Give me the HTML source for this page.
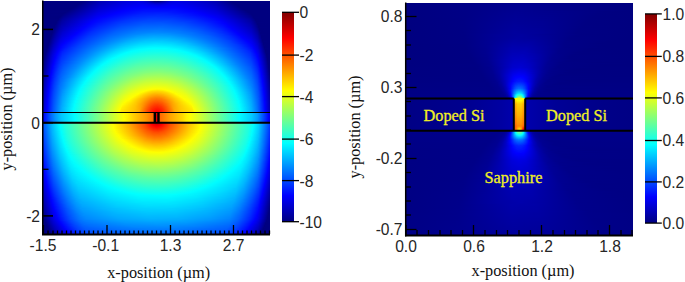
<!DOCTYPE html>
<html><head><meta charset="utf-8"><style>
*{margin:0;padding:0}
html,body{width:685px;height:282px;background:#fff;overflow:hidden}
body{position:relative;font-family:"Liberation Sans",sans-serif}
.a{position:absolute}
.hm i{display:block;height:1px}
.n{position:absolute;font:15.6px/16px "Liberation Sans",sans-serif;color:#262626;white-space:nowrap}
.s{position:absolute;font:16.3px/16px "Liberation Serif",serif;color:#111;white-space:nowrap}
.y{position:absolute;font:16.3px/16px "Liberation Serif",serif;color:#f2f024;-webkit-text-stroke:0.3px #f2f024;white-space:nowrap}
</style></head><body>
<div class="a hm" style="left:43px;top:1px;width:227px;height:233px">
<i style="background:linear-gradient(90deg,#000080 0.5px,#000082 40.5px,#0000b4 56.5px,#0000d8 79.5px,#0000e4 95.5px,#0000da 100.5px,#0000c3 104.5px,#000089 111.5px,#000080 114.5px,#000089 117.5px,#0000ca 125.5px,#0000dd 129.5px,#0000e3 135.5px,#0000cf 155.5px,#0000b2 172.5px,#000081 187.5px,#000080 226.5px)"></i>
<i style="background:linear-gradient(90deg,#000080 0.5px,#000081 38.5px,#0000b9 56.5px,#0000de 81.5px,#0000e8 95.5px,#0000e3 100.5px,#0000cf 105.5px,#0000ae 111.5px,#0000a9 115.5px,#0000b7 119.5px,#0000dd 126.5px,#0000e7 131.5px,#0000e2 142.5px,#0000c5 164.5px,#0000b3 173.5px,#000080 189.5px,#000080 226.5px)"></i>
<i style="background:linear-gradient(90deg,#000080 0.5px,#000080 36.5px,#0000bf 57.5px,#0000e3 82.5px,#0000ed 97.5px,#0000e4 103.5px,#0000c6 112.5px,#0000c6 116.5px,#0000e8 127.5px,#0000ec 135.5px,#0000d4 157.5px,#0000ba 172.5px,#000081 190.5px,#000080 226.5px)"></i>
<i style="background:linear-gradient(90deg,#000080 0.5px,#000082 35.5px,#0000a9 48.5px,#0000c1 56.5px,#0000e3 79.5px,#0000f2 96.5px,#0000ed 103.5px,#0000d9 113.5px,#0000db 117.5px,#0000ef 127.5px,#0000ef 137.5px,#0000cf 163.5px,#0000bc 173.5px,#000080 192.5px,#000080 226.5px)"></i>
<i style="background:linear-gradient(90deg,#000080 0.5px,#000081 33.5px,#0000b4 50.5px,#0000c7 57.5px,#0000ec 83.5px,#0000f7 99.5px,#0000e7 115.5px,#0000f6 129.5px,#0000ed 143.5px,#0000c9 169.5px,#0000ad 179.5px,#000080 194.5px,#000080 226.5px)"></i>
<i style="background:linear-gradient(90deg,#000080 0.5px,#000082 32.5px,#0000ca 56.5px,#0000f0 83.5px,#0000fc 99.5px,#0000f2 115.5px,#0000fb 129.5px,#0000ef 145.5px,#0000c8 172.5px,#000081 195.5px,#000080 226.5px)"></i>
<i style="background:linear-gradient(90deg,#000080 0.5px,#000081 30.5px,#0000ce 56.5px,#0000f6 84.5px,#0001ff 98.5px,#0000fc 118.5px,#0000fe 133.5px,#0000ea 153.5px,#0000c9 173.5px,#000080 197.5px,#000080 226.5px)"></i>
<i style="background:linear-gradient(90deg,#000080 0.5px,#000080 28.5px,#0000d0 55.5px,#0000f8 82.5px,#0002ff 92.5px,#0006ff 106.5px,#0003ff 134.5px,#0000f9 144.5px,#0000d2 171.5px,#000080 199.5px,#000080 226.5px)"></i>
<i style="background:linear-gradient(90deg,#000080 0.5px,#000082 27.5px,#0000d5 55.5px,#0000fc 82.5px,#000aff 100.5px,#0009ff 131.5px,#0000fc 145.5px,#0000d8 170.5px,#0000c2 178.5px,#000080 200.5px,#000080 226.5px)"></i>
<i style="background:linear-gradient(90deg,#000080 0.5px,#000080 25.5px,#0000d9 55.5px,#0000fe 80.5px,#0010ff 103.5px,#000dff 131.5px,#0000fc 149.5px,#0000d9 172.5px,#000080 202.5px,#000080 226.5px)"></i>
<i style="background:linear-gradient(90deg,#000080 0.5px,#000082 24.5px,#0000dd 55.5px,#0000ff 77.5px,#0013ff 99.5px,#0013ff 128.5px,#0000fe 151.5px,#0000db 173.5px,#000080 204.5px,#000080 226.5px)"></i>
<i style="background:linear-gradient(90deg,#000080 0.5px,#000081 22.5px,#0000e2 55.5px,#0001ff 74.5px,#0019ff 100.5px,#001bff 122.5px,#0006ff 149.5px,#0000fa 157.5px,#0000dd 174.5px,#000080 205.5px,#000080 226.5px)"></i>
<i style="background:linear-gradient(90deg,#000080 0.5px,#000080 20.5px,#0000e5 54.5px,#0001ff 71.5px,#001eff 100.5px,#0021ff 121.5px,#0010ff 143.5px,#0000fd 158.5px,#0000e1 174.5px,#000080 207.5px,#000080 226.5px)"></i>
<i style="background:linear-gradient(90deg,#000080 0.5px,#000082 19.5px,#0000e9 54.5px,#0001ff 68.5px,#0021ff 96.5px,#0027ff 117.5px,#001aff 139.5px,#0000fd 161.5px,#0000e6 174.5px,#000080 208.5px,#000080 226.5px)"></i>
<i style="background:linear-gradient(90deg,#000080 0.5px,#000081 18.5px,#000096 24.5px,#0000ee 54.5px,#0001ff 65.5px,#0025ff 94.5px,#002cff 114.5px,#0025ff 133.5px,#0000fd 164.5px,#0000e9 175.5px,#000089 207.5px,#000080 209.5px,#000080 226.5px)"></i>
<i style="background:linear-gradient(90deg,#000080 0.5px,#000080 17.5px,#00008f 20.5px,#0000f3 54.5px,#0001ff 62.5px,#0025ff 89.5px,#0031ff 108.5px,#002eff 127.5px,#0017ff 150.5px,#0000fd 167.5px,#0000eb 176.5px,#000089 208.5px,#000080 210.5px,#000080 226.5px)"></i>
<i style="background:linear-gradient(90deg,#000080 0.5px,#000080 16.5px,#000094 20.5px,#0000f8 54.5px,#0003ff 60.5px,#002cff 90.5px,#0037ff 112.5px,#0030ff 132.5px,#0018ff 153.5px,#0000fd 170.5px,#0000ea 178.5px,#00008e 208.5px,#000081 210.5px,#000080 226.5px)"></i>
<i style="background:linear-gradient(90deg,#000080 0.5px,#000080 15.5px,#00009a 20.5px,#0000fd 54.5px,#002fff 88.5px,#003cff 108.5px,#0038ff 129.5px,#001fff 152.5px,#0000fd 173.5px,#000098 207.5px,#000080 211.5px,#000080 226.5px)"></i>
<i style="background:linear-gradient(90deg,#000080 0.5px,#000082 15.5px,#00009b 19.5px,#0000fe 52.5px,#0034ff 87.5px,#0041ff 107.5px,#003eff 128.5px,#0029ff 149.5px,#0000fd 175.5px,#00009d 207.5px,#000080 212.5px,#000080 226.5px)"></i>
<i style="background:linear-gradient(90deg,#000080 0.5px,#000080 14.5px,#0000a1 19.5px,#0002ff 51.5px,#0036ff 84.5px,#0046ff 105.5px,#0044ff 127.5px,#002dff 150.5px,#0000fd 177.5px,#0000a3 207.5px,#000081 212.5px,#000080 226.5px)"></i>
<i style="background:linear-gradient(90deg,#000080 0.5px,#000080 13.5px,#0000a5 19.5px,#0001ff 49.5px,#0035ff 79.5px,#0049ff 100.5px,#004bff 123.5px,#0038ff 146.5px,#0006ff 176.5px,#0000fc 179.5px,#0000a2 208.5px,#000080 213.5px,#000080 226.5px)"></i>
<i style="background:linear-gradient(90deg,#000080 0.5px,#000080 13.5px,#0000a4 18.5px,#0002ff 48.5px,#0033ff 74.5px,#004cff 96.5px,#0052ff 117.5px,#0045ff 139.5px,#0027ff 160.5px,#0004ff 178.5px,#0000f4 183.5px,#0000a6 208.5px,#000082 213.5px,#000080 226.5px)"></i>
<i style="background:linear-gradient(90deg,#000080 0.5px,#000080 12.5px,#000083 13.5px,#0000a7 18.5px,#0000c5 27.5px,#0000ff 46.5px,#0013ff 54.5px,#003eff 78.5px,#0053ff 99.5px,#0057ff 119.5px,#0048ff 141.5px,#0025ff 164.5px,#0000fe 181.5px,#0000ae 207.5px,#00008e 212.5px,#000080 214.5px,#000080 226.5px)"></i>
<i style="background:linear-gradient(90deg,#000080 0.5px,#000080 12.5px,#0000ab 18.5px,#0000c5 26.5px,#0001ff 45.5px,#0019ff 55.5px,#0042ff 77.5px,#0059ff 100.5px,#005cff 120.5px,#004dff 141.5px,#002fff 161.5px,#0009ff 179.5px,#0000fc 183.5px,#0000b2 207.5px,#000092 212.5px,#000081 214.5px,#000080 226.5px)"></i>
<i style="background:linear-gradient(90deg,#000080 0.5px,#000080 11.5px,#00008b 13.5px,#0000af 18.5px,#0002ff 44.5px,#0020ff 56.5px,#0048ff 78.5px,#005fff 101.5px,#0061ff 121.5px,#0052ff 141.5px,#0034ff 161.5px,#000dff 179.5px,#0000fd 184.5px,#0000b1 208.5px,#000080 215.5px,#000080 226.5px)"></i>
<i style="background:linear-gradient(90deg,#000080 0.5px,#000080 11.5px,#0000b3 18.5px,#0000ff 42.5px,#0025ff 56.5px,#004fff 79.5px,#0063ff 99.5px,#0067ff 119.5px,#0059ff 140.5px,#0039ff 161.5px,#0011ff 179.5px,#0000fe 185.5px,#0000b5 208.5px,#000089 214.5px,#000080 215.5px,#000080 226.5px)"></i>
<i style="background:linear-gradient(90deg,#000080 0.5px,#000081 11.5px,#0000aa 16.5px,#0000bf 20.5px,#0001ff 41.5px,#0023ff 53.5px,#0051ff 77.5px,#0067ff 97.5px,#006cff 117.5px,#0061ff 137.5px,#0042ff 159.5px,#0016ff 179.5px,#0000ff 186.5px,#0000bd 207.5px,#00009d 212.5px,#000082 215.5px,#000080 226.5px)"></i>
<i style="background:linear-gradient(90deg,#000080 0.5px,#000080 10.5px,#00008e 12.5px,#0000b4 17.5px,#0000c5 21.5px,#0002ff 40.5px,#0023ff 51.5px,#0053ff 75.5px,#006bff 95.5px,#0072ff 117.5px,#0066ff 137.5px,#004cff 156.5px,#001eff 178.5px,#0000fd 188.5px,#0000bc 208.5px,#000099 213.5px,#000080 216.5px,#000080 226.5px)"></i>
<i style="background:linear-gradient(90deg,#000080 0.5px,#000080 10.5px,#0000b1 16.5px,#0000c6 20.5px,#0000ff 38.5px,#002aff 52.5px,#0058ff 75.5px,#0071ff 96.5px,#0077ff 116.5px,#006dff 135.5px,#0053ff 155.5px,#0025ff 177.5px,#0000fe 189.5px,#0000c0 208.5px,#00009d 213.5px,#000080 216.5px,#000080 226.5px)"></i>
<i style="background:linear-gradient(90deg,#000080 0.5px,#000080 9.5px,#00008d 11.5px,#0000bc 17.5px,#0000d3 23.5px,#0001ff 37.5px,#002cff 51.5px,#005aff 73.5px,#0073ff 93.5px,#007dff 113.5px,#0074ff 133.5px,#005dff 152.5px,#0031ff 174.5px,#0017ff 183.5px,#0000ff 190.5px,#0000c4 208.5px,#000098 214.5px,#000081 216.5px,#000080 226.5px)"></i>
<i style="background:linear-gradient(90deg,#000080 0.5px,#000080 9.5px,#0000b9 16.5px,#0000ce 20.5px,#0002ff 36.5px,#002cff 49.5px,#005fff 73.5px,#007aff 94.5px,#0082ff 115.5px,#0077ff 136.5px,#005bff 156.5px,#002cff 178.5px,#0001ff 191.5px,#0000c7 208.5px,#00009c 214.5px,#000085 216.5px,#000080 218.5px,#000080 226.5px)"></i>
<i style="background:linear-gradient(90deg,#000080 0.5px,#000081 9.5px,#0000b6 15.5px,#0000ce 19.5px,#0000fe 34.5px,#002eff 48.5px,#0062ff 72.5px,#007eff 93.5px,#0088ff 113.5px,#0081ff 130.5px,#006cff 149.5px,#0046ff 169.5px,#0021ff 183.5px,#0000fd 193.5px,#0000cb 208.5px,#0000a0 214.5px,#000088 216.5px,#000080 217.5px,#000080 226.5px)"></i>
<i style="background:linear-gradient(90deg,#000080 0.5px,#000080 8.5px,#000085 9.5px,#0000b2 14.5px,#0000d2 19.5px,#0000ff 33.5px,#0030ff 47.5px,#0065ff 71.5px,#0080ff 90.5px,#008fff 108.5px,#008dff 124.5px,#0071ff 149.5px,#0046ff 171.5px,#0023ff 184.5px,#0000fe 194.5px,#0000cf 208.5px,#0000a4 214.5px,#000080 217.5px,#000080 226.5px)"></i>
<i style="background:linear-gradient(90deg,#000080 0.5px,#000080 8.5px,#0000b6 14.5px,#0000d5 19.5px,#0001ff 32.5px,#0031ff 46.5px,#0060ff 66.5px,#0081ff 86.5px,#0095ff 104.5px,#0097ff 119.5px,#0089ff 135.5px,#0066ff 158.5px,#0037ff 179.5px,#0019ff 188.5px,#0000ff 195.5px,#0000d3 208.5px,#0000a8 214.5px,#000083 217.5px,#000080 223.5px,#000080 226.5px)"></i>
<i style="background:linear-gradient(90deg,#000080 0.5px,#000082 8.5px,#0000a9 12.5px,#0000d4 18.5px,#0000f4 27.5px,#0002ff 31.5px,#0033ff 45.5px,#0065ff 66.5px,#0092ff 93.5px,#009fff 110.5px,#009aff 126.5px,#0084ff 143.5px,#005dff 165.5px,#002aff 185.5px,#0001ff 196.5px,#0000d7 208.5px,#0000ac 214.5px,#000087 217.5px,#000080 218.5px,#000080 226.5px)"></i>
<i style="background:linear-gradient(90deg,#000080 0.5px,#000080 7.5px,#000085 8.5px,#0000ad 12.5px,#0000d8 18.5px,#0000ff 29.5px,#0038ff 45.5px,#006eff 68.5px,#009dff 96.5px,#00a7ff 112.5px,#00a0ff 128.5px,#0088ff 144.5px,#0062ff 165.5px,#002fff 185.5px,#0000fe 198.5px,#0000db 208.5px,#0000af 214.5px,#000080 218.5px,#000080 226.5px)"></i>
<i style="background:linear-gradient(90deg,#000080 0.5px,#000080 7.5px,#0000b9 13.5px,#0000e2 19.5px,#0001ff 28.5px,#0039ff 44.5px,#006dff 65.5px,#00a2ff 94.5px,#00aeff 110.5px,#00aaff 125.5px,#0097ff 140.5px,#0059ff 171.5px,#002cff 187.5px,#0000ff 199.5px,#0000df 208.5px,#0000b3 214.5px,#000081 218.5px,#000080 226.5px)"></i>
<i style="background:linear-gradient(90deg,#000080 0.5px,#000081 7.5px,#0000ac 11.5px,#0000e1 18.5px,#0001ff 27.5px,#003bff 43.5px,#0074ff 66.5px,#00a7ff 92.5px,#00b6ff 109.5px,#00b2ff 125.5px,#009dff 141.5px,#0056ff 174.5px,#002aff 189.5px,#0001ff 200.5px,#0000e3 208.5px,#0000b7 214.5px,#000085 218.5px,#000080 220.5px,#000080 226.5px)"></i>
<i style="background:linear-gradient(90deg,#000080 0.5px,#000080 6.5px,#000085 7.5px,#0000b0 11.5px,#0000df 17.5px,#0000f1 21.5px,#0002ff 26.5px,#0039ff 41.5px,#0072ff 63.5px,#00adff 91.5px,#00bdff 107.5px,#00bbff 123.5px,#00a8ff 139.5px,#0058ff 175.5px,#002bff 190.5px,#0002ff 201.5px,#0000ed 207.5px,#0000cc 212.5px,#0000b0 215.5px,#000089 218.5px,#000080 219.5px,#000080 226.5px)"></i>
<i style="background:linear-gradient(90deg,#000080 0.5px,#000080 6.5px,#0000b4 11.5px,#0000e3 17.5px,#0000f5 21.5px,#0003ff 25.5px,#003eff 41.5px,#0079ff 64.5px,#00acff 86.5px,#00c1ff 102.5px,#00c5ff 118.5px,#00b6ff 135.5px,#0096ff 151.5px,#0041ff 185.5px,#0000fe 203.5px,#0000ec 208.5px,#0000bf 214.5px,#000080 219.5px,#000080 226.5px)"></i>
<i style="background:linear-gradient(90deg,#000080 0.5px,#000081 6.5px,#0000af 10.5px,#0000e7 17.5px,#0000f9 21.5px,#0004ff 24.5px,#003fff 40.5px,#007eff 64.5px,#00b3ff 86.5px,#00c9ff 102.5px,#00cdff 118.5px,#00bfff 134.5px,#009dff 151.5px,#0042ff 186.5px,#0000ff 204.5px,#0000f0 208.5px,#0000c3 214.5px,#000083 219.5px,#000080 225.5px,#000080 226.5px)"></i>
<i style="background:linear-gradient(90deg,#000080 0.5px,#000080 5.5px,#000085 6.5px,#0000bc 11.5px,#0000eb 17.5px,#0000fd 21.5px,#001bff 29.5px,#0040ff 39.5px,#007cff 61.5px,#00b4ff 83.5px,#00cbff 97.5px,#00d5ff 112.5px,#00ceff 128.5px,#00b6ff 143.5px,#008eff 159.5px,#0046ff 186.5px,#001fff 197.5px,#0001ff 205.5px,#0000ee 209.5px,#0000c7 214.5px,#000087 219.5px,#000080 220.5px,#000080 226.5px)"></i>
<i style="background:linear-gradient(90deg,#000080 0.5px,#000080 5.5px,#0000c9 12.5px,#0000f5 18.5px,#0002ff 21.5px,#0041ff 38.5px,#007eff 60.5px,#00baff 82.5px,#00d4ff 98.5px,#00ddff 114.5px,#00d3ff 130.5px,#00baff 145.5px,#008cff 162.5px,#0041ff 189.5px,#0013ff 201.5px,#0000fd 207.5px,#0000dc 212.5px,#0000c1 215.5px,#000080 220.5px,#000080 226.5px)"></i>
<i style="background:linear-gradient(90deg,#000080 0.5px,#000080 5.5px,#0000bb 10.5px,#0000f3 17.5px,#0000fe 19.5px,#0042ff 37.5px,#0083ff 60.5px,#00baff 79.5px,#00d8ff 95.5px,#00e4ff 111.5px,#00deff 127.5px,#00c5ff 143.5px,#0096ff 161.5px,#0073ff 173.5px,#0039ff 193.5px,#0002ff 207.5px,#0000ef 210.5px,#0000c5 215.5px,#000081 220.5px,#000080 226.5px)"></i>
<i style="background:linear-gradient(90deg,#000080 0.5px,#000080 4.5px,#000084 5.5px,#0000bf 10.5px,#0000f7 17.5px,#0003ff 19.5px,#0043ff 36.5px,#009cff 66.5px,#00c8ff 82.5px,#00e2ff 97.5px,#00ecff 112.5px,#00e4ff 128.5px,#00cdff 143.5px,#009cff 161.5px,#0075ff 174.5px,#0036ff 195.5px,#0001ff 208.5px,#0000d4 214.5px,#000085 220.5px,#000080 222.5px,#000080 226.5px)"></i>
<i style="background:linear-gradient(90deg,#000080 0.5px,#000080 4.5px,#000094 6.5px,#0000cc 11.5px,#0000fb 17.5px,#0007ff 19.5px,#0044ff 35.5px,#0092ff 61.5px,#00c3ff 77.5px,#00e3ff 92.5px,#00f2ff 107.5px,#00f1ff 122.5px,#00e1ff 136.5px,#00c1ff 151.5px,#0088ff 169.5px,#0037ff 196.5px,#0000fe 209.5px,#0000d8 214.5px,#000089 220.5px,#000080 221.5px,#000080 226.5px)"></i>
<i style="background:linear-gradient(90deg,#000080 0.5px,#000080 4.5px,#0000c7 10.5px,#0000ff 17.5px,#0034ff 29.5px,#0099ff 61.5px,#00d2ff 80.5px,#00f0ff 96.5px,#00fbff 111.5px,#00f6ff 125.5px,#00e3ff 139.5px,#00c2ff 153.5px,#006aff 181.5px,#0034ff 198.5px,#0009ff 208.5px,#0000fb 210.5px,#0000dc 214.5px,#000080 221.5px,#000080 226.5px)"></i>
<i style="background:linear-gradient(90deg,#000080 0.5px,#000083 4.5px,#0000cb 10.5px,#0000fc 16.5px,#001cff 22.5px,#0042ff 32.5px,#0098ff 59.5px,#00d2ff 77.5px,#00f2ff 92.5px,#01fffe 105.5px,#01fffe 122.5px,#00f2ff 135.5px,#00cfff 151.5px,#0095ff 169.5px,#005cff 187.5px,#0024ff 203.5px,#0007ff 209.5px,#0000ff 210.5px,#0000e0 214.5px,#000091 220.5px,#000083 221.5px,#000080 226.5px)"></i>
<i style="background:linear-gradient(90deg,#000080 0.5px,#000080 3.5px,#000087 4.5px,#0000cf 10.5px,#0001ff 16.5px,#001dff 21.5px,#0050ff 35.5px,#0090ff 55.5px,#00ceff 73.5px,#00f4ff 89.5px,#01fffe 97.5px,#08fff7 115.5px,#00feff 132.5px,#00deff 148.5px,#00aaff 165.5px,#007eff 177.5px,#0035ff 200.5px,#0012ff 208.5px,#0000fc 211.5px,#0000d9 215.5px,#000087 221.5px,#000080 222.5px,#000080 226.5px)"></i>
<i style="background:linear-gradient(90deg,#000080 0.5px,#000080 3.5px,#0000d3 10.5px,#0000fd 15.5px,#0022ff 21.5px,#006eff 43.5px,#0092ff 54.5px,#00d8ff 74.5px,#00fdff 90.5px,#0efff1 110.5px,#08fff7 128.5px,#00fdff 137.5px,#00ddff 151.5px,#00a2ff 169.5px,#007dff 179.5px,#002eff 203.5px,#0017ff 208.5px,#0001ff 211.5px,#0000dd 215.5px,#000080 222.5px,#000080 226.5px)"></i>
<i style="background:linear-gradient(90deg,#000080 0.5px,#000082 3.5px,#0000cd 9.5px,#0000f9 14.5px,#0002ff 15.5px,#001eff 19.5px,#0072ff 43.5px,#0094ff 53.5px,#00d9ff 72.5px,#00ffff 87.5px,#11ffee 104.5px,#11ffee 123.5px,#00fdff 141.5px,#00d5ff 156.5px,#0094ff 174.5px,#0072ff 184.5px,#0026ff 206.5px,#0000fc 212.5px,#0000e1 215.5px,#000081 222.5px,#000080 226.5px)"></i>
<i style="background:linear-gradient(90deg,#000080 0.5px,#000080 2.5px,#000086 3.5px,#0000d1 9.5px,#0000fd 14.5px,#0022ff 19.5px,#0076ff 43.5px,#009aff 53.5px,#00d9ff 70.5px,#00feff 83.5px,#16ffe9 103.5px,#18ffe7 120.5px,#07fff8 139.5px,#00feff 144.5px,#00cfff 160.5px,#0079ff 183.5px,#0026ff 207.5px,#0001ff 212.5px,#0000e5 215.5px,#000085 222.5px,#000080 224.5px,#000080 226.5px)"></i>
<i style="background:linear-gradient(90deg,#000080 0.5px,#000080 2.5px,#0000df 10.5px,#0002ff 14.5px,#0026ff 19.5px,#007dff 44.5px,#00ddff 69.5px,#01fffe 81.5px,#18ffe7 98.5px,#1effe1 115.5px,#15ffea 132.5px,#00fdff 147.5px,#00d6ff 160.5px,#0090ff 178.5px,#006dff 188.5px,#002aff 207.5px,#0000fc 213.5px,#0000e9 215.5px,#000089 222.5px,#000080 223.5px,#000080 226.5px)"></i>
<i style="background:linear-gradient(90deg,#000080 0.5px,#000081 2.5px,#0000d8 9.5px,#0000fd 13.5px,#0029ff 19.5px,#0091ff 48.5px,#00ddff 67.5px,#00ffff 78.5px,#1bffe4 96.5px,#24ffdb 114.5px,#1bffe4 131.5px,#02fffd 148.5px,#00f1ff 154.5px,#00abff 173.5px,#007eff 184.5px,#002dff 207.5px,#000aff 212.5px,#0001ff 213.5px,#0000ed 215.5px,#000080 223.5px,#000080 226.5px)"></i>
<i style="background:linear-gradient(90deg,#000080 0.5px,#000085 2.5px,#0000dc 9.5px,#0001ff 13.5px,#002dff 19.5px,#008eff 46.5px,#00e4ff 67.5px,#01fffe 76.5px,#1cffe3 92.5px,#29ffd6 109.5px,#25ffda 126.5px,#12ffed 142.5px,#00feff 152.5px,#00c5ff 168.5px,#007bff 186.5px,#0030ff 207.5px,#0005ff 213.5px,#0000fb 214.5px,#0000a0 221.5px,#000082 223.5px,#000080 226.5px)"></i>
<i style="background:linear-gradient(90deg,#000080 0.5px,#000080 1.5px,#000096 3.5px,#0000e9 10.5px,#0000fa 12.5px,#000dff 14.5px,#0030ff 19.5px,#008bff 44.5px,#00e3ff 65.5px,#02fffd 74.5px,#22ffdd 92.5px,#2fffd0 110.5px,#2affd5 127.5px,#14ffeb 144.5px,#00feff 154.5px,#00cbff 168.5px,#007cff 187.5px,#0034ff 207.5px,#0011ff 212.5px,#0000fe 214.5px,#0000a3 221.5px,#000086 223.5px,#000080 224.5px,#000080 226.5px)"></i>
<i style="background:linear-gradient(90deg,#000080 0.5px,#000080 1.5px,#0000e1 9.5px,#0000fd 12.5px,#002eff 18.5px,#0068ff 33.5px,#008cff 43.5px,#00e6ff 64.5px,#00ffff 71.5px,#20ffdf 87.5px,#32ffcd 104.5px,#33ffcc 120.5px,#26ffd9 136.5px,#05fffa 154.5px,#00fcff 157.5px,#00acff 177.5px,#007cff 188.5px,#0037ff 207.5px,#0014ff 212.5px,#0002ff 214.5px,#0000e9 216.5px,#000088 223.5px,#000080 224.5px,#000080 226.5px)"></i>
<i style="background:linear-gradient(90deg,#000080 0.5px,#000081 1.5px,#0000e4 9.5px,#0002ff 12.5px,#0031ff 18.5px,#0068ff 32.5px,#008dff 42.5px,#00e9ff 63.5px,#00ffff 69.5px,#24ffdb 86.5px,#37ffc8 103.5px,#39ffc6 120.5px,#2affd5 137.5px,#0afff5 154.5px,#00ffff 158.5px,#00b2ff 177.5px,#007dff 189.5px,#003bff 207.5px,#000fff 213.5px,#0006ff 214.5px,#0000f9 215.5px,#000080 224.5px,#000080 226.5px)"></i>
<i style="background:linear-gradient(90deg,#000080 0.5px,#000084 1.5px,#0000e6 9.5px,#0000fb 11.5px,#000eff 13.5px,#0034ff 18.5px,#006fff 33.5px,#0092ff 42.5px,#00ebff 62.5px,#00feff 67.5px,#29ffd6 86.5px,#3effc1 105.5px,#3effc1 122.5px,#29ffd6 141.5px,#00feff 160.5px,#00b3ff 178.5px,#007dff 190.5px,#003eff 207.5px,#001bff 212.5px,#0000fd 215.5px,#000080 224.5px,#000080 226.5px)"></i>
<i style="background:linear-gradient(90deg,#000080 0.5px,#000086 1.5px,#0000e9 9.5px,#0000fe 11.5px,#0038ff 18.5px,#0081ff 37.5px,#00faff 64.5px,#07fff8 68.5px,#2bffd4 84.5px,#40ffbf 100.5px,#45ffba 118.5px,#36ffc9 136.5px,#14ffeb 154.5px,#00fdff 162.5px,#00a6ff 182.5px,#007dff 191.5px,#0041ff 207.5px,#001eff 212.5px,#0001ff 215.5px,#000081 224.5px,#000080 226.5px)"></i>
<i style="background:linear-gradient(90deg,#000080 0.5px,#000095 2.5px,#0000f7 10.5px,#0002ff 11.5px,#0034ff 17.5px,#0049ff 21.5px,#008eff 39.5px,#00f4ff 61.5px,#01fffe 64.5px,#2cffd3 82.5px,#43ffbc 98.5px,#4bffb4 114.5px,#42ffbd 130.5px,#2affd5 146.5px,#01fffe 163.5px,#00b5ff 180.5px,#007dff 192.5px,#003fff 208.5px,#000fff 214.5px,#0004ff 215.5px,#0000e8 217.5px,#000084 224.5px,#000080 226.5px)"></i>
<i style="background:linear-gradient(90deg,#000080 0.5px,#0000fa 10.5px,#000eff 12.5px,#003eff 18.5px,#0081ff 35.5px,#00faff 61.5px,#05fffa 64.5px,#2fffd0 81.5px,#4affb5 99.5px,#50ffaf 115.5px,#47ffb8 131.5px,#2bffd4 148.5px,#00feff 165.5px,#008fff 189.5px,#007dff 193.5px,#0042ff 208.5px,#0012ff 214.5px,#0007ff 215.5px,#0000f9 216.5px,#000086 224.5px,#000080 225.5px,#000080 226.5px)"></i>
<i style="background:linear-gradient(90deg,#000080 0.5px,#0000fd 10.5px,#0041ff 18.5px,#0089ff 36.5px,#00efff 57.5px,#01fffe 61.5px,#30ffcf 79.5px,#4bffb4 95.5px,#56ffa9 111.5px,#50ffaf 127.5px,#3affc5 143.5px,#13ffec 160.5px,#01fffe 166.5px,#00a8ff 185.5px,#0081ff 193.5px,#0045ff 208.5px,#0015ff 214.5px,#0000fb 216.5px,#000088 224.5px,#000080 225.5px,#000080 226.5px)"></i>
<i style="background:linear-gradient(90deg,#000081 0.5px,#0000f5 9.5px,#0001ff 10.5px,#0036ff 16.5px,#004eff 20.5px,#008eff 36.5px,#00feff 59.5px,#33ffcc 78.5px,#4fffb0 94.5px,#5bffa4 110.5px,#56ffa9 126.5px,#41ffbe 142.5px,#1affe5 159.5px,#00feff 168.5px,#0089ff 192.5px,#0048ff 208.5px,#0018ff 214.5px,#0000fe 216.5px,#00008a 224.5px,#000080 225.5px,#000080 226.5px)"></i>
<i style="background:linear-gradient(90deg,#000083 0.5px,#0000f8 9.5px,#0004ff 10.5px,#0039ff 16.5px,#0051ff 20.5px,#008eff 35.5px,#01fffe 58.5px,#36ffc9 77.5px,#53ffac 93.5px,#60ff9f 108.5px,#5effa1 123.5px,#4cffb3 139.5px,#27ffd8 156.5px,#01fffe 169.5px,#007cff 196.5px,#004bff 208.5px,#001bff 214.5px,#0002ff 216.5px,#0000aa 222.5px,#000080 225.5px,#000080 226.5px)"></i>
<i style="background:linear-gradient(90deg,#000085 0.5px,#0000fb 9.5px,#0011ff 11.5px,#0043ff 17.5px,#0059ff 21.5px,#0088ff 33.5px,#00fdff 56.5px,#3bffc4 77.5px,#5affa5 94.5px,#66ff99 110.5px,#62ff9d 125.5px,#4cffb3 142.5px,#1effe1 161.5px,#00fdff 171.5px,#0080ff 196.5px,#0054ff 207.5px,#0030ff 212.5px,#0013ff 215.5px,#0005ff 216.5px,#0000e8 218.5px,#000080 225.5px,#000080 226.5px)"></i>
<i style="background:linear-gradient(90deg,#000087 0.5px,#0000fd 9.5px,#003fff 16.5px,#0058ff 20.5px,#008dff 33.5px,#00feff 55.5px,#3bffc4 75.5px,#5bffa4 91.5px,#6bff94 107.5px,#69ff96 123.5px,#56ffa9 139.5px,#31ffce 156.5px,#00feff 172.5px,#007bff 198.5px,#0057ff 207.5px,#002aff 213.5px,#0016ff 215.5px,#0008ff 216.5px,#0000f9 217.5px,#000081 225.5px,#000080 226.5px)"></i>
<i style="background:linear-gradient(90deg,#000089 0.5px,#0001ff 9.5px,#003aff 15.5px,#005bff 20.5px,#008cff 32.5px,#00ffff 54.5px,#3bffc4 73.5px,#5fffa0 90.5px,#71ff8e 108.5px,#6eff91 124.5px,#58ffa7 141.5px,#2dffd2 159.5px,#00ffff 173.5px,#007aff 199.5px,#005aff 207.5px,#002dff 213.5px,#0019ff 215.5px,#0000fc 217.5px,#000083 225.5px,#000080 226.5px)"></i>
<i style="background:linear-gradient(90deg,#00008b 0.5px,#0000f6 8.5px,#0004ff 9.5px,#003dff 15.5px,#0059ff 19.5px,#0091ff 32.5px,#00ffff 53.5px,#3affc5 71.5px,#5fffa0 87.5px,#73ff8c 103.5px,#77ff88 117.5px,#6aff95 133.5px,#4cffb3 149.5px,#19ffe6 167.5px,#00ffff 174.5px,#007eff 199.5px,#0057ff 208.5px,#0027ff 214.5px,#0000ff 217.5px,#000085 225.5px,#000080 226.5px)"></i>
<i style="background:linear-gradient(90deg,#00008d 0.5px,#0000f9 8.5px,#0007ff 9.5px,#0048ff 16.5px,#0060ff 20.5px,#0090ff 31.5px,#01fffe 52.5px,#3fffc0 71.5px,#66ff99 88.5px,#79ff86 104.5px,#7cff83 118.5px,#6eff91 134.5px,#4cffb3 151.5px,#13ffec 170.5px,#01fffe 175.5px,#0081ff 199.5px,#005aff 208.5px,#0029ff 214.5px,#0002ff 217.5px,#0000b7 222.5px,#000087 225.5px,#000080 226.5px)"></i>
<i style="background:linear-gradient(90deg,#00008f 0.5px,#0000fc 8.5px,#003aff 14.5px,#005fff 19.5px,#008fff 30.5px,#01fffe 51.5px,#3effc1 69.5px,#69ff96 87.5px,#7eff81 103.5px,#83ff7c 116.5px,#76ff89 132.5px,#56ffa9 149.5px,#21ffde 167.5px,#01fffe 176.5px,#0080ff 200.5px,#005dff 208.5px,#002cff 214.5px,#0005ff 217.5px,#0000f6 218.5px,#000089 225.5px,#000080 226.5px)"></i>
<i style="background:linear-gradient(90deg,#000091 0.5px,#0000fe 8.5px,#0034ff 13.5px,#005bff 18.5px,#0093ff 30.5px,#01fffe 50.5px,#3cffc3 67.5px,#66ff99 83.5px,#7fff80 98.5px,#8aff75 112.5px,#83ff7c 126.5px,#68ff97 143.5px,#3fffc0 159.5px,#05fffa 176.5px,#00fbff 178.5px,#007fff 201.5px,#0060ff 208.5px,#002fff 214.5px,#0008ff 217.5px,#0000f8 218.5px,#00008c 225.5px,#000080 226.5px)"></i>
<i style="background:linear-gradient(90deg,#000093 0.5px,#0000f4 7.5px,#0002ff 8.5px,#002dff 12.5px,#005eff 18.5px,#008cff 28.5px,#01fffe 49.5px,#44ffbb 68.5px,#71ff8e 86.5px,#8dff72 104.5px,#91ff6e 117.5px,#84ff7b 130.5px,#62ff9d 148.5px,#34ffcb 164.5px,#01fffe 178.5px,#0082ff 201.5px,#0062ff 208.5px,#003bff 213.5px,#0018ff 216.5px,#0000fb 218.5px,#000080 226.5px)"></i>
<i style="background:linear-gradient(90deg,#000094 0.5px,#0000f6 7.5px,#0004ff 8.5px,#0030ff 12.5px,#0061ff 18.5px,#008aff 27.5px,#01fffe 48.5px,#45ffba 67.5px,#70ff8f 83.5px,#91ff6e 101.5px,#98ff67 115.5px,#8fff70 127.5px,#69ff96 147.5px,#35ffca 165.5px,#01fffe 179.5px,#0080ff 202.5px,#0065ff 208.5px,#0034ff 214.5px,#0000fd 218.5px,#000080 226.5px)"></i>
<i style="background:linear-gradient(90deg,#000097 0.5px,#0000f9 7.5px,#0007ff 8.5px,#0032ff 12.5px,#005dff 17.5px,#0072ff 21.5px,#0094ff 28.5px,#01fffe 47.5px,#46ffb9 66.5px,#75ff8a 83.5px,#99ff66 102.5px,#9fff60 115.5px,#96ff69 127.5px,#6eff91 147.5px,#40ffbf 163.5px,#01fffe 180.5px,#007fff 203.5px,#0068ff 208.5px,#0037ff 214.5px,#0001ff 218.5px,#000083 226.5px)"></i>
<i style="background:linear-gradient(90deg,#000099 0.5px,#0000fb 7.5px,#0016ff 9.5px,#0050ff 15.5px,#0071ff 20.5px,#008cff 26.5px,#00ffff 46.5px,#44ffbb 64.5px,#78ff87 82.5px,#9cff63 99.5px,#a6ff59 111.5px,#a1ff5e 124.5px,#8bff74 137.5px,#54ffab 158.5px,#18ffe7 175.5px,#00ffff 181.5px,#0082ff 203.5px,#006aff 208.5px,#0039ff 214.5px,#0003ff 218.5px,#0000c6 222.5px,#000085 226.5px)"></i>
<i style="background:linear-gradient(90deg,#00009b 0.5px,#0000fd 7.5px,#0041ff 13.5px,#006fff 19.5px,#008aff 25.5px,#00ffff 45.5px,#48ffb7 64.5px,#78ff87 80.5px,#9eff61 96.5px,#acff53 108.5px,#abff54 121.5px,#96ff69 135.5px,#58ffa7 158.5px,#1cffe3 175.5px,#00ffff 182.5px,#0080ff 204.5px,#006dff 208.5px,#003cff 214.5px,#0005ff 218.5px,#0000f6 219.5px,#000087 226.5px)"></i>
<i style="background:linear-gradient(90deg,#00009d 0.5px,#0001ff 7.5px,#0030ff 11.5px,#0064ff 17.5px,#007fff 22.5px,#00f2ff 42.5px,#00feff 44.5px,#53ffac 66.5px,#98ff67 90.5px,#b0ff4f 104.5px,#b4ff4b 116.5px,#abff54 127.5px,#93ff6c 139.5px,#4cffb3 163.5px,#07fff8 181.5px,#00feff 183.5px,#0083ff 204.5px,#006fff 208.5px,#003eff 214.5px,#0008ff 218.5px,#0000f8 219.5px,#000089 226.5px)"></i>
<i style="background:linear-gradient(90deg,#0000a0 0.5px,#0000f5 6.5px,#0003ff 7.5px,#0032ff 11.5px,#0067ff 17.5px,#007dff 21.5px,#00d9ff 37.5px,#02fffd 44.5px,#4dffb2 63.5px,#a1ff5e 91.5px,#b8ff47 105.5px,#bbff44 118.5px,#adff52 130.5px,#8eff71 143.5px,#46ffb9 166.5px,#02fffd 183.5px,#00d3ff 191.5px,#007dff 206.5px,#0063ff 210.5px,#0040ff 214.5px,#000aff 218.5px,#0000fa 219.5px,#00008b 226.5px)"></i>
<i style="background:linear-gradient(90deg,#0000a2 0.5px,#0000f7 6.5px,#0005ff 7.5px,#0034ff 11.5px,#0069ff 17.5px,#00aeff 29.5px,#01fffe 43.5px,#51ffae 63.5px,#a5ff5a 90.5px,#bdff42 103.5px,#c3ff3c 115.5px,#b9ff46 127.5px,#9dff62 140.5px,#4affb5 166.5px,#01fffe 184.5px,#007fff 206.5px,#0066ff 210.5px,#0043ff 214.5px,#0000fd 219.5px,#00008e 226.5px)"></i>
<i style="background:linear-gradient(90deg,#0000a4 0.5px,#0000f9 6.5px,#0007ff 7.5px,#0037ff 11.5px,#006bff 17.5px,#0082ff 21.5px,#00ffff 42.5px,#4effb1 61.5px,#a9ff56 89.5px,#c1ff3e 101.5px,#caff35 113.5px,#c2ff3d 125.5px,#aeff51 136.5px,#63ff9c 160.5px,#16ffe9 180.5px,#00ffff 185.5px,#0070ff 209.5px,#0045ff 214.5px,#0000ff 219.5px,#000090 226.5px)"></i>
<i style="background:linear-gradient(90deg,#0000a6 0.5px,#0000fb 6.5px,#0017ff 8.5px,#0043ff 12.5px,#0075ff 18.5px,#00bbff 30.5px,#00fdff 41.5px,#60ff9f 65.5px,#afff50 89.5px,#cbff34 103.5px,#d1ff2e 116.5px,#c5ff3a 128.5px,#a4ff5b 142.5px,#3effc1 171.5px,#00fdff 186.5px,#0072ff 209.5px,#0047ff 214.5px,#0002ff 219.5px,#0000a2 225.5px,#000092 226.5px)"></i>
<i style="background:linear-gradient(90deg,#0000a8 0.5px,#0000fd 6.5px,#003bff 11.5px,#0070ff 17.5px,#02fffd 41.5px,#55ffaa 61.5px,#b3ff4c 88.5px,#cfff30 101.5px,#d8ff27 113.5px,#d1ff2e 124.5px,#bbff44 136.5px,#8bff74 151.5px,#2effd1 176.5px,#02fffd 186.5px,#007bff 208.5px,#0053ff 213.5px,#0030ff 216.5px,#0004ff 219.5px,#0000e4 221.5px,#000094 226.5px)"></i>
<i style="background:linear-gradient(90deg,#0000aa 0.5px,#0000ff 6.5px,#0033ff 10.5px,#0072ff 17.5px,#00ffff 40.5px,#55ffaa 60.5px,#b3ff4c 86.5px,#d1ff2e 98.5px,#deff21 110.5px,#dbff24 122.5px,#c4ff3b 135.5px,#98ff67 149.5px,#2dffd2 177.5px,#00ffff 187.5px,#0077ff 209.5px,#004bff 214.5px,#0015ff 218.5px,#0006ff 219.5px,#0000f6 220.5px,#000096 226.5px)"></i>
<i style="background:linear-gradient(90deg,#0000ab 0.5px,#0002ff 6.5px,#0035ff 10.5px,#006dff 16.5px,#00fdff 39.5px,#5dffa2 61.5px,#b9ff46 86.5px,#d7ff28 98.5px,#e6ff19 111.5px,#e0ff1f 123.5px,#caff35 135.5px,#a1ff5e 148.5px,#2cffd3 178.5px,#00fdff 188.5px,#0079ff 209.5px,#004dff 214.5px,#0017ff 218.5px,#0008ff 219.5px,#0000f8 220.5px,#000097 226.5px)"></i>
<i style="background:linear-gradient(90deg,#0000ad 0.5px,#0000f5 5.5px,#0004ff 6.5px,#0037ff 10.5px,#006fff 16.5px,#00fbff 38.5px,#06fff9 40.5px,#5cffa3 60.5px,#bcff43 85.5px,#deff21 98.5px,#edff12 111.5px,#e8ff17 122.5px,#d3ff2c 134.5px,#a7ff58 148.5px,#22ffdd 181.5px,#02fffd 188.5px,#008aff 207.5px,#0050ff 214.5px,#000aff 219.5px,#0000fa 220.5px,#000099 226.5px)"></i>
<i style="background:linear-gradient(90deg,#0000af 0.5px,#0000f7 5.5px,#0006ff 6.5px,#0043ff 11.5px,#0078ff 17.5px,#00dfff 33.5px,#00ffff 38.5px,#64ff9b 61.5px,#c2ff3d 85.5px,#e2ff1d 97.5px,#f3ff0c 109.5px,#f1ff0e 120.5px,#dcff23 133.5px,#b0ff4f 147.5px,#25ffda 181.5px,#00ffff 189.5px,#0085ff 208.5px,#0051ff 214.5px,#001bff 218.5px,#0000fc 220.5px,#00009b 226.5px)"></i>
<i style="background:linear-gradient(90deg,#0000b1 0.5px,#0000f9 5.5px,#0008ff 6.5px,#0045ff 11.5px,#007aff 17.5px,#00c3ff 28.5px,#00fcff 37.5px,#1affe5 43.5px,#77ff88 65.5px,#c8ff37 85.5px,#e6ff19 96.5px,#faff05 109.5px,#f8ff07 120.5px,#ddff22 135.5px,#aeff51 149.5px,#53ffac 171.5px,#02fffd 189.5px,#00efff 192.5px,#0088ff 208.5px,#0053ff 214.5px,#001dff 218.5px,#0000fd 220.5px,#00009d 226.5px)"></i>
<i style="background:linear-gradient(90deg,#0000b2 0.5px,#0000fb 5.5px,#0017ff 7.5px,#0047ff 11.5px,#008cff 19.5px,#00ffff 37.5px,#67ff98 60.5px,#9eff61 73.5px,#d8ff27 88.5px,#f0ff0f 98.5px,#fffe00 108.5px,#fff600 114.5px,#fcff03 122.5px,#deff21 137.5px,#abff54 151.5px,#67ff98 167.5px,#00ffff 190.5px,#0093ff 207.5px,#0055ff 214.5px,#0000ff 220.5px,#00009e 226.5px)"></i>
<i style="background:linear-gradient(90deg,#0000b4 0.5px,#0000fc 5.5px,#0049ff 11.5px,#008fff 19.5px,#00fcff 36.5px,#1bffe4 42.5px,#7eff81 65.5px,#c5ff3a 81.5px,#e9ff16 92.5px,#ffff00 103.5px,#ffea00 109.5px,#ffe400 114.5px,#ffef00 120.5px,#ffff00 124.5px,#deff21 139.5px,#a8ff57 153.5px,#6eff91 166.5px,#11ffee 187.5px,#00fcff 191.5px,#008dff 208.5px,#0057ff 214.5px,#0002ff 220.5px,#0000b1 225.5px,#0000a0 226.5px)"></i>
<i style="background:linear-gradient(90deg,#0000b6 0.5px,#0000fe 5.5px,#0040ff 10.5px,#0078ff 16.5px,#0099ff 20.5px,#00ffff 36.5px,#65ff9a 58.5px,#9aff65 70.5px,#d5ff2a 84.5px,#eeff11 92.5px,#ffff00 100.5px,#ffdb00 108.5px,#ffd500 114.5px,#ffdb00 119.5px,#ffff00 127.5px,#e3ff1c 139.5px,#adff52 153.5px,#6dff92 167.5px,#0afff5 189.5px,#00ffff 191.5px,#0090ff 208.5px,#004dff 215.5px,#0004ff 220.5px,#0000e3 222.5px,#0000a2 226.5px)"></i>
<i style="background:linear-gradient(90deg,#0000b7 0.5px,#0001ff 5.5px,#0042ff 10.5px,#008cff 18.5px,#00fcff 35.5px,#1bffe4 41.5px,#9aff65 69.5px,#dfff20 85.5px,#f7ff08 94.5px,#fffd00 98.5px,#ffd800 105.5px,#ffc800 112.5px,#ffcd00 118.5px,#ffdb00 123.5px,#fffd00 129.5px,#e6ff19 140.5px,#a8ff57 155.5px,#68ff97 169.5px,#03fffc 191.5px,#00efff 194.5px,#009bff 207.5px,#004fff 215.5px,#0005ff 220.5px,#0000f5 221.5px,#0000a3 226.5px)"></i>
<i style="background:linear-gradient(90deg,#0000b9 0.5px,#0002ff 5.5px,#0043ff 10.5px,#0097ff 19.5px,#00ffff 35.5px,#6bff94 58.5px,#a8ff57 71.5px,#ecff13 87.5px,#feff01 95.5px,#ffcc00 105.5px,#ffbc00 111.5px,#ffbe00 117.5px,#ffd400 124.5px,#feff01 132.5px,#e8ff17 141.5px,#a8ff57 156.5px,#6bff94 169.5px,#00ffff 192.5px,#0095ff 208.5px,#0050ff 215.5px,#0007ff 220.5px,#0000f6 221.5px,#0000a5 226.5px)"></i>
<i style="background:linear-gradient(90deg,#0000ba 0.5px,#0000f5 4.5px,#0004ff 5.5px,#0045ff 10.5px,#0099ff 19.5px,#02fffd 35.5px,#6eff91 58.5px,#deff21 82.5px,#f3ff0c 88.5px,#fffd00 94.5px,#ffd300 101.5px,#ffb300 109.5px,#ffad00 114.5px,#ffb900 120.5px,#ffe300 129.5px,#fffd00 133.5px,#eaff15 142.5px,#99ff66 160.5px,#65ff9a 171.5px,#02fffd 192.5px,#00a0ff 207.5px,#0052ff 215.5px,#0008ff 220.5px,#0000f8 221.5px,#0000a6 226.5px)"></i>
<i style="background:linear-gradient(90deg,#0000bb 0.5px,#0000f6 4.5px,#0005ff 5.5px,#0046ff 10.5px,#009bff 19.5px,#00feff 34.5px,#75ff8a 59.5px,#dbff24 80.5px,#f3ff0c 86.5px,#fffe00 92.5px,#ffce00 100.5px,#ffaa00 108.5px,#ffa000 113.5px,#ffa700 118.5px,#ffc900 126.5px,#fff800 134.5px,#fdff02 136.5px,#efff10 142.5px,#a7ff58 158.5px,#75ff8a 168.5px,#09fff6 191.5px,#00feff 193.5px,#009aff 208.5px,#0053ff 215.5px,#000aff 220.5px,#0000f9 221.5px,#0000a7 226.5px)"></i>
<i style="background:linear-gradient(90deg,#0000bd 0.5px,#0000f7 4.5px,#0006ff 5.5px,#0048ff 10.5px,#009eff 19.5px,#01fffe 34.5px,#6fff90 57.5px,#e4ff1b 81.5px,#f6ff09 86.5px,#feff01 90.5px,#ffab00 105.5px,#ff9600 111.5px,#ff9400 115.5px,#ffa600 121.5px,#ffe800 133.5px,#feff01 137.5px,#f0ff0f 143.5px,#abff54 158.5px,#6fff90 170.5px,#01fffe 193.5px,#00a4ff 207.5px,#0061ff 214.5px,#001aff 219.5px,#0000fa 221.5px,#0000a9 226.5px)"></i>
<i style="background:linear-gradient(90deg,#0000be 0.5px,#0000f9 4.5px,#0008ff 5.5px,#0049ff 10.5px,#00a0ff 19.5px,#00fcff 33.5px,#1cffe3 39.5px,#8fff70 63.5px,#e9ff16 81.5px,#f9ff06 86.5px,#fffd00 89.5px,#ff9600 107.5px,#ff8700 112.5px,#ff8900 116.5px,#ff9b00 121.5px,#fffd00 138.5px,#f1ff0e 144.5px,#a5ff5a 160.5px,#6dff92 171.5px,#03fffc 193.5px,#00e9ff 197.5px,#009eff 208.5px,#0056ff 215.5px,#0000fc 221.5px,#0000aa 226.5px)"></i>
<i style="background:linear-gradient(90deg,#0000bf 0.5px,#0000fa 4.5px,#0017ff 6.5px,#004aff 10.5px,#00a2ff 19.5px,#00ffff 33.5px,#79ff86 58.5px,#e9ff16 80.5px,#fbff04 85.5px,#ffff00 87.5px,#ff8600 108.5px,#ff7a00 113.5px,#ff8200 118.5px,#ffaf00 126.5px,#ffff00 140.5px,#f2ff0d 145.5px,#93ff6c 164.5px,#5dffa2 175.5px,#00ffff 194.5px,#00a0ff 208.5px,#0058ff 215.5px,#0000fd 221.5px,#0000ab 226.5px)"></i>
<i style="background:linear-gradient(90deg,#0000c0 0.5px,#0000fb 4.5px,#0018ff 6.5px,#004cff 10.5px,#00a4ff 19.5px,#02fffd 33.5px,#96ff69 63.5px,#f7ff08 82.5px,#fffe00 86.5px,#ffa700 101.5px,#ff7c00 108.5px,#ff7000 113.5px,#ff7800 118.5px,#ff8c00 122.5px,#ffcc00 132.5px,#fffe00 141.5px,#f7ff08 145.5px,#91ff6e 165.5px,#51ffae 178.5px,#02fffd 194.5px,#00abff 207.5px,#0065ff 214.5px,#001eff 219.5px,#0000fe 221.5px,#0000ac 226.5px)"></i>
<i style="background:linear-gradient(90deg,#0000c1 0.5px,#0000fc 4.5px,#004dff 10.5px,#00a6ff 19.5px,#00fdff 32.5px,#8eff71 61.5px,#edff12 79.5px,#fdff02 83.5px,#fffc00 85.5px,#ffae00 99.5px,#ff7800 107.5px,#ff6700 112.5px,#ff6900 116.5px,#ff7d00 121.5px,#ffc100 131.5px,#fffc00 142.5px,#fbff04 145.5px,#9fff60 163.5px,#74ff8b 171.5px,#00fdff 195.5px,#00a4ff 208.5px,#005aff 215.5px,#0000ff 221.5px,#0000ae 226.5px)"></i>
<i style="background:linear-gradient(90deg,#0000c2 0.5px,#0000fd 4.5px,#004eff 10.5px,#00a8ff 19.5px,#00ffff 32.5px,#91ff6e 61.5px,#f1ff0e 79.5px,#feff01 82.5px,#fff100 86.5px,#ffaf00 98.5px,#ff7600 106.5px,#ff6200 110.5px,#ff5c00 114.5px,#ff6600 118.5px,#ff8a00 124.5px,#ffc200 132.5px,#fffe00 144.5px,#f6ff09 147.5px,#97ff68 165.5px,#68ff97 174.5px,#00ffff 195.5px,#00a6ff 208.5px,#005bff 215.5px,#0002ff 221.5px,#0000af 226.5px)"></i>
<i style="background:linear-gradient(90deg,#0000c3 0.5px,#0000fe 4.5px,#004fff 10.5px,#00a9ff 19.5px,#01fffe 32.5px,#79ff86 56.5px,#f5ff0a 79.5px,#ffff00 81.5px,#ffe100 88.5px,#ffb100 97.5px,#ff6700 107.5px,#ff5500 111.5px,#ff5300 115.5px,#ff6100 119.5px,#ff9300 126.5px,#ffbd00 132.5px,#fff800 144.5px,#ffff00 146.5px,#a0ff5f 164.5px,#6fff90 173.5px,#01fffe 195.5px,#00b0ff 207.5px,#007fff 212.5px,#004eff 216.5px,#0003ff 221.5px,#0000c1 225.5px,#0000b0 226.5px)"></i>
<i style="background:linear-gradient(90deg,#0000c4 0.5px,#0000ff 4.5px,#0050ff 10.5px,#00abff 19.5px,#00fcff 31.5px,#1dffe2 37.5px,#8bff74 59.5px,#f9ff06 79.5px,#fffa00 81.5px,#ffca00 92.5px,#ff9e00 99.5px,#ff5e00 107.5px,#ff4b00 111.5px,#ff4900 115.5px,#ff5800 119.5px,#ff7c00 124.5px,#ffad00 130.5px,#ffd800 138.5px,#feff01 147.5px,#97ff68 166.5px,#6cff93 174.5px,#03fffc 195.5px,#00f5ff 197.5px,#00a9ff 208.5px,#0069ff 214.5px,#0023ff 219.5px,#0004ff 221.5px,#0000e3 223.5px,#0000b1 226.5px)"></i>
<i style="background:linear-gradient(90deg,#0000c5 0.5px,#0001ff 4.5px,#0051ff 10.5px,#00acff 19.5px,#00feff 31.5px,#8eff71 59.5px,#fdff02 79.5px,#ffc200 93.5px,#ff9300 100.5px,#ff5d00 106.5px,#ff4100 111.5px,#ff3d00 114.5px,#ff4a00 118.5px,#ff6d00 123.5px,#ff9b00 128.5px,#ffc700 135.5px,#fdff02 148.5px,#69ff96 175.5px,#00feff 196.5px,#00abff 208.5px,#006aff 214.5px,#0024ff 219.5px,#0005ff 221.5px,#0000f4 222.5px,#0000b2 226.5px)"></i>
<i style="background:linear-gradient(90deg,#0000c6 0.5px,#0002ff 4.5px,#0052ff 10.5px,#00a5ff 18.5px,#00ffff 31.5px,#7aff85 55.5px,#fbff04 78.5px,#fff400 80.5px,#ffc400 92.5px,#ffa000 98.5px,#ff5600 106.5px,#ff3c00 110.5px,#ff3400 113.5px,#ff3800 116.5px,#ff4e00 120.5px,#ff8300 126.5px,#ffa000 129.5px,#ffc400 135.5px,#fff400 147.5px,#fbff04 149.5px,#84ff7b 170.5px,#00ffff 196.5px,#00acff 208.5px,#006cff 214.5px,#0015ff 220.5px,#0005ff 221.5px,#0000f5 222.5px,#0000b2 226.5px)"></i>
<i style="background:linear-gradient(90deg,#0000c7 0.5px,#0000f4 3.5px,#0003ff 4.5px,#0053ff 10.5px,#00a7ff 18.5px,#01fffe 31.5px,#92ff6d 59.5px,#feff01 78.5px,#fff300 79.5px,#ffc700 91.5px,#ffa500 97.5px,#ff9500 99.5px,#ff6a00 103.5px,#ff3f00 108.5px,#ff2f00 111.5px,#ff2b00 114.5px,#ff3800 118.5px,#ff6000 123.5px,#ff8800 127.5px,#ff9e00 129.5px,#ffc200 135.5px,#fff000 147.5px,#fff300 148.5px,#feff01 149.5px,#92ff6d 168.5px,#54ffab 180.5px,#01fffe 196.5px,#00b6ff 207.5px,#0079ff 213.5px,#0035ff 218.5px,#0006ff 221.5px,#0000f5 222.5px,#0000b3 226.5px)"></i>
<i style="background:linear-gradient(90deg,#0000c8 0.5px,#0000f4 3.5px,#0004ff 4.5px,#0054ff 10.5px,#00b1ff 19.5px,#00fbff 30.5px,#08fff7 32.5px,#94ff6b 59.5px,#fcff03 77.5px,#ffef00 79.5px,#ffc100 92.5px,#ffa400 97.5px,#ff8f00 99.5px,#ff4700 106.5px,#ff2b00 110.5px,#ff2200 114.5px,#ff3100 118.5px,#ff5100 122.5px,#ff8f00 128.5px,#ffa400 130.5px,#ffc500 136.5px,#ffef00 148.5px,#fcff03 150.5px,#73ff8c 174.5px,#03fffc 196.5px,#00daff 202.5px,#00afff 208.5px,#006eff 214.5px,#0007ff 221.5px,#0000f6 222.5px,#0000b4 226.5px)"></i>
<i style="background:linear-gradient(90deg,#0000c8 0.5px,#0000f5 3.5px,#0004ff 4.5px,#0055ff 10.5px,#00b2ff 19.5px,#00fdff 30.5px,#8aff75 57.5px,#ffff00 77.5px,#fff100 78.5px,#ffdc00 84.5px,#ffc000 92.5px,#ffa300 97.5px,#ff6900 102.5px,#ff3000 108.5px,#ff1b00 112.5px,#ff1b00 115.5px,#ff3000 119.5px,#ff7e00 127.5px,#ffa300 130.5px,#ffc400 136.5px,#ffeb00 148.5px,#fff100 149.5px,#ffff00 150.5px,#74ff8b 174.5px,#00fdff 197.5px,#00b0ff 208.5px,#006fff 214.5px,#0008ff 221.5px,#0000f7 222.5px,#0000b5 226.5px)"></i>
<i style="background:linear-gradient(90deg,#0000c9 0.5px,#0000f6 3.5px,#0005ff 4.5px,#0055ff 10.5px,#00aaff 18.5px,#00feff 30.5px,#86ff79 56.5px,#fcff03 76.5px,#fff900 77.5px,#ffeb00 78.5px,#ffc700 90.5px,#ffaa00 96.5px,#ff4f00 104.5px,#ff2200 109.5px,#ff1100 113.5px,#ff1700 116.5px,#ff3200 120.5px,#ff8600 128.5px,#ffaa00 131.5px,#ffcb00 138.5px,#ffeb00 149.5px,#fff900 150.5px,#fcff03 151.5px,#7bff84 173.5px,#00feff 197.5px,#00b1ff 208.5px,#0070ff 214.5px,#0018ff 220.5px,#0008ff 221.5px,#0000f7 222.5px,#0000b5 226.5px)"></i>
<i style="background:linear-gradient(90deg,#0000ca 0.5px,#0000f6 3.5px,#0006ff 4.5px,#0056ff 10.5px,#00abff 18.5px,#00ffff 30.5px,#8eff71 57.5px,#feff01 76.5px,#ffe800 78.5px,#ffbf00 92.5px,#ffaa00 96.5px,#ff7700 100.5px,#ff2c00 107.5px,#ff0f00 111.5px,#ff0800 113.5px,#ff0a00 115.5px,#ff2300 119.5px,#ff5600 124.5px,#ff8f00 129.5px,#ffaa00 131.5px,#ffc700 137.5px,#ffe800 149.5px,#feff01 151.5px,#72ff8d 175.5px,#00ffff 197.5px,#00b2ff 208.5px,#0071ff 214.5px,#0009ff 221.5px,#0000f8 222.5px,#0000b6 226.5px)"></i>
<i style="background:linear-gradient(90deg,#0000ca 0.5px,#0000f7 3.5px,#0006ff 4.5px,#0056ff 10.5px,#00acff 18.5px,#01fffe 30.5px,#8fff70 57.5px,#fbff04 75.5px,#fffb00 76.5px,#ffed00 77.5px,#ffe500 78.5px,#ffc300 91.5px,#ffb100 95.5px,#ff4600 104.5px,#ff0d00 110.5px,#ff0000 113.5px,#ff0200 115.5px,#ff1500 118.5px,#ff4600 123.5px,#ff8c00 129.5px,#ffb100 132.5px,#ffcd00 139.5px,#ffe500 149.5px,#ffed00 150.5px,#fffb00 151.5px,#f5ff0a 153.5px,#78ff87 174.5px,#01fffe 197.5px,#00b3ff 208.5px,#0072ff 214.5px,#000aff 221.5px,#0000f9 222.5px,#0000b6 226.5px)"></i>
<i style="background:linear-gradient(90deg,#0000ca 0.5px,#0000f7 3.5px,#0007ff 4.5px,#0057ff 10.5px,#00adff 18.5px,#01fffe 30.5px,#90ff6f 57.5px,#fdff02 75.5px,#fff700 76.5px,#ffe800 77.5px,#ffbf00 92.5px,#ffb100 95.5px,#ff7100 100.5px,#ff1800 108.5px,#fe0000 111.5px,#f30000 113.5px,#f80000 115.5px,#fe0000 116.5px,#ff2200 120.5px,#ff8900 129.5px,#ffb100 132.5px,#ffcc00 139.5px,#ffe800 150.5px,#fff700 151.5px,#fdff02 152.5px,#74ff8b 175.5px,#01fffe 197.5px,#00b4ff 208.5px,#0073ff 214.5px,#000aff 221.5px,#0000f9 222.5px,#0000b7 226.5px)"></i>
<i style="background:linear-gradient(90deg,#0002ff 0.5px,#006dff 8.5px,#0098ff 12.5px,#00c7ff 18.5px,#00fdff 31.5px,#66ff99 51.5px,#d2ff2d 71.5px,#fcff03 80.5px,#fff200 84.5px,#ffd000 90.5px,#ff9500 103.5px,#ff6300 111.5px,#e50000 112.5px,#e50000 114.5px,#ff5e00 115.5px,#ffa500 127.5px,#ffd900 139.5px,#fff200 143.5px,#fcff03 147.5px,#d2ff2d 156.5px,#5cffa3 178.5px,#00fdff 196.5px,#00cbff 208.5px,#009cff 214.5px,#004aff 220.5px,#0000fc 225.5px,#0000ec 226.5px)"></i>
<i style="background:linear-gradient(90deg,#0002ff 0.5px,#006dff 8.5px,#0098ff 12.5px,#00c7ff 18.5px,#00fdff 31.5px,#66ff99 51.5px,#d2ff2d 71.5px,#fcff03 80.5px,#fff200 84.5px,#ffd000 90.5px,#ff9500 103.5px,#ff6300 111.5px,#e50000 112.5px,#e50000 114.5px,#ff5e00 115.5px,#ffa500 127.5px,#ffd900 139.5px,#fff200 143.5px,#fcff03 147.5px,#d2ff2d 156.5px,#5cffa3 178.5px,#00fdff 196.5px,#00cbff 208.5px,#009cff 214.5px,#004aff 220.5px,#0000fc 225.5px,#0000ec 226.5px)"></i>
<i style="background:linear-gradient(90deg,#0002ff 0.5px,#006dff 8.5px,#0098ff 12.5px,#00c7ff 18.5px,#00fdff 31.5px,#66ff99 51.5px,#d2ff2d 71.5px,#fcff03 80.5px,#fff200 84.5px,#ffd000 90.5px,#ff9500 103.5px,#ff6300 111.5px,#e50000 112.5px,#e50000 114.5px,#ff5e00 115.5px,#ffa500 127.5px,#ffd900 139.5px,#fff200 143.5px,#fcff03 147.5px,#d2ff2d 156.5px,#5cffa3 178.5px,#00fdff 196.5px,#00cbff 208.5px,#009cff 214.5px,#004aff 220.5px,#0000fc 225.5px,#0000ec 226.5px)"></i>
<i style="background:linear-gradient(90deg,#0002ff 0.5px,#006dff 8.5px,#0098ff 12.5px,#00c7ff 18.5px,#00fdff 31.5px,#66ff99 51.5px,#d2ff2d 71.5px,#fcff03 80.5px,#fff200 84.5px,#ffd000 90.5px,#ff9500 103.5px,#ff6300 111.5px,#e50000 112.5px,#e50000 114.5px,#ff5e00 115.5px,#ffa500 127.5px,#ffd900 139.5px,#fff200 143.5px,#fcff03 147.5px,#d2ff2d 156.5px,#5cffa3 178.5px,#00fdff 196.5px,#00cbff 208.5px,#009cff 214.5px,#004aff 220.5px,#0000fc 225.5px,#0000ec 226.5px)"></i>
<i style="background:linear-gradient(90deg,#0002ff 0.5px,#006dff 8.5px,#0097ff 12.5px,#00c7ff 18.5px,#00fdff 31.5px,#66ff99 51.5px,#d2ff2d 71.5px,#fcff03 80.5px,#fff200 84.5px,#ffd000 90.5px,#ff9500 103.5px,#ff6300 111.5px,#e50000 112.5px,#e50000 114.5px,#ff5e00 115.5px,#ffa500 127.5px,#ffd900 139.5px,#fff200 143.5px,#fcff03 147.5px,#d2ff2d 156.5px,#5cffa3 178.5px,#00fdff 196.5px,#00cbff 208.5px,#009bff 214.5px,#004aff 220.5px,#0000fc 225.5px,#0000ec 226.5px)"></i>
<i style="background:linear-gradient(90deg,#0001ff 0.5px,#006cff 8.5px,#0096ff 12.5px,#00c6ff 18.5px,#00f9ff 30.5px,#03fffc 32.5px,#ccff33 70.5px,#efff10 77.5px,#fffe00 81.5px,#ffe600 86.5px,#ffcb00 91.5px,#ff9500 103.5px,#ff6300 111.5px,#e50000 112.5px,#e50000 114.5px,#ff5e00 115.5px,#ffa500 127.5px,#ffd900 139.5px,#fff200 143.5px,#fcff03 147.5px,#d2ff2d 156.5px,#5cffa3 178.5px,#00fdff 196.5px,#00caff 208.5px,#009aff 214.5px,#0049ff 220.5px,#000cff 224.5px,#0000fb 225.5px,#0000eb 226.5px)"></i>
<i style="background:linear-gradient(90deg,#0000ff 0.5px,#006bff 8.5px,#0095ff 12.5px,#00c6ff 18.5px,#00f9ff 30.5px,#03fffc 32.5px,#ccff33 70.5px,#efff10 77.5px,#fffe00 81.5px,#ffe600 86.5px,#ffcb00 91.5px,#ff9500 103.5px,#ff6300 111.5px,#e50000 112.5px,#e50000 114.5px,#ff5e00 115.5px,#ffa500 127.5px,#ffd900 139.5px,#fff200 143.5px,#fcff03 147.5px,#d2ff2d 156.5px,#5cffa3 178.5px,#00fdff 196.5px,#00caff 208.5px,#0099ff 214.5px,#0065ff 218.5px,#000bff 224.5px,#0000fa 225.5px,#0000ea 226.5px)"></i>
<i style="background:linear-gradient(90deg,#0000fe 0.5px,#0076ff 9.5px,#00b7ff 16.5px,#00d5ff 21.5px,#00fdff 31.5px,#66ff99 51.5px,#d2ff2d 71.5px,#fcff03 80.5px,#fff200 84.5px,#ffd000 90.5px,#ff9500 103.5px,#ff6300 111.5px,#e50000 112.5px,#e50000 114.5px,#ff5e00 115.5px,#ffa500 127.5px,#ffd900 139.5px,#fff200 143.5px,#fcff03 147.5px,#d2ff2d 156.5px,#5cffa3 178.5px,#00fdff 196.5px,#00cfff 207.5px,#00aaff 212.5px,#008dff 215.5px,#001aff 223.5px,#000aff 224.5px,#0000f9 225.5px,#0000e9 226.5px)"></i>
<i style="background:linear-gradient(90deg,#0000fd 0.5px,#0075ff 9.5px,#00aeff 15.5px,#00d1ff 20.5px,#00fdff 31.5px,#66ff99 51.5px,#d2ff2d 71.5px,#fcff03 80.5px,#fff200 84.5px,#ffd000 90.5px,#ff9500 103.5px,#ff6300 111.5px,#e50000 112.5px,#e50000 114.5px,#ff5e00 115.5px,#ffa500 127.5px,#ffd900 139.5px,#fff200 143.5px,#fcff03 147.5px,#d2ff2d 156.5px,#5cffa3 178.5px,#00fdff 196.5px,#00cfff 207.5px,#00a1ff 213.5px,#007fff 216.5px,#0009ff 224.5px,#0000f8 225.5px,#0000e8 226.5px)"></i>
<i style="background:linear-gradient(90deg,#0054ff 0.5px,#00c0ff 9.5px,#00fcff 16.5px,#1fffe0 21.5px,#7dff82 42.5px,#feff01 69.5px,#ffac00 85.5px,#ff4c00 100.5px,#ff0300 107.5px,#f70000 108.5px,#c70000 111.5px,#b30000 113.5px,#b30000 114.5px,#c70000 116.5px,#f70000 119.5px,#ff0300 120.5px,#ff4c00 127.5px,#ffb800 144.5px,#feff01 158.5px,#46ffb9 197.5px,#18ffe7 207.5px,#01fffe 210.5px,#00d3ff 215.5px,#006aff 223.5px,#003eff 226.5px)"></i>
<i style="background:linear-gradient(90deg,#0053ff 0.5px,#00bfff 9.5px,#00fbff 16.5px,#0bfff4 18.5px,#23ffdc 22.5px,#7dff82 42.5px,#feff01 69.5px,#ffb300 84.5px,#ff4e00 100.5px,#fe0000 108.5px,#d60000 111.5px,#c80000 113.5px,#cd0000 115.5px,#e30000 117.5px,#fe0000 119.5px,#ff5500 128.5px,#ffbf00 145.5px,#feff01 158.5px,#4affb5 196.5px,#1effe1 206.5px,#00ffff 210.5px,#00d2ff 215.5px,#0068ff 223.5px,#003dff 226.5px)"></i>
<i style="background:linear-gradient(90deg,#0052ff 0.5px,#00beff 9.5px,#00faff 16.5px,#0bfff4 18.5px,#27ffd8 23.5px,#81ff7e 43.5px,#fdff02 69.5px,#ffaf00 85.5px,#ff4800 101.5px,#ff0600 108.5px,#fd0000 109.5px,#e00000 112.5px,#dc0000 114.5px,#e80000 116.5px,#fd0000 118.5px,#ff2100 122.5px,#ff5000 127.5px,#ffba00 144.5px,#fdff02 158.5px,#4effb1 195.5px,#1dffe2 206.5px,#00feff 210.5px,#00d1ff 215.5px,#0067ff 223.5px,#003cff 226.5px)"></i>
<i style="background:linear-gradient(90deg,#0051ff 0.5px,#00bdff 9.5px,#02fffd 17.5px,#1effe1 21.5px,#77ff88 41.5px,#fffd00 70.5px,#ffab00 86.5px,#ff4d00 101.5px,#ff0700 109.5px,#ff0000 110.5px,#f00000 113.5px,#f40000 115.5px,#ff0000 117.5px,#ff3100 123.5px,#ff5300 127.5px,#ffbc00 144.5px,#fffd00 157.5px,#72ff8d 187.5px,#1cffe3 206.5px,#00fdff 210.5px,#00d0ff 215.5px,#0066ff 223.5px,#003bff 226.5px)"></i>
<i style="background:linear-gradient(90deg,#0050ff 0.5px,#00bcff 9.5px,#01fffe 17.5px,#22ffdd 22.5px,#7bff84 42.5px,#fffe00 70.5px,#ffad00 86.5px,#ff4900 102.5px,#ff1700 108.5px,#ff0300 112.5px,#ff0300 115.5px,#ff1700 119.5px,#ff5700 127.5px,#ffc300 145.5px,#fffe00 157.5px,#44ffbb 197.5px,#1bffe4 206.5px,#00fcff 210.5px,#00cfff 215.5px,#0057ff 224.5px,#003aff 226.5px)"></i>
<i style="background:linear-gradient(90deg,#004eff 0.5px,#00afff 8.5px,#00d5ff 12.5px,#00feff 17.5px,#21ffde 22.5px,#7aff85 42.5px,#feff01 70.5px,#ffaf00 86.5px,#ff4700 103.5px,#ff1b00 109.5px,#ff0d00 113.5px,#ff1600 117.5px,#ff3700 122.5px,#ff5b00 127.5px,#ffc500 145.5px,#feff01 157.5px,#48ffb7 196.5px,#20ffdf 205.5px,#04fffb 209.5px,#00f2ff 211.5px,#00ceff 215.5px,#0056ff 224.5px,#0039ff 226.5px)"></i>
<i style="background:linear-gradient(90deg,#004dff 0.5px,#00b9ff 9.5px,#00fdff 17.5px,#25ffda 23.5px,#7eff81 43.5px,#fdff02 70.5px,#ffb800 85.5px,#ff4600 104.5px,#ff2100 110.5px,#ff1a00 114.5px,#ff2500 118.5px,#ff5f00 127.5px,#ffcd00 146.5px,#fdff02 157.5px,#47ffb8 196.5px,#1fffe0 205.5px,#02fffd 209.5px,#00ccff 215.5px,#0063ff 223.5px,#0037ff 226.5px)"></i>
<i style="background:linear-gradient(90deg,#004cff 0.5px,#00b8ff 9.5px,#00fcff 17.5px,#24ffdb 23.5px,#7dff82 43.5px,#ffff00 71.5px,#ffaa00 88.5px,#ff2c00 110.5px,#ff2600 114.5px,#ff3000 118.5px,#ffca00 145.5px,#ffff00 156.5px,#4bffb4 195.5px,#1effe1 205.5px,#01fffe 209.5px,#00cbff 215.5px,#0061ff 223.5px,#0036ff 226.5px)"></i>
<i style="background:linear-gradient(90deg,#004bff 0.5px,#00abff 8.5px,#00d1ff 12.5px,#00faff 17.5px,#0bfff4 19.5px,#23ffdc 23.5px,#7cff83 43.5px,#fdff02 71.5px,#ffbe00 85.5px,#ff5400 104.5px,#ff3800 110.5px,#ff3200 114.5px,#ff3b00 118.5px,#ff9000 134.5px,#ffd700 147.5px,#fdff02 156.5px,#41ffbe 197.5px,#1dffe2 205.5px,#00feff 209.5px,#00caff 215.5px,#0052ff 224.5px,#0035ff 226.5px)"></i>
<i style="background:linear-gradient(90deg,#0049ff 0.5px,#00b5ff 9.5px,#02fffd 18.5px,#22ffdd 23.5px,#7fff80 44.5px,#fffe00 72.5px,#ffb100 88.5px,#ff6400 102.5px,#ff4100 111.5px,#ff3f00 115.5px,#ff4f00 120.5px,#ff7e00 130.5px,#ffd000 145.5px,#fffe00 155.5px,#71ff8e 186.5px,#1cffe3 205.5px,#00fdff 209.5px,#00c8ff 215.5px,#005fff 223.5px,#0034ff 226.5px)"></i>
<i style="background:linear-gradient(90deg,#0048ff 0.5px,#00b4ff 9.5px,#00ffff 18.5px,#21ffde 23.5px,#7eff81 44.5px,#fdff02 72.5px,#ffc000 86.5px,#ff6600 103.5px,#ff4e00 110.5px,#ff4b00 115.5px,#ff5a00 121.5px,#ff8900 131.5px,#ffd300 145.5px,#fdff02 155.5px,#66ff99 188.5px,#21ffde 204.5px,#04fffb 208.5px,#00f3ff 210.5px,#00c7ff 215.5px,#004fff 224.5px,#0032ff 226.5px)"></i>
<i style="background:linear-gradient(90deg,#0047ff 0.5px,#00b2ff 9.5px,#00fdff 18.5px,#25ffda 24.5px,#81ff7e 45.5px,#ffff00 73.5px,#ffb400 89.5px,#ff6d00 103.5px,#ff5900 109.5px,#ff5300 114.5px,#ff6100 121.5px,#ff8a00 130.5px,#ffe500 148.5px,#ffff00 154.5px,#6eff91 186.5px,#1fffe0 204.5px,#03fffc 208.5px,#00d0ff 214.5px,#006aff 222.5px,#0031ff 226.5px)"></i>
<i style="background:linear-gradient(90deg,#0045ff 0.5px,#00b1ff 9.5px,#00fcff 18.5px,#24ffdb 24.5px,#76ff89 43.5px,#f8ff07 72.5px,#fffa00 75.5px,#ffaa00 92.5px,#ff7000 104.5px,#ff5f00 110.5px,#ff5e00 116.5px,#ff6c00 122.5px,#ff9a00 132.5px,#ffed00 149.5px,#fffe00 153.5px,#97ff68 177.5px,#41ffbe 196.5px,#1effe1 204.5px,#01fffe 208.5px,#00c4ff 215.5px,#004cff 224.5px,#002fff 226.5px)"></i>
<i style="background:linear-gradient(90deg,#0044ff 0.5px,#00afff 9.5px,#00faff 18.5px,#0afff5 20.5px,#22ffdd 24.5px,#82ff7d 46.5px,#faff05 73.5px,#fffe00 75.5px,#ffa000 95.5px,#ff7700 104.5px,#ff6600 111.5px,#ff6800 117.5px,#ff7b00 124.5px,#fffe00 152.5px,#e5ff1a 159.5px,#44ffbb 195.5px,#1cffe3 204.5px,#00feff 208.5px,#00c2ff 215.5px,#004bff 224.5px,#002eff 226.5px)"></i>
<i style="background:linear-gradient(90deg,#0042ff 0.5px,#00a2ff 8.5px,#00c8ff 12.5px,#01fffe 19.5px,#21ffde 24.5px,#80ff7f 46.5px,#f7ff08 73.5px,#fffd00 76.5px,#ff7f00 104.5px,#ff6f00 111.5px,#ff7000 117.5px,#ff8300 124.5px,#fffd00 151.5px,#eaff15 157.5px,#69ff96 186.5px,#20ffdf 203.5px,#00fcff 208.5px,#00c1ff 215.5px,#0049ff 224.5px,#002cff 226.5px)"></i>
<i style="background:linear-gradient(90deg,#0041ff 0.5px,#00acff 9.5px,#00e6ff 16.5px,#00feff 19.5px,#20ffdf 24.5px,#75ff8a 44.5px,#ebff14 71.5px,#fdff02 76.5px,#ffd600 86.5px,#ff8700 104.5px,#ff7700 111.5px,#ff7a00 118.5px,#ff9200 126.5px,#fffd00 150.5px,#efff10 155.5px,#7aff85 182.5px,#35ffca 198.5px,#19ffe6 204.5px,#03fffc 207.5px,#00e1ff 211.5px,#00bfff 215.5px,#0056ff 223.5px,#002bff 226.5px)"></i>
<i style="background:linear-gradient(90deg,#003fff 0.5px,#00aaff 9.5px,#00e4ff 16.5px,#00fcff 19.5px,#23ffdc 25.5px,#77ff88 45.5px,#e8ff17 71.5px,#fdff02 77.5px,#ffc100 92.5px,#ff9000 104.5px,#ff8000 111.5px,#ff8300 118.5px,#ff9e00 127.5px,#fffd00 149.5px,#ecff13 155.5px,#7cff83 181.5px,#1dffe2 203.5px,#01fffe 207.5px,#00c8ff 214.5px,#0062ff 222.5px,#0029ff 226.5px)"></i>
<i style="background:linear-gradient(90deg,#003dff 0.5px,#009dff 8.5px,#00c3ff 12.5px,#02fffd 20.5px,#1dffe2 24.5px,#87ff78 49.5px,#f1ff0e 74.5px,#fffe00 79.5px,#ff9b00 103.5px,#ff8a00 111.5px,#ff8c00 118.5px,#ffa200 126.5px,#fffe00 148.5px,#e5ff1a 156.5px,#68ff97 185.5px,#1bffe4 203.5px,#00feff 207.5px,#00c6ff 214.5px,#006eff 221.5px,#0028ff 226.5px)"></i>
<i style="background:linear-gradient(90deg,#003cff 0.5px,#00a6ff 9.5px,#00e1ff 16.5px,#00ffff 20.5px,#1bffe4 24.5px,#89ff76 50.5px,#f1ff0e 75.5px,#fffe00 80.5px,#ffa700 102.5px,#ff9400 110.5px,#ff9400 117.5px,#ffa700 125.5px,#fffe00 147.5px,#e5ff1a 155.5px,#7cff83 180.5px,#19ffe6 203.5px,#00fcff 207.5px,#00baff 215.5px,#0042ff 224.5px,#0026ff 226.5px)"></i>
<i style="background:linear-gradient(90deg,#003aff 0.5px,#00a5ff 9.5px,#00dfff 16.5px,#00fdff 20.5px,#22ffdd 26.5px,#82ff7d 49.5px,#e6ff19 73.5px,#ffff00 81.5px,#ffaf00 102.5px,#ff9e00 110.5px,#ff9e00 117.5px,#ffaf00 125.5px,#ffff00 146.5px,#deff21 156.5px,#75ff8a 181.5px,#17ffe8 203.5px,#02fffd 206.5px,#00b8ff 215.5px,#0033ff 225.5px,#0024ff 226.5px)"></i>
<i style="background:linear-gradient(90deg,#0038ff 0.5px,#00a3ff 9.5px,#00ddff 16.5px,#00fbff 20.5px,#0afff5 22.5px,#20ffdf 26.5px,#95ff6a 54.5px,#edff12 76.5px,#fffd00 83.5px,#ffbe00 100.5px,#ffa800 109.5px,#ffa600 116.5px,#ffb500 124.5px,#ffed00 140.5px,#feff01 145.5px,#deff21 155.5px,#77ff88 180.5px,#15ffea 203.5px,#00ffff 206.5px,#00b6ff 215.5px,#0031ff 225.5px,#0023ff 226.5px)"></i>
<i style="background:linear-gradient(90deg,#0037ff 0.5px,#00a1ff 9.5px,#00dbff 16.5px,#01fffe 21.5px,#1affe5 25.5px,#81ff7e 50.5px,#e2ff1d 74.5px,#fffe00 84.5px,#ffc300 101.5px,#ffb100 109.5px,#ffb100 118.5px,#ffc800 128.5px,#fffe00 143.5px,#deff21 154.5px,#79ff86 179.5px,#19ffe6 202.5px,#00fcff 206.5px,#00beff 214.5px,#0081ff 219.5px,#0021ff 226.5px)"></i>
<i style="background:linear-gradient(90deg,#0035ff 0.5px,#009fff 9.5px,#00d9ff 16.5px,#00fdff 21.5px,#1cffe3 26.5px,#d3ff2c 71.5px,#f9ff06 83.5px,#fffd00 86.5px,#ffca00 101.5px,#ffb900 111.5px,#ffbc00 119.5px,#ffd300 129.5px,#feff01 142.5px,#daff25 154.5px,#76ff89 179.5px,#17ffe8 202.5px,#02fffd 205.5px,#00bcff 214.5px,#007fff 219.5px,#001fff 226.5px)"></i>
<i style="background:linear-gradient(90deg,#0033ff 0.5px,#009dff 9.5px,#00d7ff 16.5px,#00fbff 21.5px,#0afff5 23.5px,#27ffd8 29.5px,#7bff84 50.5px,#cfff30 71.5px,#f4ff0b 83.5px,#fffc00 88.5px,#ffd000 102.5px,#ffc100 112.5px,#ffc900 122.5px,#fff100 136.5px,#ffff00 140.5px,#d6ff29 154.5px,#80ff7f 176.5px,#3effc1 192.5px,#14ffeb 202.5px,#00ffff 205.5px,#00baff 214.5px,#007dff 219.5px,#001dff 226.5px)"></i>
<i style="background:linear-gradient(90deg,#0031ff 0.5px,#009bff 9.5px,#00ddff 17.5px,#00ffff 22.5px,#18ffe7 26.5px,#cbff34 71.5px,#f3ff0c 84.5px,#ffff00 89.5px,#ffd800 102.5px,#ffcb00 111.5px,#ffcd00 119.5px,#ffe500 130.5px,#ffff00 138.5px,#d9ff26 152.5px,#7dff82 176.5px,#12ffed 202.5px,#00fcff 205.5px,#00b8ff 214.5px,#007bff 219.5px,#001bff 226.5px)"></i>
<i style="background:linear-gradient(90deg,#002fff 0.5px,#0099ff 9.5px,#00dbff 17.5px,#00fdff 22.5px,#1effe1 28.5px,#c7ff38 71.5px,#f1ff0e 85.5px,#ffff00 91.5px,#ffdc00 104.5px,#ffd300 113.5px,#ffda00 122.5px,#fff900 134.5px,#fdff02 137.5px,#d8ff27 151.5px,#82ff7d 174.5px,#15ffea 201.5px,#02fffd 204.5px,#00bfff 213.5px,#00a0ff 216.5px,#0019ff 226.5px)"></i>
<i style="background:linear-gradient(90deg,#002dff 0.5px,#0097ff 9.5px,#00d1ff 16.5px,#02fffd 23.5px,#18ffe7 27.5px,#bfff40 70.5px,#eaff15 84.5px,#fffd00 94.5px,#ffe100 106.5px,#ffdc00 116.5px,#ffeb00 126.5px,#fcff03 135.5px,#d9ff26 149.5px,#96ff69 168.5px,#13ffec 201.5px,#00feff 204.5px,#00b4ff 214.5px,#0077ff 219.5px,#0017ff 226.5px)"></i>
<i style="background:linear-gradient(90deg,#002bff 0.5px,#0095ff 9.5px,#00cfff 16.5px,#00feff 23.5px,#1affe5 28.5px,#bbff44 70.5px,#e8ff17 85.5px,#ffff00 96.5px,#ffe700 108.5px,#ffe700 119.5px,#fdff02 132.5px,#d8ff27 148.5px,#8bff74 170.5px,#10ffef 201.5px,#03fffc 203.5px,#00d9ff 209.5px,#00a8ff 215.5px,#0024ff 225.5px,#0015ff 226.5px)"></i>
<i style="background:linear-gradient(90deg,#0029ff 0.5px,#0093ff 9.5px,#00d4ff 17.5px,#00fcff 23.5px,#1bffe4 29.5px,#b3ff4c 69.5px,#e3ff1c 85.5px,#fffd00 100.5px,#ffee00 110.5px,#fff100 120.5px,#fdff02 129.5px,#d9ff26 146.5px,#9aff65 165.5px,#13ffec 200.5px,#01fffe 203.5px,#00c0ff 212.5px,#00a6ff 215.5px,#0021ff 225.5px,#0013ff 226.5px)"></i>
<i style="background:linear-gradient(90deg,#0027ff 0.5px,#0090ff 9.5px,#00d2ff 17.5px,#00ffff 24.5px,#1dffe2 30.5px,#b2ff4d 70.5px,#e0ff1f 86.5px,#ffff00 103.5px,#fff600 114.5px,#fcff03 126.5px,#dcff23 143.5px,#a1ff5e 162.5px,#10ffef 200.5px,#00fdff 203.5px,#00beff 212.5px,#00a3ff 215.5px,#003bff 223.5px,#0011ff 226.5px)"></i>
<i style="background:linear-gradient(90deg,#0025ff 0.5px,#008eff 9.5px,#00d0ff 17.5px,#00fdff 24.5px,#2affd5 34.5px,#b1ff4e 71.5px,#deff21 87.5px,#fbff04 105.5px,#feff01 117.5px,#f2ff0d 129.5px,#d2ff2d 145.5px,#99ff66 163.5px,#0efff1 200.5px,#01fffe 202.5px,#00cbff 210.5px,#00acff 214.5px,#0047ff 222.5px,#000fff 226.5px)"></i>
<i style="background:linear-gradient(90deg,#0023ff 0.5px,#008cff 9.5px,#00ceff 17.5px,#01fffe 25.5px,#23ffdc 33.5px,#a9ff56 70.5px,#d9ff26 87.5px,#f5ff0a 105.5px,#f8ff07 118.5px,#e6ff19 133.5px,#c7ff38 147.5px,#87ff78 167.5px,#0bfff4 200.5px,#00fdff 202.5px,#00c9ff 210.5px,#009fff 215.5px,#001bff 225.5px,#000dff 226.5px)"></i>
<i style="background:linear-gradient(90deg,#0021ff 0.5px,#008aff 9.5px,#00cbff 17.5px,#00fdff 25.5px,#50ffaf 46.5px,#aeff51 73.5px,#d7ff28 89.5px,#efff10 105.5px,#f2ff0d 118.5px,#e2ff1d 132.5px,#c2ff3d 147.5px,#86ff79 166.5px,#0dfff2 199.5px,#02fffd 201.5px,#00ceff 209.5px,#009dff 215.5px,#0019ff 225.5px,#000bff 226.5px)"></i>
<i style="background:linear-gradient(90deg,#001fff 0.5px,#0087ff 9.5px,#00c9ff 17.5px,#00f5ff 24.5px,#01fffe 26.5px,#3bffc4 41.5px,#a9ff56 73.5px,#d6ff29 91.5px,#eaff15 107.5px,#eaff15 121.5px,#d2ff2d 138.5px,#a3ff5c 156.5px,#0ffff0 198.5px,#00feff 201.5px,#00bdff 211.5px,#009aff 215.5px,#0017ff 225.5px,#0009ff 226.5px)"></i>
<i style="background:linear-gradient(90deg,#001dff 0.5px,#0085ff 9.5px,#00c7ff 17.5px,#00f8ff 25.5px,#03fffc 27.5px,#50ffaf 48.5px,#a7ff58 74.5px,#ccff33 89.5px,#e3ff1c 105.5px,#e5ff1a 119.5px,#d2ff2d 135.5px,#adff52 151.5px,#6cff93 171.5px,#07fff8 199.5px,#00fbff 201.5px,#00c9ff 209.5px,#0098ff 215.5px,#0007ff 226.5px)"></i>
<i style="background:linear-gradient(90deg,#001aff 0.5px,#0083ff 9.5px,#00c4ff 17.5px,#00f6ff 25.5px,#00ffff 27.5px,#4dffb2 48.5px,#a2ff5d 74.5px,#cbff34 91.5px,#deff21 107.5px,#deff21 120.5px,#ceff31 134.5px,#abff54 150.5px,#68ff97 171.5px,#09fff6 198.5px,#00fdff 200.5px,#00d5ff 207.5px,#0096ff 215.5px,#0012ff 225.5px,#0004ff 226.5px)"></i>
<i style="background:linear-gradient(90deg,#0018ff 0.5px,#0080ff 9.5px,#00c2ff 17.5px,#00f4ff 25.5px,#02fffd 28.5px,#53ffac 51.5px,#a3ff5c 76.5px,#c7ff38 92.5px,#d8ff27 107.5px,#d8ff27 120.5px,#c5ff3a 136.5px,#a0ff5f 152.5px,#43ffbc 181.5px,#01fffe 199.5px,#00d9ff 206.5px,#009dff 214.5px,#0054ff 220.5px,#0002ff 226.5px)"></i>
<i style="background:linear-gradient(90deg,#0016ff 0.5px,#007eff 9.5px,#00bfff 17.5px,#00ecff 24.5px,#00feff 28.5px,#5cffa3 55.5px,#9eff61 76.5px,#c3ff3c 93.5px,#d3ff2c 109.5px,#d0ff2f 123.5px,#baff45 139.5px,#8aff75 158.5px,#12ffed 194.5px,#00fdff 199.5px,#00d7ff 206.5px,#009bff 214.5px,#0037ff 222.5px,#0000ff 226.5px)"></i>
<i style="background:linear-gradient(90deg,#0014ff 0.5px,#0085ff 10.5px,#00cbff 19.5px,#00f4ff 26.5px,#00ffff 29.5px,#52ffad 53.5px,#99ff66 76.5px,#bdff42 93.5px,#cdff32 109.5px,#c9ff36 124.5px,#b4ff4b 139.5px,#8bff74 156.5px,#1affe5 191.5px,#00ffff 198.5px,#00dbff 205.5px,#0098ff 214.5px,#004fff 220.5px,#0000fc 226.5px)"></i>
<i style="background:linear-gradient(90deg,#0011ff 0.5px,#0079ff 9.5px,#00baff 17.5px,#00edff 25.5px,#01fffe 30.5px,#5bffa4 57.5px,#9bff64 79.5px,#bdff42 97.5px,#c7ff38 112.5px,#c1ff3e 126.5px,#aaff55 141.5px,#7dff82 159.5px,#1affe5 190.5px,#01fffe 197.5px,#00e4ff 203.5px,#00aeff 211.5px,#008cff 215.5px,#0009ff 225.5px,#0000fa 226.5px)"></i>
<i style="background:linear-gradient(90deg,#000fff 0.5px,#0080ff 10.5px,#00cdff 20.5px,#00f8ff 28.5px,#05fffa 32.5px,#5affa5 58.5px,#98ff67 80.5px,#b7ff48 97.5px,#c1ff3e 112.5px,#b9ff46 128.5px,#9fff60 144.5px,#6cff93 163.5px,#10ffef 192.5px,#00feff 197.5px,#00e2ff 203.5px,#00a3ff 212.5px,#0089ff 215.5px,#0007ff 225.5px,#0000f8 226.5px)"></i>
<i style="background:linear-gradient(90deg,#000dff 0.5px,#0074ff 9.5px,#00bcff 18.5px,#00e8ff 25.5px,#00fcff 30.5px,#09fff6 34.5px,#5cffa3 60.5px,#97ff68 82.5px,#b2ff4d 98.5px,#bbff44 114.5px,#b1ff4e 130.5px,#95ff6a 146.5px,#53ffac 170.5px,#09fff6 193.5px,#00fcff 197.5px,#00d9ff 204.5px,#00a1ff 212.5px,#0086ff 215.5px,#0004ff 225.5px,#0000f6 226.5px)"></i>
<i style="background:linear-gradient(90deg,#000aff 0.5px,#007bff 10.5px,#00c8ff 20.5px,#00efff 27.5px,#00feff 32.5px,#57ffa8 60.5px,#8dff72 80.5px,#abff54 97.5px,#b5ff4a 113.5px,#acff53 129.5px,#91ff6e 145.5px,#68ff97 161.5px,#17ffe8 188.5px,#00feff 195.5px,#00edff 200.5px,#00bcff 208.5px,#0084ff 215.5px,#0002ff 225.5px,#0000f3 226.5px)"></i>
<i style="background:linear-gradient(90deg,#0008ff 0.5px,#006fff 9.5px,#00b7ff 18.5px,#00e8ff 26.5px,#00faff 31.5px,#02fffd 34.5px,#51ffae 59.5px,#8eff71 83.5px,#a9ff56 101.5px,#aeff51 117.5px,#a1ff5e 133.5px,#81ff7e 150.5px,#2dffd2 180.5px,#00feff 194.5px,#00efff 199.5px,#00c7ff 206.5px,#008bff 214.5px,#0042ff 220.5px,#0000ff 225.5px,#0000f1 226.5px)"></i>
<i style="background:linear-gradient(90deg,#0006ff 0.5px,#0076ff 10.5px,#00bbff 19.5px,#00e6ff 26.5px,#00f8ff 31.5px,#02fffd 35.5px,#4affb5 58.5px,#88ff77 83.5px,#a1ff5e 99.5px,#a8ff57 115.5px,#9fff60 130.5px,#80ff7f 148.5px,#30ffcf 178.5px,#00feff 193.5px,#00edff 199.5px,#00b7ff 208.5px,#007fff 215.5px,#000bff 224.5px,#0000fc 225.5px,#0000ee 226.5px)"></i>
<i style="background:linear-gradient(90deg,#0003ff 0.5px,#0073ff 10.5px,#00c0ff 20.5px,#00ecff 28.5px,#00faff 33.5px,#02fffd 36.5px,#46ffb9 58.5px,#85ff7a 84.5px,#9dff62 101.5px,#a2ff5d 117.5px,#94ff6b 134.5px,#71ff8e 152.5px,#29ffd6 179.5px,#00feff 192.5px,#00efff 198.5px,#00c2ff 206.5px,#0086ff 214.5px,#003dff 220.5px,#0008ff 224.5px,#0000fa 225.5px,#0000ec 226.5px)"></i>
<i style="background:linear-gradient(90deg,#0001ff 0.5px,#0070ff 10.5px,#00bdff 20.5px,#00eaff 28.5px,#00feff 36.5px,#4fffb0 63.5px,#83ff7c 86.5px,#98ff67 103.5px,#9bff64 119.5px,#8cff73 135.5px,#6cff93 152.5px,#28ffd7 178.5px,#00feff 191.5px,#00f0ff 197.5px,#00ccff 204.5px,#008bff 213.5px,#006dff 216.5px,#0006ff 224.5px,#0000f7 225.5px,#0000ea 226.5px)"></i>
<i style="background:linear-gradient(90deg,#0000fd 0.5px,#006eff 10.5px,#00baff 20.5px,#00e3ff 27.5px,#00f4ff 32.5px,#02fffd 38.5px,#48ffb7 62.5px,#7fff80 87.5px,#93ff6c 104.5px,#94ff6b 120.5px,#85ff7a 136.5px,#59ffa6 158.5px,#18ffe7 182.5px,#00feff 190.5px,#00eeff 197.5px,#00c3ff 205.5px,#0081ff 214.5px,#001eff 222.5px,#0003ff 224.5px,#0000e7 226.5px)"></i>
<i style="background:linear-gradient(90deg,#0000fb 0.5px,#0013ff 2.5px,#006bff 10.5px,#00b1ff 19.5px,#00e5ff 28.5px,#00f6ff 34.5px,#01fffe 39.5px,#41ffbe 61.5px,#79ff86 87.5px,#8cff73 103.5px,#8eff71 121.5px,#7cff83 138.5px,#4bffb4 162.5px,#05fffa 187.5px,#00fcff 190.5px,#00ebff 197.5px,#00c0ff 205.5px,#007eff 214.5px,#000eff 223.5px,#0001ff 224.5px,#0000e5 226.5px)"></i>
<i style="background:linear-gradient(90deg,#0000f8 0.5px,#0005ff 1.5px,#0068ff 10.5px,#00b5ff 20.5px,#00e2ff 28.5px,#00f4ff 34.5px,#01fffe 40.5px,#3fffc0 62.5px,#75ff8a 88.5px,#88ff77 107.5px,#86ff79 124.5px,#70ff8f 142.5px,#3affc5 167.5px,#00feff 188.5px,#00e9ff 197.5px,#00bdff 205.5px,#007bff 214.5px,#0032ff 220.5px,#0000fd 224.5px,#0000e2 226.5px)"></i>
<i style="background:linear-gradient(90deg,#0000f6 0.5px,#0003ff 1.5px,#0065ff 10.5px,#00b2ff 20.5px,#00e0ff 28.5px,#00f1ff 34.5px,#00ffff 41.5px,#3dffc2 63.5px,#6fff90 88.5px,#82ff7d 107.5px,#80ff7f 123.5px,#6dff92 140.5px,#3bffc4 165.5px,#00ffff 186.5px,#00e6ff 197.5px,#00bbff 205.5px,#0078ff 214.5px,#0016ff 222.5px,#0000fa 224.5px,#0000df 226.5px)"></i>
<i style="background:linear-gradient(90deg,#0000f3 0.5px,#0000ff 1.5px,#0059ff 9.5px,#00a1ff 18.5px,#00d3ff 26.5px,#00ebff 32.5px,#02fffd 43.5px,#3bffc4 64.5px,#61ff9e 83.5px,#78ff87 101.5px,#7cff83 117.5px,#71ff8e 133.5px,#4bffb4 156.5px,#11ffee 179.5px,#00ffff 185.5px,#00e7ff 196.5px,#00c4ff 203.5px,#0085ff 212.5px,#006bff 215.5px,#0006ff 223.5px,#0000f8 224.5px,#0000dd 226.5px)"></i>
<i style="background:linear-gradient(90deg,#0000f1 0.5px,#0000fc 1.5px,#0041ff 7.5px,#0068ff 11.5px,#00b3ff 21.5px,#00dfff 29.5px,#00f3ff 37.5px,#01fffe 44.5px,#39ffc6 65.5px,#5fffa0 85.5px,#74ff8b 104.5px,#75ff8a 120.5px,#66ff99 137.5px,#42ffbd 158.5px,#07fff8 181.5px,#00fcff 185.5px,#00e5ff 196.5px,#00bbff 204.5px,#007aff 213.5px,#005cff 216.5px,#0003ff 223.5px,#0000da 226.5px)"></i>
<i style="background:linear-gradient(90deg,#0000ee 0.5px,#0000fa 1.5px,#0006ff 2.5px,#005dff 10.5px,#00a9ff 20.5px,#00d7ff 28.5px,#00e9ff 33.5px,#00ffff 45.5px,#34ffcb 65.5px,#58ffa7 84.5px,#6eff91 104.5px,#6eff91 123.5px,#58ffa7 143.5px,#30ffcf 164.5px,#00ffff 182.5px,#00e6ff 195.5px,#00caff 201.5px,#008fff 210.5px,#0070ff 214.5px,#0001ff 223.5px,#0000d8 226.5px)"></i>
<i style="background:linear-gradient(90deg,#0000eb 0.5px,#0004ff 2.5px,#005aff 10.5px,#00a6ff 20.5px,#00d5ff 28.5px,#00e8ff 34.5px,#02fffd 47.5px,#36ffc9 68.5px,#57ffa8 87.5px,#69ff96 107.5px,#67ff98 124.5px,#50ffaf 145.5px,#22ffdd 168.5px,#00feff 181.5px,#00e3ff 195.5px,#00c7ff 201.5px,#008cff 210.5px,#0063ff 215.5px,#0000fd 223.5px,#0000d5 226.5px)"></i>
<i style="background:linear-gradient(90deg,#0000e9 0.5px,#0001ff 2.5px,#0057ff 10.5px,#00a3ff 20.5px,#00d7ff 29.5px,#00e8ff 35.5px,#01fffe 48.5px,#3affc5 72.5px,#59ffa6 93.5px,#64ff9b 112.5px,#5cffa3 131.5px,#41ffbe 151.5px,#11ffee 173.5px,#00feff 180.5px,#00e1ff 195.5px,#00b9ff 203.5px,#006aff 214.5px,#0015ff 221.5px,#0000fa 223.5px,#0000d2 226.5px)"></i>
<i style="background:linear-gradient(90deg,#0000e6 0.5px,#0000fd 2.5px,#0055ff 10.5px,#00a7ff 21.5px,#00d4ff 29.5px,#00e4ff 34.5px,#02fffd 50.5px,#39ffc6 74.5px,#56ffa9 95.5px,#5effa1 114.5px,#54ffab 134.5px,#35ffca 155.5px,#00fdff 179.5px,#00deff 195.5px,#00b6ff 203.5px,#0067ff 214.5px,#0006ff 222.5px,#0000f8 223.5px,#0000d0 226.5px)"></i>
<i style="background:linear-gradient(90deg,#0000e3 0.5px,#0000fb 2.5px,#0012ff 4.5px,#0052ff 10.5px,#00a4ff 21.5px,#00d1ff 29.5px,#00e1ff 34.5px,#00ffff 51.5px,#30ffcf 72.5px,#4fffb0 93.5px,#59ffa6 113.5px,#51ffae 131.5px,#39ffc6 150.5px,#0dfff2 171.5px,#00feff 177.5px,#00dbff 195.5px,#00b3ff 203.5px,#0064ff 214.5px,#0003ff 222.5px,#0000cd 226.5px)"></i>
<i style="background:linear-gradient(90deg,#0000e1 0.5px,#0000f8 2.5px,#0004ff 3.5px,#004fff 10.5px,#00a1ff 21.5px,#00ceff 29.5px,#00e1ff 35.5px,#01fffe 53.5px,#31ffce 75.5px,#4bffb4 95.5px,#53ffac 112.5px,#4dffb2 130.5px,#34ffcb 150.5px,#04fffb 173.5px,#00f9ff 178.5px,#00dcff 194.5px,#00b6ff 202.5px,#0069ff 213.5px,#004bff 216.5px,#0000ff 222.5px,#0000ca 226.5px)"></i>
<i style="background:linear-gradient(90deg,#0000de 0.5px,#0001ff 3.5px,#004cff 10.5px,#009eff 21.5px,#00d0ff 30.5px,#00e4ff 38.5px,#02fffd 55.5px,#31ffce 78.5px,#48ffb7 98.5px,#4effb1 116.5px,#43ffbc 135.5px,#28ffd7 154.5px,#00fdff 174.5px,#00d9ff 194.5px,#00b3ff 202.5px,#0066ff 213.5px,#0048ff 216.5px,#0000fc 222.5px,#0000c8 226.5px)"></i>
<i style="background:linear-gradient(90deg,#0000db 0.5px,#0000fe 3.5px,#0049ff 10.5px,#0094ff 20.5px,#00c3ff 28.5px,#00d8ff 33.5px,#02fffd 57.5px,#2cffd3 78.5px,#43ffbc 98.5px,#49ffb6 116.5px,#3dffc2 136.5px,#1effe1 157.5px,#00fdff 172.5px,#00daff 193.5px,#00bbff 200.5px,#007aff 210.5px,#0051ff 215.5px,#0007ff 221.5px,#0000f9 222.5px,#0000c5 226.5px)"></i>
<i style="background:linear-gradient(90deg,#0000d8 0.5px,#0000fb 3.5px,#0012ff 5.5px,#0046ff 10.5px,#0091ff 20.5px,#00c0ff 28.5px,#00d5ff 33.5px,#00ffff 58.5px,#2affd5 80.5px,#3fffc0 100.5px,#43ffbc 119.5px,#34ffcb 139.5px,#15ffea 159.5px,#00fdff 170.5px,#00d7ff 193.5px,#00b8ff 200.5px,#0077ff 210.5px,#004eff 215.5px,#0004ff 221.5px,#0000ea 223.5px,#0000c2 226.5px)"></i>
<i style="background:linear-gradient(90deg,#0000d6 0.5px,#0000f8 3.5px,#0004ff 4.5px,#0043ff 10.5px,#008eff 20.5px,#00c2ff 29.5px,#00d7ff 35.5px,#02fffd 61.5px,#29ffd6 83.5px,#3cffc3 104.5px,#3cffc3 123.5px,#28ffd7 145.5px,#00fdff 168.5px,#00d4ff 193.5px,#00b5ff 200.5px,#0074ff 210.5px,#004bff 215.5px,#0001ff 221.5px,#0000bf 226.5px)"></i>
<i style="background:linear-gradient(90deg,#0000d3 0.5px,#0001ff 4.5px,#0040ff 10.5px,#008bff 20.5px,#00bfff 29.5px,#00d2ff 34.5px,#00ffff 62.5px,#25ffda 84.5px,#36ffc9 103.5px,#37ffc8 122.5px,#28ffd7 141.5px,#05fffa 162.5px,#00fbff 168.5px,#00d1ff 193.5px,#00b2ff 200.5px,#006aff 211.5px,#0049ff 215.5px,#0000fe 221.5px,#0000bc 226.5px)"></i>
<i style="background:linear-gradient(90deg,#0000d0 0.5px,#0000fd 4.5px,#003dff 10.5px,#0088ff 20.5px,#00bcff 29.5px,#00d2ff 35.5px,#01fffe 65.5px,#21ffde 85.5px,#31ffce 103.5px,#31ffce 124.5px,#1fffe0 144.5px,#00fdff 164.5px,#00d2ff 192.5px,#00afff 200.5px,#0067ff 211.5px,#0046ff 215.5px,#0008ff 220.5px,#0000fb 221.5px,#0000ba 226.5px)"></i>
<i style="background:linear-gradient(90deg,#0000cd 0.5px,#0000fa 4.5px,#0011ff 6.5px,#003aff 10.5px,#0085ff 20.5px,#00b9ff 29.5px,#00cfff 35.5px,#00fbff 64.5px,#05fffa 70.5px,#22ffdd 90.5px,#2effd1 111.5px,#27ffd8 131.5px,#11ffee 150.5px,#00feff 161.5px,#00cfff 192.5px,#00acff 200.5px,#0064ff 211.5px,#0043ff 215.5px,#0005ff 220.5px,#0000f8 221.5px,#0000b7 226.5px)"></i>
<i style="background:linear-gradient(90deg,#0000ca 0.5px,#0000f7 4.5px,#0003ff 5.5px,#0037ff 10.5px,#0082ff 20.5px,#00b6ff 29.5px,#00cdff 35.5px,#00fbff 66.5px,#02fffd 71.5px,#1cffe3 90.5px,#28ffd7 109.5px,#23ffdc 129.5px,#0cfff3 150.5px,#00feff 158.5px,#00d7ff 186.5px,#00c5ff 194.5px,#009dff 202.5px,#0059ff 212.5px,#0034ff 216.5px,#0002ff 220.5px,#0000b4 226.5px)"></i>
<i style="background:linear-gradient(90deg,#0000c7 0.5px,#0000ff 5.5px,#0034ff 10.5px,#007fff 20.5px,#00b3ff 29.5px,#00caff 35.5px,#00f8ff 66.5px,#02fffd 74.5px,#1bffe4 94.5px,#23ffdc 114.5px,#1affe5 134.5px,#00fdff 156.5px,#00d8ff 184.5px,#00c6ff 193.5px,#00a0ff 201.5px,#005dff 211.5px,#003cff 215.5px,#0000fe 220.5px,#0000b1 226.5px)"></i>
<i style="background:linear-gradient(90deg,#0000c5 0.5px,#0000fc 5.5px,#0039ff 11.5px,#0082ff 21.5px,#00b0ff 29.5px,#00c7ff 35.5px,#00f1ff 63.5px,#02fffd 77.5px,#19ffe6 98.5px,#1dffe2 120.5px,#0efff1 141.5px,#00fdff 153.5px,#00daff 181.5px,#00c3ff 193.5px,#009dff 201.5px,#005aff 211.5px,#0039ff 215.5px,#0009ff 219.5px,#0000fb 220.5px,#0000ae 226.5px)"></i>
<i style="background:linear-gradient(90deg,#0000c2 0.5px,#0000f9 5.5px,#0005ff 6.5px,#002eff 10.5px,#0079ff 20.5px,#00b2ff 30.5px,#00c7ff 36.5px,#00f3ff 67.5px,#02fffd 81.5px,#14ffeb 99.5px,#18ffe7 119.5px,#09fff6 141.5px,#00fdff 150.5px,#00ddff 177.5px,#00c4ff 192.5px,#009fff 200.5px,#0066ff 209.5px,#0036ff 215.5px,#0006ff 219.5px,#0000f8 220.5px,#0000ab 226.5px)"></i>
<i style="background:linear-gradient(90deg,#0000c0 0.5px,#0002ff 6.5px,#002bff 10.5px,#0076ff 20.5px,#00afff 30.5px,#00c4ff 36.5px,#00efff 66.5px,#02fffd 85.5px,#11ffee 104.5px,#11ffee 124.5px,#00fdff 147.5px,#00ddff 175.5px,#00c1ff 192.5px,#0097ff 201.5px,#004dff 212.5px,#0033ff 215.5px,#0003ff 219.5px,#0000c2 224.5px,#0000a8 226.5px)"></i>
<i style="background:linear-gradient(90deg,#0000bd 0.5px,#0000fe 6.5px,#0030ff 11.5px,#0079ff 21.5px,#00acff 30.5px,#00c1ff 36.5px,#00e8ff 63.5px,#00ffff 88.5px,#0dfff2 108.5px,#09fff6 129.5px,#00fdff 142.5px,#00e1ff 170.5px,#00beff 192.5px,#0099ff 200.5px,#0058ff 210.5px,#0030ff 215.5px,#0000ff 219.5px,#0000a6 226.5px)"></i>
<i style="background:linear-gradient(90deg,#0000bb 0.5px,#0000fb 6.5px,#0011ff 8.5px,#003dff 13.5px,#0083ff 23.5px,#00b2ff 32.5px,#00c2ff 38.5px,#00ebff 68.5px,#00ffff 94.5px,#08fff7 113.5px,#01fffe 132.5px,#00eeff 156.5px,#00caff 184.5px,#00bbff 192.5px,#0096ff 200.5px,#0055ff 210.5px,#002dff 215.5px,#0000fc 219.5px,#0000a4 226.5px)"></i>
<i style="background:linear-gradient(90deg,#0000b8 0.5px,#0000f8 6.5px,#0004ff 7.5px,#002aff 11.5px,#0079ff 22.5px,#00a6ff 30.5px,#00bcff 36.5px,#00e6ff 66.5px,#00fcff 94.5px,#01fffe 123.5px,#00f3ff 147.5px,#00d6ff 174.5px,#00bbff 191.5px,#0098ff 199.5px,#0060ff 208.5px,#002aff 215.5px,#0006ff 218.5px,#0000f9 219.5px,#0000a1 226.5px)"></i>
<i style="background:linear-gradient(90deg,#0000b6 0.5px,#0001ff 7.5px,#002fff 12.5px,#007cff 23.5px,#00acff 32.5px,#00bdff 38.5px,#00e7ff 70.5px,#00faff 97.5px,#00fcff 125.5px,#00ebff 153.5px,#00c9ff 181.5px,#00b8ff 191.5px,#0095ff 199.5px,#0056ff 209.5px,#0027ff 215.5px,#0003ff 218.5px,#0000b8 224.5px,#00009f 226.5px)"></i>
<i style="background:linear-gradient(90deg,#0000b3 0.5px,#0000fc 7.5px,#0033ff 13.5px,#0079ff 23.5px,#00a9ff 32.5px,#00b9ff 37.5px,#00e3ff 69.5px,#00f7ff 97.5px,#00f9ff 124.5px,#00e8ff 153.5px,#00c2ff 184.5px,#00b2ff 192.5px,#0087ff 201.5px,#0044ff 211.5px,#0024ff 215.5px,#0000ff 218.5px,#00009c 226.5px)"></i>
<i style="background:linear-gradient(90deg,#0000b1 0.5px,#0000fa 7.5px,#000fff 9.5px,#005cff 19.5px,#0098ff 29.5px,#00b4ff 36.5px,#00deff 67.5px,#00f3ff 95.5px,#00f6ff 123.5px,#00e7ff 150.5px,#00c8ff 178.5px,#00b2ff 191.5px,#008fff 199.5px,#0050ff 209.5px,#0020ff 215.5px,#0008ff 217.5px,#0000fb 218.5px,#00009a 226.5px)"></i>
<i style="background:linear-gradient(90deg,#0000ae 0.5px,#0002ff 8.5px,#003cff 15.5px,#007fff 25.5px,#00a7ff 33.5px,#00b6ff 39.5px,#00dfff 71.5px,#00f1ff 99.5px,#00f1ff 129.5px,#00dcff 159.5px,#00b5ff 189.5px,#009bff 196.5px,#0061ff 206.5px,#0027ff 214.5px,#0005ff 217.5px,#0000ed 219.5px,#000097 226.5px)"></i>
<i style="background:linear-gradient(90deg,#0000ac 0.5px,#0000ff 8.5px,#0040ff 16.5px,#0081ff 26.5px,#00a7ff 34.5px,#00b4ff 39.5px,#00dbff 70.5px,#00eeff 99.5px,#00eeff 128.5px,#00dcff 155.5px,#00bbff 183.5px,#00adff 191.5px,#0088ff 199.5px,#0049ff 209.5px,#001aff 215.5px,#0002ff 217.5px,#0000ba 223.5px,#000095 226.5px)"></i>
<i style="background:linear-gradient(90deg,#0000a9 0.5px,#0000fc 8.5px,#002eff 14.5px,#0072ff 24.5px,#00a1ff 33.5px,#00b1ff 39.5px,#00d6ff 69.5px,#00e9ff 95.5px,#00ecff 123.5px,#00dcff 152.5px,#00baff 182.5px,#00aaff 191.5px,#0080ff 200.5px,#003fff 210.5px,#0017ff 215.5px,#0000ff 217.5px,#000092 226.5px)"></i>
<i style="background:linear-gradient(90deg,#0000a7 0.5px,#0000f9 8.5px,#0004ff 9.5px,#0056ff 20.5px,#0090ff 30.5px,#00abff 37.5px,#00d1ff 67.5px,#00e5ff 93.5px,#00e9ff 122.5px,#00dbff 149.5px,#00baff 180.5px,#00aaff 190.5px,#0087ff 198.5px,#004aff 208.5px,#0014ff 215.5px,#0000fc 217.5px,#000090 226.5px)"></i>
<i style="background:linear-gradient(90deg,#0000a4 0.5px,#0002ff 9.5px,#0059ff 21.5px,#0092ff 31.5px,#00abff 38.5px,#00d5ff 74.5px,#00e5ff 103.5px,#00e3ff 131.5px,#00cfff 159.5px,#00aaff 189.5px,#008eff 196.5px,#0054ff 206.5px,#001bff 214.5px,#0006ff 216.5px,#0000f9 217.5px,#00008d 226.5px)"></i>
<i style="background:linear-gradient(90deg,#0000a2 0.5px,#0000fe 9.5px,#0069ff 24.5px,#0097ff 33.5px,#00a9ff 39.5px,#00d1ff 73.5px,#00e1ff 101.5px,#00e1ff 127.5px,#00d0ff 155.5px,#00a9ff 188.5px,#0094ff 194.5px,#006aff 202.5px,#0018ff 214.5px,#0003ff 216.5px,#0000e0 219.5px,#00008b 226.5px)"></i>
<i style="background:linear-gradient(90deg,#00009f 0.5px,#0000fb 9.5px,#000dff 11.5px,#0065ff 24.5px,#0094ff 33.5px,#00a7ff 39.5px,#00cfff 74.5px,#00dfff 106.5px,#00dcff 132.5px,#00c8ff 160.5px,#00a6ff 188.5px,#008dff 195.5px,#0054ff 205.5px,#0015ff 214.5px,#0001ff 216.5px,#000088 226.5px)"></i>
<i style="background:linear-gradient(90deg,#00009d 0.5px,#0000f9 9.5px,#0002ff 10.5px,#005cff 23.5px,#0091ff 33.5px,#00a4ff 39.5px,#00cbff 73.5px,#00dbff 102.5px,#00d9ff 131.5px,#00c5ff 160.5px,#00a4ff 188.5px,#0085ff 196.5px,#004aff 206.5px,#0013ff 214.5px,#0000fd 216.5px,#000085 226.5px)"></i>
<i style="background:linear-gradient(90deg,#00009a 0.5px,#0000ff 10.5px,#005fff 24.5px,#008eff 33.5px,#00a1ff 39.5px,#00c7ff 72.5px,#00d7ff 101.5px,#00d7ff 128.5px,#00c4ff 158.5px,#00a1ff 188.5px,#0081ff 196.5px,#0047ff 206.5px,#0007ff 215.5px,#0000fa 216.5px,#000083 226.5px)"></i>
<i style="background:linear-gradient(90deg,#000097 0.5px,#0000fc 10.5px,#0028ff 16.5px,#0078ff 29.5px,#009aff 37.5px,#00b7ff 59.5px,#00d0ff 90.5px,#00d5ff 118.5px,#00cbff 145.5px,#00acff 178.5px,#009bff 189.5px,#0079ff 197.5px,#0037ff 208.5px,#0004ff 215.5px,#0000ec 217.5px,#000080 226.5px)"></i>
<i style="background:linear-gradient(90deg,#000095 0.5px,#0000f9 10.5px,#0002ff 11.5px,#004cff 22.5px,#0083ff 32.5px,#009cff 39.5px,#00beff 69.5px,#00d0ff 99.5px,#00d0ff 129.5px,#00bcff 160.5px,#009bff 188.5px,#007bff 196.5px,#003bff 207.5px,#000bff 214.5px,#0001ff 215.5px,#000080 226.5px)"></i>
<i style="background:linear-gradient(90deg,#000092 0.5px,#0000f7 10.5px,#0000fe 11.5px,#004fff 23.5px,#0084ff 33.5px,#0099ff 39.5px,#00bbff 69.5px,#00cdff 99.5px,#00cdff 128.5px,#00bcff 156.5px,#009cff 186.5px,#008aff 192.5px,#0062ff 200.5px,#0016ff 212.5px,#0000fe 215.5px,#000087 225.5px,#000080 226.5px)"></i>
<i style="background:linear-gradient(90deg,#000090 0.5px,#0000f4 10.5px,#0004ff 12.5px,#0052ff 24.5px,#0085ff 34.5px,#0098ff 40.5px,#00bcff 74.5px,#00cbff 105.5px,#00c8ff 133.5px,#00b1ff 165.5px,#0095ff 188.5px,#0079ff 195.5px,#0035ff 207.5px,#0005ff 214.5px,#0000fb 215.5px,#000085 225.5px,#000080 226.5px)"></i>
<i style="background:linear-gradient(90deg,#00008d 0.5px,#0000f1 10.5px,#0001ff 12.5px,#0050ff 24.5px,#0082ff 34.5px,#0095ff 40.5px,#00b9ff 74.5px,#00c7ff 103.5px,#00c5ff 132.5px,#00afff 164.5px,#0095ff 187.5px,#0076ff 195.5px,#0039ff 206.5px,#0002ff 214.5px,#0000ed 216.5px,#000082 225.5px,#000080 226.5px)"></i>
<i style="background:linear-gradient(90deg,#00008a 0.5px,#0000ee 10.5px,#0000fd 12.5px,#0053ff 25.5px,#0087ff 36.5px,#0095ff 42.5px,#00b6ff 74.5px,#00c4ff 105.5px,#00c2ff 131.5px,#00aeff 162.5px,#0092ff 187.5px,#006eff 196.5px,#0030ff 207.5px,#0000ff 214.5px,#00008c 224.5px,#000080 225.5px,#000080 226.5px)"></i>
<i style="background:linear-gradient(90deg,#000088 0.5px,#0000ec 10.5px,#0003ff 13.5px,#0050ff 25.5px,#0084ff 36.5px,#0091ff 41.5px,#00b0ff 70.5px,#00c1ff 104.5px,#00beff 133.5px,#00a8ff 166.5px,#008fff 187.5px,#006bff 196.5px,#002dff 207.5px,#0004ff 213.5px,#0000fc 214.5px,#000095 223.5px,#000080 225.5px,#000080 226.5px)"></i>
<i style="background:linear-gradient(90deg,#000085 0.5px,#0000e9 10.5px,#0000ff 13.5px,#0047ff 24.5px,#0074ff 33.5px,#008dff 40.5px,#00adff 70.5px,#00bdff 102.5px,#00bbff 133.5px,#00a5ff 166.5px,#008cff 187.5px,#0063ff 197.5px,#002aff 207.5px,#0001ff 213.5px,#0000f0 215.5px,#000086 224.5px,#000080 225.5px,#000080 226.5px)"></i>
<i style="background:linear-gradient(90deg,#000082 0.5px,#0000e6 10.5px,#0000fc 13.5px,#0026ff 19.5px,#005fff 29.5px,#0081ff 37.5px,#008eff 43.5px,#00adff 74.5px,#00baff 104.5px,#00b8ff 133.5px,#00a2ff 166.5px,#0089ff 187.5px,#0065ff 196.5px,#002eff 206.5px,#0000fe 213.5px,#0000e2 216.5px,#000084 224.5px,#000080 226.5px)"></i>
<i style="background:linear-gradient(90deg,#000080 0.5px,#0000e4 10.5px,#0002ff 14.5px,#004dff 26.5px,#0077ff 35.5px,#008aff 42.5px,#00aaff 74.5px,#00b7ff 104.5px,#00b5ff 133.5px,#009fff 166.5px,#0086ff 187.5px,#005eff 197.5px,#001eff 208.5px,#0003ff 212.5px,#0000f4 214.5px,#00008d 223.5px,#000081 224.5px,#000080 226.5px)"></i>
<i style="background:linear-gradient(90deg,#000080 0.5px,#0000e1 10.5px,#0000fe 14.5px,#0050ff 27.5px,#0078ff 36.5px,#0089ff 43.5px,#00a9ff 77.5px,#00b5ff 109.5px,#00afff 139.5px,#0097ff 171.5px,#0085ff 186.5px,#0065ff 195.5px,#0022ff 207.5px,#0000ff 212.5px,#0000e8 215.5px,#000080 224.5px,#000080 226.5px)"></i>
<i style="background:linear-gradient(90deg,#000080 0.5px,#000084 1.5px,#0000dd 10.5px,#0002ff 15.5px,#0047ff 26.5px,#0075ff 36.5px,#0085ff 43.5px,#00a5ff 77.5px,#00b0ff 107.5px,#00adff 135.5px,#0097ff 167.5px,#007fff 187.5px,#0061ff 195.5px,#002bff 205.5px,#0003ff 211.5px,#0000ed 214.5px,#000087 223.5px,#000080 224.5px,#000080 226.5px)"></i>
<i style="background:linear-gradient(90deg,#000080 0.5px,#000080 1.5px,#0000d8 10.5px,#0000fc 15.5px,#0025ff 21.5px,#0060ff 32.5px,#007cff 40.5px,#009eff 74.5px,#00abff 106.5px,#00a8ff 134.5px,#0094ff 165.5px,#007dff 186.5px,#0061ff 194.5px,#0026ff 205.5px,#0000fd 211.5px,#0000df 215.5px,#000082 223.5px,#000080 226.5px)"></i>
<i style="background:linear-gradient(90deg,#000080 0.5px,#000085 2.5px,#0000d3 10.5px,#0000fe 16.5px,#0048ff 28.5px,#006fff 37.5px,#007cff 43.5px,#009bff 77.5px,#00a6ff 108.5px,#00a1ff 139.5px,#0089ff 171.5px,#0079ff 186.5px,#005cff 194.5px,#0021ff 205.5px,#0000ff 210.5px,#0000da 215.5px,#000080 223.5px,#000080 226.5px)"></i>
<i style="background:linear-gradient(90deg,#000080 0.5px,#000080 2.5px,#0000cf 10.5px,#0001ff 17.5px,#0043ff 28.5px,#006eff 38.5px,#007bff 46.5px,#0099ff 82.5px,#00a1ff 114.5px,#009aff 143.5px,#0080ff 175.5px,#0074ff 186.5px,#0057ff 194.5px,#0022ff 204.5px,#0002ff 209.5px,#0000e6 213.5px,#0000bf 217.5px,#000084 222.5px,#000080 224.5px,#000080 226.5px)"></i>
<i style="background:linear-gradient(90deg,#000080 0.5px,#000080 2.5px,#000090 4.5px,#0000ca 10.5px,#0000fb 17.5px,#0009ff 19.5px,#0043ff 29.5px,#0069ff 38.5px,#0075ff 44.5px,#0094ff 83.5px,#009cff 113.5px,#0095ff 142.5px,#007eff 172.5px,#0070ff 186.5px,#004eff 195.5px,#000bff 207.5px,#0000fc 209.5px,#0000da 214.5px,#000080 222.5px,#000080 226.5px)"></i>
<i style="background:linear-gradient(90deg,#000080 0.5px,#000081 3.5px,#0000c5 10.5px,#0000fd 18.5px,#004dff 32.5px,#006dff 41.5px,#008eff 81.5px,#0097ff 113.5px,#0090ff 142.5px,#0073ff 180.5px,#006bff 186.5px,#0049ff 195.5px,#0012ff 205.5px,#0000fe 208.5px,#0000cc 215.5px,#000087 221.5px,#000080 222.5px,#000080 226.5px)"></i>
<i style="background:linear-gradient(90deg,#000080 0.5px,#000080 3.5px,#000090 5.5px,#0000c7 11.5px,#0000ff 19.5px,#003aff 29.5px,#0063ff 39.5px,#006dff 45.5px,#008bff 85.5px,#0092ff 119.5px,#0086ff 151.5px,#0069ff 185.5px,#004dff 193.5px,#001aff 203.5px,#0001ff 207.5px,#0000c7 215.5px,#000082 221.5px,#000080 226.5px)"></i>
<i style="background:linear-gradient(90deg,#000080 0.5px,#000081 4.5px,#0000bb 10.5px,#0001ff 20.5px,#003fff 31.5px,#0061ff 40.5px,#006aff 46.5px,#0088ff 89.5px,#008cff 121.5px,#0081ff 151.5px,#0065ff 185.5px,#0049ff 193.5px,#000fff 204.5px,#0002ff 206.5px,#0000cb 214.5px,#000080 221.5px,#000080 226.5px)"></i>
<i style="background:linear-gradient(90deg,#000080 0.5px,#000080 4.5px,#0000be 11.5px,#0000fb 20.5px,#0009ff 22.5px,#0043ff 33.5px,#005fff 41.5px,#0070ff 59.5px,#0085ff 95.5px,#0086ff 128.5px,#0076ff 159.5px,#0063ff 184.5px,#0044ff 193.5px,#000aff 204.5px,#0000fc 206.5px,#0000bd 215.5px,#000084 220.5px,#000080 222.5px,#000080 226.5px)"></i>
<i style="background:linear-gradient(90deg,#000080 0.5px,#000082 5.5px,#0000b9 11.5px,#0000fd 21.5px,#0043ff 34.5px,#005dff 42.5px,#0078ff 78.5px,#0082ff 110.5px,#007dff 139.5px,#0060ff 183.5px,#0048ff 191.5px,#0011ff 202.5px,#0000fe 205.5px,#0000c1 214.5px,#000080 220.5px,#000080 226.5px)"></i>
<i style="background:linear-gradient(90deg,#000080 0.5px,#000080 5.5px,#0000b4 11.5px,#0000fe 22.5px,#003eff 34.5px,#0059ff 42.5px,#006fff 72.5px,#007cff 103.5px,#007aff 134.5px,#005dff 182.5px,#004bff 189.5px,#001dff 199.5px,#0000ff 204.5px,#0000bc 214.5px,#000086 219.5px,#000080 220.5px,#000080 226.5px)"></i>
<i style="background:linear-gradient(90deg,#000080 0.5px,#000082 6.5px,#0000af 11.5px,#0000ff 23.5px,#0039ff 34.5px,#0054ff 42.5px,#0066ff 63.5px,#0077ff 103.5px,#0075ff 134.5px,#005bff 179.5px,#0053ff 185.5px,#0031ff 194.5px,#0001ff 203.5px,#0000b8 214.5px,#000081 219.5px,#000080 226.5px)"></i>
<i style="background:linear-gradient(90deg,#000080 0.5px,#000080 6.5px,#0000b9 13.5px,#0001ff 24.5px,#0034ff 34.5px,#0050ff 42.5px,#0062ff 64.5px,#0072ff 105.5px,#0070ff 133.5px,#0059ff 176.5px,#0051ff 184.5px,#0031ff 193.5px,#0002ff 202.5px,#0000c8 211.5px,#0000a9 215.5px,#000080 219.5px,#000080 226.5px)"></i>
<i style="background:linear-gradient(90deg,#000080 0.5px,#000082 7.5px,#0000ad 12.5px,#0000fb 24.5px,#0008ff 26.5px,#003cff 37.5px,#004fff 44.5px,#0066ff 80.5px,#006eff 118.5px,#0060ff 159.5px,#004eff 183.5px,#0035ff 191.5px,#0003ff 201.5px,#0000de 207.5px,#0000a5 215.5px,#000083 218.5px,#000080 224.5px,#000080 226.5px)"></i>
<i style="background:linear-gradient(90deg,#000080 0.5px,#000080 7.5px,#0000c4 16.5px,#0000fc 25.5px,#001dff 31.5px,#0041ff 40.5px,#004dff 46.5px,#0063ff 84.5px,#0068ff 122.5px,#005cff 159.5px,#004aff 183.5px,#002cff 192.5px,#0000fd 201.5px,#0000b0 213.5px,#0000a0 215.5px,#000080 218.5px,#000080 226.5px)"></i>
</div>
<div class="a hm" style="left:406px;top:3px;width:227px;height:232px">
<i style="background:linear-gradient(90deg,#000080 0.5px,#000088 71.5px,#00008e 117.5px,#000080 221.5px,#000080 226.5px)"></i>
<i style="background:linear-gradient(90deg,#000080 0.5px,#000087 66.5px,#00008f 117.5px,#000081 211.5px,#000080 226.5px)"></i>
<i style="background:linear-gradient(90deg,#000080 0.5px,#000087 65.5px,#00008f 114.5px,#000085 174.5px,#000080 226.5px)"></i>
<i style="background:linear-gradient(90deg,#000080 0.5px,#000087 65.5px,#000090 115.5px,#000081 209.5px,#000080 226.5px)"></i>
<i style="background:linear-gradient(90deg,#000080 0.5px,#000087 65.5px,#000090 112.5px,#000089 156.5px,#000080 220.5px,#000080 226.5px)"></i>
<i style="background:linear-gradient(90deg,#000080 0.5px,#000087 64.5px,#000091 114.5px,#000081 205.5px,#000080 226.5px)"></i>
<i style="background:linear-gradient(90deg,#000080 0.5px,#000087 64.5px,#000091 111.5px,#00008b 150.5px,#000081 204.5px,#000080 226.5px)"></i>
<i style="background:linear-gradient(90deg,#000080 0.5px,#000087 64.5px,#000092 113.5px,#000087 165.5px,#000080 226.5px)"></i>
<i style="background:linear-gradient(90deg,#000080 0.5px,#000086 60.5px,#000092 109.5px,#00008d 145.5px,#000081 199.5px,#000080 226.5px)"></i>
<i style="background:linear-gradient(90deg,#000080 0.5px,#000086 60.5px,#000093 112.5px,#00008b 152.5px,#000081 202.5px,#000080 226.5px)"></i>
<i style="background:linear-gradient(90deg,#000080 0.5px,#000086 60.5px,#000093 108.5px,#00008e 144.5px,#000082 192.5px,#000080 226.5px)"></i>
<i style="background:linear-gradient(90deg,#000080 0.5px,#000086 60.5px,#000094 111.5px,#00008c 150.5px,#000081 198.5px,#000080 226.5px)"></i>
<i style="background:linear-gradient(90deg,#000080 0.5px,#000086 60.5px,#000094 108.5px,#00008f 142.5px,#000082 190.5px,#000080 226.5px)"></i>
<i style="background:linear-gradient(90deg,#000080 0.5px,#000086 60.5px,#000095 110.5px,#00008e 145.5px,#000082 190.5px,#000080 226.5px)"></i>
<i style="background:linear-gradient(90deg,#000080 0.5px,#000086 60.5px,#000095 108.5px,#000091 138.5px,#000082 187.5px,#000080 226.5px)"></i>
<i style="background:linear-gradient(90deg,#000080 0.5px,#000085 56.5px,#000096 110.5px,#00008f 144.5px,#000082 188.5px,#000080 226.5px)"></i>
<i style="background:linear-gradient(90deg,#000080 0.5px,#000085 56.5px,#000096 108.5px,#000092 137.5px,#000083 182.5px,#000080 226.5px)"></i>
<i style="background:linear-gradient(90deg,#000080 0.5px,#000085 57.5px,#000097 110.5px,#000091 140.5px,#000083 182.5px,#000080 226.5px)"></i>
<i style="background:linear-gradient(90deg,#000080 0.5px,#000085 57.5px,#000097 107.5px,#000094 133.5px,#000083 181.5px,#000080 226.5px)"></i>
<i style="background:linear-gradient(90deg,#000080 0.5px,#000085 57.5px,#000098 109.5px,#000093 137.5px,#000083 180.5px,#000080 226.5px)"></i>
<i style="background:linear-gradient(90deg,#000080 0.5px,#000085 57.5px,#000098 107.5px,#000094 135.5px,#000083 179.5px,#000080 226.5px)"></i>
<i style="background:linear-gradient(90deg,#000080 0.5px,#000085 57.5px,#000099 108.5px,#000094 136.5px,#000083 178.5px,#000080 226.5px)"></i>
<i style="background:linear-gradient(90deg,#000080 0.5px,#000085 58.5px,#00009a 109.5px,#000093 138.5px,#000083 178.5px,#000080 226.5px)"></i>
<i style="background:linear-gradient(90deg,#000080 0.5px,#000085 58.5px,#00009a 108.5px,#000095 135.5px,#000084 174.5px,#000080 226.5px)"></i>
<i style="background:linear-gradient(90deg,#000080 0.5px,#000085 58.5px,#00009b 110.5px,#000094 137.5px,#000083 177.5px,#000080 226.5px)"></i>
<i style="background:linear-gradient(90deg,#000080 0.5px,#000085 59.5px,#00009b 108.5px,#000097 132.5px,#000084 173.5px,#000080 226.5px)"></i>
<i style="background:linear-gradient(90deg,#000080 0.5px,#000085 59.5px,#00009c 108.5px,#000097 133.5px,#000084 172.5px,#000080 226.5px)"></i>
<i style="background:linear-gradient(90deg,#000080 0.5px,#000084 56.5px,#00009c 108.5px,#000098 131.5px,#000084 172.5px,#000080 226.5px)"></i>
<i style="background:linear-gradient(90deg,#000080 0.5px,#000084 56.5px,#00009d 109.5px,#000097 134.5px,#000084 172.5px,#000080 226.5px)"></i>
<i style="background:linear-gradient(90deg,#000080 0.5px,#000084 57.5px,#00009d 108.5px,#000099 131.5px,#000084 170.5px,#000080 226.5px)"></i>
<i style="background:linear-gradient(90deg,#000080 0.5px,#000084 57.5px,#00009e 109.5px,#000099 131.5px,#000084 169.5px,#000080 226.5px)"></i>
<i style="background:linear-gradient(90deg,#000080 0.5px,#000084 57.5px,#000097 91.5px,#00009f 115.5px,#000090 145.5px,#000083 175.5px,#000080 226.5px)"></i>
<i style="background:linear-gradient(90deg,#000080 0.5px,#000084 58.5px,#000099 94.5px,#00009f 115.5px,#000095 138.5px,#000084 169.5px,#000080 226.5px)"></i>
<i style="background:linear-gradient(90deg,#000080 0.5px,#000084 58.5px,#000098 92.5px,#0000a0 114.5px,#000096 137.5px,#000084 168.5px,#000080 226.5px)"></i>
<i style="background:linear-gradient(90deg,#000080 0.5px,#000084 58.5px,#000096 89.5px,#0000a0 110.5px,#00009b 130.5px,#000085 165.5px,#000080 221.5px,#000080 226.5px)"></i>
<i style="background:linear-gradient(90deg,#000080 0.5px,#000084 59.5px,#000097 90.5px,#0000a1 111.5px,#00009a 132.5px,#000085 164.5px,#000080 222.5px,#000080 226.5px)"></i>
<i style="background:linear-gradient(90deg,#000080 0.5px,#000084 59.5px,#000096 88.5px,#0000a2 108.5px,#00009f 126.5px,#000085 164.5px,#000080 220.5px,#000080 226.5px)"></i>
<i style="background:linear-gradient(90deg,#000080 0.5px,#000084 59.5px,#000094 85.5px,#0000a4 108.5px,#00009f 128.5px,#000086 161.5px,#000080 209.5px,#000080 226.5px)"></i>
<i style="background:linear-gradient(90deg,#000080 0.5px,#000084 60.5px,#000094 84.5px,#0000a5 107.5px,#0000a2 126.5px,#000087 159.5px,#000080 201.5px,#000080 226.5px)"></i>
<i style="background:linear-gradient(90deg,#000080 0.5px,#000084 60.5px,#000094 84.5px,#0000a7 107.5px,#0000a4 125.5px,#000087 159.5px,#000080 201.5px,#000080 226.5px)"></i>
<i style="background:linear-gradient(90deg,#000080 0.5px,#000084 60.5px,#000094 84.5px,#0000a8 106.5px,#0000a6 124.5px,#000088 157.5px,#000080 193.5px,#000080 226.5px)"></i>
<i style="background:linear-gradient(90deg,#000080 0.5px,#000083 58.5px,#000092 82.5px,#0000a9 105.5px,#0000a9 121.5px,#000087 158.5px,#000080 200.5px,#000080 226.5px)"></i>
<i style="background:linear-gradient(90deg,#000080 0.5px,#000083 58.5px,#000090 79.5px,#0000ab 106.5px,#0000a9 123.5px,#000087 158.5px,#000080 197.5px,#000080 226.5px)"></i>
<i style="background:linear-gradient(90deg,#000080 0.5px,#000083 58.5px,#000090 79.5px,#0000ad 107.5px,#0000ab 122.5px,#000087 158.5px,#000080 197.5px,#000080 226.5px)"></i>
<i style="background:linear-gradient(90deg,#000080 0.5px,#000083 59.5px,#000090 79.5px,#0000ae 106.5px,#0000ae 120.5px,#000086 159.5px,#000080 202.5px,#000080 226.5px)"></i>
<i style="background:linear-gradient(90deg,#000080 0.5px,#000083 59.5px,#00008f 79.5px,#0000af 105.5px,#0000af 121.5px,#000089 154.5px,#000081 183.5px,#000080 226.5px)"></i>
<i style="background:linear-gradient(90deg,#000080 0.5px,#000083 60.5px,#000090 80.5px,#0000b1 106.5px,#0000b1 120.5px,#000089 154.5px,#000081 181.5px,#000080 226.5px)"></i>
<i style="background:linear-gradient(90deg,#000080 0.5px,#000083 60.5px,#000090 80.5px,#0000b2 105.5px,#0000b3 119.5px,#0000a0 135.5px,#00008a 152.5px,#000081 180.5px,#000080 226.5px)"></i>
<i style="background:linear-gradient(90deg,#000080 0.5px,#000083 61.5px,#000091 81.5px,#0000b3 105.5px,#0000b5 118.5px,#0000a5 132.5px,#00008a 152.5px,#000081 177.5px,#000080 226.5px)"></i>
<i style="background:linear-gradient(90deg,#000080 0.5px,#000083 61.5px,#00008f 79.5px,#0000b5 106.5px,#0000b7 118.5px,#0000a2 134.5px,#00008b 151.5px,#000082 171.5px,#000080 226.5px)"></i>
<i style="background:linear-gradient(90deg,#000080 0.5px,#000083 62.5px,#000090 80.5px,#0000b8 107.5px,#0000b6 121.5px,#00008a 151.5px,#000081 176.5px,#000080 226.5px)"></i>
<i style="background:linear-gradient(90deg,#000080 0.5px,#000083 62.5px,#00008f 80.5px,#0000b7 105.5px,#0000bb 116.5px,#0000ac 129.5px,#00008d 148.5px,#000082 168.5px,#000080 226.5px)"></i>
<i style="background:linear-gradient(90deg,#000080 0.5px,#000083 63.5px,#000090 81.5px,#0000ba 106.5px,#0000bc 117.5px,#0000ad 129.5px,#00008e 147.5px,#000083 165.5px,#000080 226.5px)"></i>
<i style="background:linear-gradient(90deg,#000080 0.5px,#000083 63.5px,#000090 81.5px,#0000ba 105.5px,#0000be 115.5px,#0000b3 126.5px,#00008f 146.5px,#000083 163.5px,#000080 226.5px)"></i>
<i style="background:linear-gradient(90deg,#000080 0.5px,#000083 64.5px,#00008e 80.5px,#0000bd 106.5px,#0000bf 117.5px,#0000b0 128.5px,#00008e 146.5px,#000083 164.5px,#000080 226.5px)"></i>
<i style="background:linear-gradient(90deg,#000080 0.5px,#000083 65.5px,#00008f 81.5px,#0000be 106.5px,#0000c1 116.5px,#0000b5 126.5px,#00008f 145.5px,#000083 162.5px,#000080 226.5px)"></i>
<i style="background:linear-gradient(90deg,#000080 0.5px,#000083 65.5px,#00008f 81.5px,#0000b3 99.5px,#0000c2 109.5px,#0000c1 119.5px,#0000aa 131.5px,#00008c 147.5px,#000082 167.5px,#000080 226.5px)"></i>
<i style="background:linear-gradient(90deg,#000080 0.5px,#000083 66.5px,#000090 82.5px,#0000af 97.5px,#0000c3 108.5px,#0000c3 118.5px,#0000ad 130.5px,#00008e 145.5px,#000083 162.5px,#000080 226.5px)"></i>
<i style="background:linear-gradient(90deg,#000080 0.5px,#000083 66.5px,#00008f 82.5px,#0000ad 96.5px,#0000c5 108.5px,#0000c5 118.5px,#0000ab 131.5px,#00008f 144.5px,#000083 160.5px,#000080 226.5px)"></i>
<i style="background:linear-gradient(90deg,#000080 0.5px,#000083 67.5px,#000090 83.5px,#0000b0 97.5px,#0000c5 107.5px,#0000c8 116.5px,#0000b8 126.5px,#000094 141.5px,#000086 153.5px,#000080 191.5px,#000080 226.5px)"></i>
<i style="background:linear-gradient(90deg,#000080 0.5px,#000083 67.5px,#00008e 82.5px,#0000a8 94.5px,#0000c5 106.5px,#0000ca 114.5px,#0000c2 122.5px,#000091 142.5px,#000084 157.5px,#000080 226.5px)"></i>
<i style="background:linear-gradient(90deg,#000080 0.5px,#000084 70.5px,#00008f 83.5px,#0000a8 94.5px,#0000c7 106.5px,#0000cc 115.5px,#0000c1 123.5px,#000092 141.5px,#000085 154.5px,#000080 200.5px,#000080 226.5px)"></i>
<i style="background:linear-gradient(90deg,#000080 0.5px,#000084 71.5px,#000092 85.5px,#0000b1 97.5px,#0000ca 107.5px,#0000cd 116.5px,#0000bf 124.5px,#000094 140.5px,#000085 153.5px,#000080 199.5px,#000080 226.5px)"></i>
<i style="background:linear-gradient(90deg,#000080 0.5px,#000084 72.5px,#000091 85.5px,#0000ad 96.5px,#0000c9 106.5px,#0000d0 114.5px,#0000c5 122.5px,#000095 139.5px,#000086 151.5px,#000081 183.5px,#000080 226.5px)"></i>
<i style="background:linear-gradient(90deg,#000081 0.5px,#000083 69.5px,#00008d 83.5px,#0000a4 93.5px,#0000cb 106.5px,#0000d1 114.5px,#0000c6 122.5px,#000094 139.5px,#000085 152.5px,#000081 192.5px,#000081 226.5px)"></i>
<i style="background:linear-gradient(90deg,#000081 0.5px,#000083 70.5px,#00008e 84.5px,#0000a4 93.5px,#0000cf 106.5px,#0000d6 113.5px,#0000cf 120.5px,#000096 138.5px,#000087 148.5px,#000081 176.5px,#000081 226.5px)"></i>
<i style="background:linear-gradient(90deg,#000081 0.5px,#000083 70.5px,#00008e 84.5px,#0000a1 92.5px,#0000d3 106.5px,#0000dc 113.5px,#0000d3 120.5px,#000098 137.5px,#000088 147.5px,#000081 171.5px,#000081 226.5px)"></i>
<i style="background:linear-gradient(90deg,#000081 0.5px,#000084 73.5px,#00008f 85.5px,#0000a8 94.5px,#0000d4 105.5px,#0000e0 111.5px,#0000de 117.5px,#0000c6 125.5px,#00009e 135.5px,#00008c 143.5px,#000082 160.5px,#000081 226.5px)"></i>
<i style="background:linear-gradient(90deg,#000081 0.5px,#000084 74.5px,#000090 86.5px,#0000a9 94.5px,#0000de 107.5px,#0000e6 113.5px,#0000de 119.5px,#0000ba 128.5px,#000098 137.5px,#000089 145.5px,#000082 164.5px,#000081 226.5px)"></i>
<i style="background:linear-gradient(90deg,#000081 0.5px,#000084 74.5px,#000090 86.5px,#0000a8 94.5px,#0000df 106.5px,#0000eb 112.5px,#0000e5 118.5px,#0000cf 124.5px,#0000a1 134.5px,#00008c 142.5px,#000082 159.5px,#000081 226.5px)"></i>
<i style="background:linear-gradient(90deg,#000081 0.5px,#000084 75.5px,#00008f 86.5px,#0000a4 93.5px,#0000e7 107.5px,#0000f0 113.5px,#0000e7 119.5px,#0000b7 129.5px,#000099 136.5px,#000089 144.5px,#000082 163.5px,#000081 226.5px)"></i>
<i style="background:linear-gradient(90deg,#000081 0.5px,#000084 75.5px,#000090 87.5px,#0000a3 93.5px,#0000e7 106.5px,#0000f4 111.5px,#0000f1 117.5px,#0000d9 123.5px,#0000a3 133.5px,#00008e 140.5px,#000083 154.5px,#000081 226.5px)"></i>
<i style="background:linear-gradient(90deg,#000081 0.5px,#000084 76.5px,#00008f 87.5px,#0000a2 93.5px,#0000cf 101.5px,#0000f3 108.5px,#0000fa 113.5px,#0000f3 118.5px,#0000cf 125.5px,#0000a2 133.5px,#00008d 140.5px,#000083 153.5px,#000081 226.5px)"></i>
<i style="background:linear-gradient(90deg,#000081 0.5px,#000084 76.5px,#00008f 87.5px,#0000a1 93.5px,#0000c9 100.5px,#0000f3 107.5px,#0000fe 111.5px,#0000fd 116.5px,#0000e9 121.5px,#0000a6 132.5px,#000091 138.5px,#000085 148.5px,#000081 209.5px,#000081 226.5px)"></i>
<i style="background:linear-gradient(90deg,#000082 0.5px,#000084 77.5px,#00008e 87.5px,#0000a0 93.5px,#0000c2 99.5px,#0000f7 107.5px,#0000ff 109.5px,#0005ff 114.5px,#0000ff 117.5px,#0000ec 121.5px,#0000aa 131.5px,#000092 137.5px,#000086 145.5px,#000082 177.5px,#000082 226.5px)"></i>
<i style="background:linear-gradient(90deg,#000082 0.5px,#000084 77.5px,#00008f 88.5px,#0000a3 94.5px,#0000c9 100.5px,#0000fa 107.5px,#0004ff 109.5px,#000bff 113.5px,#0004ff 117.5px,#0000fa 119.5px,#0000a8 131.5px,#000091 137.5px,#000085 147.5px,#000082 207.5px,#000082 226.5px)"></i>
<i style="background:linear-gradient(90deg,#000082 0.5px,#000084 78.5px,#00008e 88.5px,#0000a1 94.5px,#0000c9 100.5px,#0000fe 107.5px,#000eff 111.5px,#000eff 115.5px,#0000fe 119.5px,#0000ac 130.5px,#000092 136.5px,#000086 144.5px,#000082 178.5px,#000082 226.5px)"></i>
<i style="background:linear-gradient(90deg,#000082 0.5px,#000084 78.5px,#00008f 89.5px,#0000a0 94.5px,#0000c0 99.5px,#0000fb 106.5px,#0008ff 108.5px,#0015ff 112.5px,#0011ff 116.5px,#0002ff 119.5px,#0000f3 121.5px,#0000b1 129.5px,#000097 134.5px,#000089 141.5px,#000082 160.5px,#000082 226.5px)"></i>
<i style="background:linear-gradient(90deg,#000082 0.5px,#000084 78.5px,#00008c 88.5px,#000099 93.5px,#0000b7 98.5px,#0000fd 106.5px,#0016ff 110.5px,#001aff 114.5px,#0012ff 117.5px,#0000fd 120.5px,#0000af 129.5px,#000096 134.5px,#000088 141.5px,#000082 165.5px,#000082 226.5px)"></i>
<i style="background:linear-gradient(90deg,#000082 0.5px,#000085 81.5px,#000091 91.5px,#0000a2 95.5px,#0000bf 99.5px,#0000fb 105.5px,#000eff 107.5px,#0020ff 110.5px,#0026ff 113.5px,#0020ff 116.5px,#000eff 119.5px,#0000fb 121.5px,#0000b6 128.5px,#000098 133.5px,#00008a 139.5px,#000083 155.5px,#000082 226.5px)"></i>
<i style="background:linear-gradient(90deg,#000083 0.5px,#000085 82.5px,#000090 91.5px,#0000a6 96.5px,#0000c8 100.5px,#0001ff 105.5px,#001eff 108.5px,#002fff 111.5px,#0031ff 114.5px,#0025ff 117.5px,#000cff 120.5px,#0001ff 121.5px,#0000b5 128.5px,#00009b 132.5px,#00008a 138.5px,#000083 154.5px,#000083 226.5px)"></i>
<i style="background:linear-gradient(90deg,#000083 0.5px,#000085 82.5px,#00008f 91.5px,#00009e 95.5px,#0000bd 99.5px,#0000f8 104.5px,#0006ff 105.5px,#002fff 109.5px,#003cff 112.5px,#003aff 115.5px,#0027ff 118.5px,#0006ff 121.5px,#0000f8 122.5px,#0000bd 127.5px,#00009e 131.5px,#00008d 136.5px,#000084 148.5px,#000083 226.5px)"></i>
<i style="background:linear-gradient(90deg,#000083 0.5px,#000085 82.5px,#00008e 91.5px,#00009c 95.5px,#0000bb 99.5px,#0000ed 103.5px,#0000fb 104.5px,#0017ff 106.5px,#0039ff 109.5px,#0048ff 112.5px,#0045ff 115.5px,#0039ff 117.5px,#000aff 121.5px,#0000fb 122.5px,#0000c6 126.5px,#0000a9 129.5px,#000093 133.5px,#000087 140.5px,#000083 172.5px,#000083 226.5px)"></i>
<i style="background:linear-gradient(90deg,#000083 0.5px,#000085 83.5px,#00008f 92.5px,#00009f 96.5px,#0000b8 99.5px,#0000ed 103.5px,#0000fc 104.5px,#0042ff 109.5px,#0050ff 111.5px,#0053ff 114.5px,#004aff 116.5px,#0037ff 118.5px,#0000fc 122.5px,#0000c3 126.5px,#0000a6 129.5px,#000092 133.5px,#000086 141.5px,#000083 219.5px,#000083 226.5px)"></i>
<i style="background:linear-gradient(90deg,#000083 0.5px,#000086 85.5px,#000090 93.5px,#0000a3 97.5px,#0000c0 100.5px,#0000fd 104.5px,#003eff 108.5px,#0054ff 110.5px,#005fff 112.5px,#005fff 114.5px,#0054ff 116.5px,#003eff 118.5px,#0000fd 122.5px,#0000c0 126.5px,#0000a3 129.5px,#000090 133.5px,#000086 141.5px,#000083 226.5px)"></i>
<i style="background:linear-gradient(90deg,#000084 0.5px,#000086 85.5px,#00008f 93.5px,#0000a0 97.5px,#0000bd 100.5px,#0000ea 103.5px,#0000fc 104.5px,#0045ff 108.5px,#005eff 110.5px,#006aff 112.5px,#006aff 114.5px,#005eff 116.5px,#0045ff 118.5px,#0000fc 122.5px,#0000ca 125.5px,#0000a8 128.5px,#000095 131.5px,#000089 137.5px,#000084 157.5px,#000084 226.5px)"></i>
<i style="background:linear-gradient(90deg,#000084 0.5px,#000086 86.5px,#000090 94.5px,#0000a5 98.5px,#0000c9 101.5px,#0002ff 104.5px,#0056ff 108.5px,#0074ff 110.5px,#0083ff 112.5px,#0083ff 114.5px,#0074ff 116.5px,#0056ff 118.5px,#0002ff 122.5px,#0000c9 125.5px,#0000a5 128.5px,#000090 132.5px,#000086 140.5px,#000084 226.5px)"></i>
<i style="background:linear-gradient(90deg,#000084 0.5px,#000086 86.5px,#00008f 94.5px,#0000a2 98.5px,#0000b7 100.5px,#0000d8 102.5px,#0004ff 104.5px,#0066ff 108.5px,#008aff 110.5px,#009cff 112.5px,#009cff 114.5px,#008aff 116.5px,#0066ff 118.5px,#0004ff 122.5px,#0000d8 124.5px,#0000b7 126.5px,#0000a2 128.5px,#00008f 132.5px,#000086 141.5px,#000084 226.5px)"></i>
<i style="background:linear-gradient(90deg,#000085 0.5px,#000087 88.5px,#000090 95.5px,#00009f 98.5px,#0000b3 100.5px,#0000d4 102.5px,#0004ff 104.5px,#0074ff 108.5px,#009fff 110.5px,#00adff 111.5px,#00b5ff 112.5px,#00b5ff 114.5px,#00adff 115.5px,#008cff 117.5px,#0059ff 119.5px,#0004ff 122.5px,#0000d4 124.5px,#0000b3 126.5px,#00009f 128.5px,#000090 131.5px,#000087 138.5px,#000085 226.5px)"></i>
<i style="background:linear-gradient(90deg,#000085 0.5px,#000087 88.5px,#000091 96.5px,#0000a3 99.5px,#0000bc 101.5px,#0000e5 103.5px,#0001ff 104.5px,#0080ff 108.5px,#00b3ff 110.5px,#00c4ff 111.5px,#00cdff 112.5px,#00d0ff 113.5px,#00cdff 114.5px,#00c4ff 115.5px,#00b3ff 116.5px,#0080ff 118.5px,#0001ff 122.5px,#0000cf 124.5px,#0000ae 126.5px,#00009b 128.5px,#00008c 132.5px,#000085 148.5px,#000085 226.5px)"></i>
<i style="background:linear-gradient(90deg,#000085 0.5px,#000087 88.5px,#00008d 95.5px,#000098 98.5px,#0000a8 100.5px,#0000c8 102.5px,#0000fa 104.5px,#001cff 105.5px,#008aff 108.5px,#00c7ff 110.5px,#00dbff 111.5px,#00e6ff 112.5px,#00e9ff 113.5px,#00e6ff 114.5px,#00dbff 115.5px,#00c7ff 116.5px,#008aff 118.5px,#001cff 121.5px,#0000fa 122.5px,#0000c8 124.5px,#0000a8 126.5px,#000093 129.5px,#000089 134.5px,#000085 171.5px,#000085 226.5px)"></i>
<i style="background:linear-gradient(90deg,#000086 0.5px,#000088 90.5px,#000091 97.5px,#00009b 99.5px,#0000b0 101.5px,#0000d9 103.5px,#0000f7 104.5px,#001dff 105.5px,#00c8ff 109.5px,#00eaff 110.5px,#05fffa 111.5px,#13ffec 112.5px,#17ffe8 113.5px,#13ffec 114.5px,#05fffa 115.5px,#00eaff 116.5px,#00c8ff 117.5px,#001dff 121.5px,#0000f7 122.5px,#0000d9 123.5px,#0000b0 125.5px,#00009b 127.5px,#00008c 131.5px,#000086 147.5px,#000086 226.5px)"></i>
<i style="background:linear-gradient(90deg,#000086 0.5px,#000088 91.5px,#00008f 97.5px,#000097 99.5px,#0000aa 101.5px,#0000ba 102.5px,#0000d1 103.5px,#0000f0 104.5px,#0018ff 105.5px,#007aff 107.5px,#00e1ff 109.5px,#0dfff2 110.5px,#2dffd2 111.5px,#3fffc0 112.5px,#44ffbb 113.5px,#3fffc0 114.5px,#2dffd2 115.5px,#0dfff2 116.5px,#00e1ff 117.5px,#0047ff 120.5px,#0018ff 121.5px,#0000f0 122.5px,#0000d1 123.5px,#0000ba 124.5px,#00009f 126.5px,#000093 128.5px,#00008a 133.5px,#000086 159.5px,#000086 226.5px)"></i>
<i style="background:linear-gradient(90deg,#000087 0.5px,#000089 92.5px,#000091 98.5px,#00009a 100.5px,#0000a3 101.5px,#0000b2 102.5px,#0000c7 103.5px,#0000e6 104.5px,#000fff 105.5px,#0042ff 106.5px,#00f6ff 109.5px,#2cffd3 110.5px,#54ffab 111.5px,#6bff94 112.5px,#71ff8e 113.5px,#6bff94 114.5px,#54ffab 115.5px,#2cffd3 116.5px,#00f6ff 117.5px,#0042ff 120.5px,#000fff 121.5px,#0000e6 122.5px,#0000c7 123.5px,#0000b2 124.5px,#0000a3 125.5px,#000094 127.5px,#00008a 132.5px,#000087 168.5px,#000087 226.5px)"></i>
<i style="background:linear-gradient(90deg,#000087 0.5px,#000089 92.5px,#000092 99.5px,#00009e 101.5px,#0000aa 102.5px,#0000bd 103.5px,#0000da 104.5px,#0005ff 105.5px,#003bff 106.5px,#007eff 107.5px,#00c8ff 108.5px,#13ffec 109.5px,#56ffa9 110.5px,#89ff76 111.5px,#a7ff58 112.5px,#afff50 113.5px,#a7ff58 114.5px,#89ff76 115.5px,#56ffa9 116.5px,#13ffec 117.5px,#00c8ff 118.5px,#007eff 119.5px,#003bff 120.5px,#0005ff 121.5px,#0000da 122.5px,#0000bd 123.5px,#0000aa 124.5px,#000096 126.5px,#00008c 130.5px,#000087 150.5px,#000087 226.5px)"></i>
<i style="background:linear-gradient(90deg,#000085 0.5px,#00008e 58.5px,#0000a2 95.5px,#0000ad 107.5px,#fffc00 108.5px,#fff600 109.5px,#f6ff09 110.5px,#e9ff16 111.5px,#e6ff19 114.5px,#e9ff16 115.5px,#f6ff09 116.5px,#fff600 117.5px,#fffc00 118.5px,#0000ad 119.5px,#000096 149.5px,#000088 197.5px,#000085 226.5px)"></i>
<i style="background:linear-gradient(90deg,#000085 0.5px,#00008e 58.5px,#0000a2 95.5px,#0000ad 107.5px,#fff400 108.5px,#ffef00 109.5px,#feff01 110.5px,#f1ff0e 111.5px,#edff12 113.5px,#f1ff0e 115.5px,#feff01 116.5px,#ffef00 117.5px,#fff400 118.5px,#0000ad 119.5px,#000096 149.5px,#000088 197.5px,#000085 226.5px)"></i>
<i style="background:linear-gradient(90deg,#000085 0.5px,#00008e 58.5px,#0000a2 95.5px,#0000ad 107.5px,#ffe500 108.5px,#ffdf00 109.5px,#fffe00 111.5px,#fdff02 114.5px,#fffe00 115.5px,#ffdf00 117.5px,#ffe500 118.5px,#0000ad 119.5px,#000096 149.5px,#000088 197.5px,#000085 226.5px)"></i>
<i style="background:linear-gradient(90deg,#000085 0.5px,#00008e 58.5px,#0000a2 95.5px,#0000ad 107.5px,#ffd600 108.5px,#ffd100 109.5px,#fff000 111.5px,#fff300 114.5px,#fff000 115.5px,#ffd100 117.5px,#ffd600 118.5px,#0000ad 119.5px,#000096 149.5px,#000088 197.5px,#000085 226.5px)"></i>
<i style="background:linear-gradient(90deg,#000085 0.5px,#00008e 58.5px,#0000a2 95.5px,#0000ad 107.5px,#ffc900 108.5px,#ffc300 109.5px,#ffe200 111.5px,#ffe500 114.5px,#ffe200 115.5px,#ffc300 117.5px,#ffc900 118.5px,#0000ad 119.5px,#000096 149.5px,#000088 197.5px,#000085 226.5px)"></i>
<i style="background:linear-gradient(90deg,#000085 0.5px,#00008e 58.5px,#0000a2 95.5px,#0000ad 107.5px,#ffbb00 108.5px,#ffb600 109.5px,#ffd400 111.5px,#ffd800 113.5px,#ffd400 115.5px,#ffb600 117.5px,#ffbb00 118.5px,#0000ad 119.5px,#000096 149.5px,#000088 197.5px,#000085 226.5px)"></i>
<i style="background:linear-gradient(90deg,#000085 0.5px,#00008e 58.5px,#0000a2 95.5px,#0000ad 107.5px,#ffb300 108.5px,#ffad00 109.5px,#ffcc00 111.5px,#ffcf00 114.5px,#ffcc00 115.5px,#ffad00 117.5px,#ffb300 118.5px,#0000ad 119.5px,#000096 149.5px,#000088 197.5px,#000085 226.5px)"></i>
<i style="background:linear-gradient(90deg,#000085 0.5px,#00008e 58.5px,#0000a2 95.5px,#0000ad 107.5px,#ffb000 108.5px,#ffab00 109.5px,#ffca00 111.5px,#ffcd00 114.5px,#ffca00 115.5px,#ffab00 117.5px,#ffb000 118.5px,#0000ad 119.5px,#000096 149.5px,#000088 197.5px,#000085 226.5px)"></i>
<i style="background:linear-gradient(90deg,#000085 0.5px,#00008e 58.5px,#0000a2 95.5px,#0000ad 107.5px,#ffad00 108.5px,#ffa800 109.5px,#ffc700 111.5px,#ffca00 114.5px,#ffc700 115.5px,#ffa800 117.5px,#ffad00 118.5px,#0000ad 119.5px,#000096 149.5px,#000088 197.5px,#000085 226.5px)"></i>
<i style="background:linear-gradient(90deg,#000085 0.5px,#00008e 58.5px,#0000a2 95.5px,#0000ad 107.5px,#ffab00 108.5px,#ffa500 109.5px,#ffc400 111.5px,#ffc700 114.5px,#ffc400 115.5px,#ffa500 117.5px,#ffab00 118.5px,#0000ad 119.5px,#000096 149.5px,#000088 197.5px,#000085 226.5px)"></i>
<i style="background:linear-gradient(90deg,#000085 0.5px,#00008e 58.5px,#0000a2 95.5px,#0000ad 107.5px,#ffa800 108.5px,#ffa200 109.5px,#ffc100 111.5px,#ffc400 114.5px,#ffc100 115.5px,#ffa200 117.5px,#ffa800 118.5px,#0000ad 119.5px,#000096 149.5px,#000088 197.5px,#000085 226.5px)"></i>
<i style="background:linear-gradient(90deg,#000085 0.5px,#00008e 58.5px,#0000a2 95.5px,#0000ad 107.5px,#ffa500 108.5px,#ff9f00 109.5px,#ffbe00 111.5px,#ffc200 113.5px,#ffbe00 115.5px,#ff9f00 117.5px,#ffa500 118.5px,#0000ad 119.5px,#000096 149.5px,#000088 197.5px,#000085 226.5px)"></i>
<i style="background:linear-gradient(90deg,#000085 0.5px,#00008e 58.5px,#0000a2 95.5px,#0000ad 107.5px,#ffa200 108.5px,#ff9d00 109.5px,#ffbc00 111.5px,#ffbf00 114.5px,#ffbc00 115.5px,#ff9d00 117.5px,#ffa200 118.5px,#0000ad 119.5px,#000096 149.5px,#000088 197.5px,#000085 226.5px)"></i>
<i style="background:linear-gradient(90deg,#000085 0.5px,#00008e 58.5px,#0000a2 95.5px,#0000ad 107.5px,#ffa000 108.5px,#ff9a00 109.5px,#ffb900 111.5px,#ffbc00 114.5px,#ffb900 115.5px,#ff9a00 117.5px,#ffa000 118.5px,#0000ad 119.5px,#000096 149.5px,#000088 197.5px,#000085 226.5px)"></i>
<i style="background:linear-gradient(90deg,#000085 0.5px,#00008e 58.5px,#0000a2 95.5px,#0000ad 107.5px,#ff9d00 108.5px,#ff9700 109.5px,#ffb600 111.5px,#ffb900 114.5px,#ffb600 115.5px,#ff9700 117.5px,#ff9d00 118.5px,#0000ad 119.5px,#000096 149.5px,#000088 197.5px,#000085 226.5px)"></i>
<i style="background:linear-gradient(90deg,#000085 0.5px,#00008e 58.5px,#0000a2 95.5px,#0000ad 107.5px,#ff9a00 108.5px,#ff9400 109.5px,#ffb300 111.5px,#ffb600 114.5px,#ffb300 115.5px,#ff9400 117.5px,#ff9a00 118.5px,#0000ad 119.5px,#000096 149.5px,#000088 197.5px,#000085 226.5px)"></i>
<i style="background:linear-gradient(90deg,#000085 0.5px,#00008e 58.5px,#0000a2 95.5px,#0000ad 107.5px,#ff9700 108.5px,#ff9200 109.5px,#ffb000 111.5px,#ffb400 113.5px,#ffb000 115.5px,#ff9200 117.5px,#ff9700 118.5px,#0000ad 119.5px,#000096 149.5px,#000088 197.5px,#000085 226.5px)"></i>
<i style="background:linear-gradient(90deg,#000085 0.5px,#00008e 58.5px,#0000a2 95.5px,#0000ad 107.5px,#ff9400 108.5px,#ff8e00 109.5px,#ffad00 111.5px,#ffb100 113.5px,#ffad00 115.5px,#ff8e00 117.5px,#ff9400 118.5px,#0000ad 119.5px,#000096 149.5px,#000088 197.5px,#000085 226.5px)"></i>
<i style="background:linear-gradient(90deg,#000085 0.5px,#00008e 58.5px,#0000a2 95.5px,#0000ad 107.5px,#ff9100 108.5px,#ff8b00 109.5px,#ffaa00 111.5px,#ffad00 114.5px,#ffaa00 115.5px,#ff8b00 117.5px,#ff9100 118.5px,#0000ad 119.5px,#000096 149.5px,#000088 197.5px,#000085 226.5px)"></i>
<i style="background:linear-gradient(90deg,#000085 0.5px,#00008e 58.5px,#0000a2 95.5px,#0000ad 107.5px,#ff8d00 108.5px,#ff8800 109.5px,#ffa700 111.5px,#ffaa00 114.5px,#ffa700 115.5px,#ff8800 117.5px,#ff8d00 118.5px,#0000ad 119.5px,#000096 149.5px,#000088 197.5px,#000085 226.5px)"></i>
<i style="background:linear-gradient(90deg,#000085 0.5px,#00008e 58.5px,#0000a2 95.5px,#0000ad 107.5px,#ff8a00 108.5px,#ff8400 109.5px,#ffa300 111.5px,#ffa600 114.5px,#ffa300 115.5px,#ff8400 117.5px,#ff8a00 118.5px,#0000ad 119.5px,#000096 149.5px,#000088 197.5px,#000085 226.5px)"></i>
<i style="background:linear-gradient(90deg,#000085 0.5px,#00008e 58.5px,#0000a2 95.5px,#0000ad 107.5px,#ff8600 108.5px,#ff8100 109.5px,#ffa000 111.5px,#ffa300 114.5px,#ffa000 115.5px,#ff8100 117.5px,#ff8600 118.5px,#0000ad 119.5px,#000096 149.5px,#000088 197.5px,#000085 226.5px)"></i>
<i style="background:linear-gradient(90deg,#000085 0.5px,#00008e 58.5px,#0000a2 95.5px,#0000ad 107.5px,#ff8300 108.5px,#ff7d00 109.5px,#ff9c00 111.5px,#ffa000 113.5px,#ff9c00 115.5px,#ff7d00 117.5px,#ff8300 118.5px,#0000ad 119.5px,#000096 149.5px,#000088 197.5px,#000085 226.5px)"></i>
<i style="background:linear-gradient(90deg,#000085 0.5px,#00008e 58.5px,#0000a2 95.5px,#0000ad 107.5px,#ff8000 108.5px,#ff7a00 109.5px,#ff9900 111.5px,#ff9c00 114.5px,#ff9900 115.5px,#ff7a00 117.5px,#ff8000 118.5px,#0000ad 119.5px,#000096 149.5px,#000088 197.5px,#000085 226.5px)"></i>
<i style="background:linear-gradient(90deg,#000085 0.5px,#00008e 58.5px,#0000a2 95.5px,#0000ad 107.5px,#ff7c00 108.5px,#ff7700 109.5px,#ff9600 111.5px,#ff9900 114.5px,#ff9600 115.5px,#ff7700 117.5px,#ff7c00 118.5px,#0000ad 119.5px,#000096 149.5px,#000088 197.5px,#000085 226.5px)"></i>
<i style="background:linear-gradient(90deg,#000085 0.5px,#00008e 58.5px,#0000a2 95.5px,#0000ad 107.5px,#ff7900 108.5px,#ff7300 109.5px,#ff9200 111.5px,#ff9500 114.5px,#ff9200 115.5px,#ff7300 117.5px,#ff7900 118.5px,#0000ad 119.5px,#000096 149.5px,#000088 197.5px,#000085 226.5px)"></i>
<i style="background:linear-gradient(90deg,#000085 0.5px,#00008e 58.5px,#0000a2 95.5px,#0000ad 107.5px,#ff7400 108.5px,#ff6e00 109.5px,#ff8d00 111.5px,#ff9000 114.5px,#ff8d00 115.5px,#ff6e00 117.5px,#ff7400 118.5px,#0000ad 119.5px,#000096 149.5px,#000088 197.5px,#000085 226.5px)"></i>
<i style="background:linear-gradient(90deg,#000085 0.5px,#00008e 58.5px,#0000a2 95.5px,#0000ad 107.5px,#ff6d00 108.5px,#ff6700 109.5px,#ff8600 111.5px,#ff8900 114.5px,#ff8600 115.5px,#ff6700 117.5px,#ff6d00 118.5px,#0000ad 119.5px,#000096 149.5px,#000088 197.5px,#000085 226.5px)"></i>
<i style="background:linear-gradient(90deg,#000085 0.5px,#00008e 58.5px,#0000a2 95.5px,#0000ad 107.5px,#ff6600 108.5px,#ff6200 109.5px,#ff8800 111.5px,#ff9000 112.5px,#ff8f00 114.5px,#ff8500 115.5px,#ff5100 117.5px,#ff5c00 118.5px,#0000ad 119.5px,#000096 149.5px,#000088 197.5px,#000085 226.5px)"></i>
<i style="background:linear-gradient(90deg,#000085 0.5px,#00008e 58.5px,#0000a2 95.5px,#0000ad 107.5px,#ff6400 108.5px,#ff6100 109.5px,#ff9400 111.5px,#ffa600 112.5px,#ffad00 113.5px,#ffa500 114.5px,#ff8c00 115.5px,#ff5900 116.5px,#ff2e00 117.5px,#ff4300 118.5px,#0000ad 119.5px,#000096 149.5px,#000088 197.5px,#000085 226.5px)"></i>
<i style="background:linear-gradient(90deg,#000085 0.5px,#00008e 58.5px,#0000a2 95.5px,#0000ad 107.5px,#ff6400 108.5px,#ff6300 109.5px,#ffa400 111.5px,#ffc000 112.5px,#ffcc00 113.5px,#ffbf00 114.5px,#ff9600 115.5px,#ff4a00 116.5px,#ff0e00 117.5px,#ff2e00 118.5px,#0000ad 119.5px,#000096 149.5px,#000088 197.5px,#000085 226.5px)"></i>
<i style="background:linear-gradient(90deg,#000085 0.5px,#00008e 58.5px,#0000a2 95.5px,#0000ad 107.5px,#ff6400 108.5px,#ff6400 109.5px,#ff8400 110.5px,#ffad00 111.5px,#ffcd00 112.5px,#ffdb00 113.5px,#ffcc00 114.5px,#ff9b00 115.5px,#ff4300 116.5px,#fd0000 117.5px,#ff2300 118.5px,#0000ad 119.5px,#000096 149.5px,#000088 197.5px,#000085 226.5px)"></i>
<i style="background:linear-gradient(90deg,#000085 0.5px,#00008e 58.5px,#0000a2 95.5px,#0000ad 107.5px,#ff6400 108.5px,#ff6400 109.5px,#ff8400 110.5px,#ffad00 111.5px,#ffcd00 112.5px,#ffdb00 113.5px,#ffcc00 114.5px,#ff9b00 115.5px,#ff4300 116.5px,#fd0000 117.5px,#ff2300 118.5px,#0000ad 119.5px,#000096 149.5px,#000088 197.5px,#000085 226.5px)"></i>
<i style="background:linear-gradient(90deg,#000089 0.5px,#00008b 92.5px,#000092 98.5px,#00009c 100.5px,#0000b3 102.5px,#0000c9 103.5px,#0000e8 104.5px,#0012ff 105.5px,#0046ff 106.5px,#00c1ff 108.5px,#01fffe 109.5px,#37ffc8 110.5px,#60ff9f 111.5px,#78ff87 112.5px,#7fff80 113.5px,#78ff87 114.5px,#60ff9f 115.5px,#37ffc8 116.5px,#01fffe 117.5px,#0081ff 119.5px,#0046ff 120.5px,#0012ff 121.5px,#0000e8 122.5px,#0000c9 123.5px,#0000b3 124.5px,#00009c 126.5px,#000090 129.5px,#00008a 141.5px,#000089 226.5px)"></i>
<i style="background:linear-gradient(90deg,#000089 0.5px,#00008b 92.5px,#000095 98.5px,#0000a1 100.5px,#0000be 102.5px,#0000d6 103.5px,#0000f7 104.5px,#0022ff 105.5px,#0053ff 106.5px,#00faff 109.5px,#29ffd6 110.5px,#4bffb4 111.5px,#5fffa0 112.5px,#65ff9a 113.5px,#5fffa0 114.5px,#4bffb4 115.5px,#29ffd6 116.5px,#00faff 117.5px,#0053ff 120.5px,#0022ff 121.5px,#0000f7 122.5px,#0000d6 123.5px,#0000be 124.5px,#0000a1 126.5px,#000092 129.5px,#00008a 137.5px,#000089 226.5px)"></i>
<i style="background:linear-gradient(90deg,#000089 0.5px,#00008b 91.5px,#000094 97.5px,#00009e 99.5px,#0000b5 101.5px,#0000c8 102.5px,#0004ff 104.5px,#002cff 105.5px,#00ebff 109.5px,#13ffec 110.5px,#2fffd0 111.5px,#3fffc0 112.5px,#44ffbb 113.5px,#3fffc0 114.5px,#2fffd0 115.5px,#13ffec 116.5px,#00ebff 117.5px,#002cff 121.5px,#0004ff 122.5px,#0000c8 124.5px,#0000a7 126.5px,#000098 128.5px,#00008e 132.5px,#000089 148.5px,#000089 226.5px)"></i>
<i style="background:linear-gradient(90deg,#000088 0.5px,#00008a 89.5px,#000093 96.5px,#00009b 98.5px,#0000ae 100.5px,#0000d1 102.5px,#0000eb 103.5px,#000cff 104.5px,#005bff 106.5px,#00b1ff 108.5px,#00d8ff 109.5px,#00f8ff 110.5px,#10ffef 111.5px,#1dffe2 112.5px,#21ffde 113.5px,#1dffe2 114.5px,#10ffef 115.5px,#00f8ff 116.5px,#00d8ff 117.5px,#0087ff 119.5px,#0032ff 121.5px,#000cff 122.5px,#0000eb 123.5px,#0000d1 124.5px,#0000ae 126.5px,#00009b 128.5px,#00008e 132.5px,#000088 151.5px,#000088 226.5px)"></i>
<i style="background:linear-gradient(90deg,#000088 0.5px,#00008a 88.5px,#000092 95.5px,#00009f 98.5px,#0000b4 100.5px,#0000d9 102.5px,#0000f2 103.5px,#0011ff 104.5px,#00a2ff 108.5px,#00ddff 110.5px,#00f0ff 111.5px,#00faff 112.5px,#00fdff 113.5px,#00faff 114.5px,#00f0ff 115.5px,#00ddff 116.5px,#00a2ff 118.5px,#0011ff 122.5px,#0000f2 123.5px,#0000c4 125.5px,#0000a8 127.5px,#000099 129.5px,#00008d 134.5px,#000088 154.5px,#000088 226.5px)"></i>
<i style="background:linear-gradient(90deg,#000088 0.5px,#00008a 88.5px,#000093 95.5px,#0000a3 98.5px,#0000ba 100.5px,#0000de 102.5px,#0000f7 103.5px,#0014ff 104.5px,#0092ff 108.5px,#00c3ff 110.5px,#00d2ff 111.5px,#00dbff 112.5px,#00deff 113.5px,#00dbff 114.5px,#00d2ff 115.5px,#00c3ff 116.5px,#0092ff 118.5px,#0014ff 122.5px,#0000f7 123.5px,#0000ca 125.5px,#0000ad 127.5px,#00009c 129.5px,#00008f 133.5px,#000088 147.5px,#000088 226.5px)"></i>
<i style="background:linear-gradient(90deg,#000087 0.5px,#00008a 87.5px,#000092 94.5px,#00009f 97.5px,#0000b1 99.5px,#0000cf 101.5px,#0000f9 103.5px,#0013ff 104.5px,#0080ff 108.5px,#00a8ff 110.5px,#00b5ff 111.5px,#00beff 113.5px,#00b5ff 115.5px,#0096ff 117.5px,#0066ff 119.5px,#0013ff 122.5px,#0000f9 123.5px,#0000cf 125.5px,#0000b1 127.5px,#00009f 129.5px,#000090 133.5px,#000088 145.5px,#000087 226.5px)"></i>
<i style="background:linear-gradient(90deg,#000087 0.5px,#000089 85.5px,#000091 93.5px,#0000a3 97.5px,#0000b5 99.5px,#0000d1 101.5px,#0000f8 103.5px,#000fff 104.5px,#006cff 108.5px,#008dff 110.5px,#009eff 112.5px,#009eff 114.5px,#008dff 116.5px,#006cff 118.5px,#000fff 122.5px,#0000f8 123.5px,#0000d1 125.5px,#0000b5 127.5px,#00009c 130.5px,#00008f 134.5px,#000088 148.5px,#000087 226.5px)"></i>
<i style="background:linear-gradient(90deg,#000087 0.5px,#000089 84.5px,#000090 92.5px,#00009f 96.5px,#0000b7 99.5px,#0000e2 102.5px,#0000f5 103.5px,#0009ff 104.5px,#0057ff 108.5px,#0072ff 110.5px,#007fff 112.5px,#007fff 114.5px,#0072ff 116.5px,#0057ff 118.5px,#0009ff 122.5px,#0000f5 123.5px,#0000d2 125.5px,#0000ad 128.5px,#000099 131.5px,#00008c 137.5px,#000087 160.5px,#000087 226.5px)"></i>
<i style="background:linear-gradient(90deg,#000087 0.5px,#000089 84.5px,#000094 93.5px,#0000a8 97.5px,#0000c7 100.5px,#0000f5 103.5px,#0007ff 104.5px,#004bff 108.5px,#0062ff 110.5px,#006dff 112.5px,#006dff 114.5px,#0062ff 116.5px,#004bff 118.5px,#0007ff 122.5px,#0000f5 123.5px,#0000c7 126.5px,#0000a8 129.5px,#000094 133.5px,#000089 142.5px,#000087 226.5px)"></i>
<i style="background:linear-gradient(90deg,#000087 0.5px,#000089 83.5px,#000093 92.5px,#0000a4 96.5px,#0000c9 100.5px,#0000f5 103.5px,#0006ff 104.5px,#0042ff 108.5px,#0056ff 110.5px,#005fff 112.5px,#005cff 115.5px,#004dff 117.5px,#0026ff 120.5px,#0006ff 122.5px,#0000f5 123.5px,#0000c9 126.5px,#0000a4 130.5px,#000093 134.5px,#000088 145.5px,#000087 226.5px)"></i>
<i style="background:linear-gradient(90deg,#000086 0.5px,#000089 83.5px,#000092 91.5px,#0000a1 95.5px,#0000c0 99.5px,#0003ff 104.5px,#0038ff 108.5px,#004fff 111.5px,#0051ff 114.5px,#0049ff 116.5px,#002dff 119.5px,#0003ff 122.5px,#0000c0 127.5px,#0000a1 131.5px,#000090 136.5px,#000088 148.5px,#000086 226.5px)"></i>
<i style="background:linear-gradient(90deg,#000086 0.5px,#000088 80.5px,#000093 91.5px,#0000a9 96.5px,#0000cc 100.5px,#0000fe 104.5px,#002eff 108.5px,#0041ff 111.5px,#0044ff 114.5px,#0036ff 117.5px,#0018ff 120.5px,#0000fe 122.5px,#0000c2 127.5px,#0000a3 131.5px,#000091 136.5px,#000088 148.5px,#000086 226.5px)"></i>
<i style="background:linear-gradient(90deg,#000086 0.5px,#000088 79.5px,#000092 90.5px,#0000a5 95.5px,#0000c3 99.5px,#0000f9 104.5px,#0006ff 105.5px,#002aff 109.5px,#0036ff 112.5px,#0033ff 115.5px,#0023ff 118.5px,#0006ff 121.5px,#0000f9 122.5px,#0000c3 127.5px,#0000a5 131.5px,#000092 136.5px,#000088 147.5px,#000086 226.5px)"></i>
<i style="background:linear-gradient(90deg,#000086 0.5px,#000088 79.5px,#000093 90.5px,#0000a6 95.5px,#0000cb 100.5px,#0000fe 105.5px,#001eff 109.5px,#0028ff 112.5px,#0023ff 116.5px,#0008ff 120.5px,#0000fe 121.5px,#0000ba 128.5px,#0000a1 132.5px,#000091 137.5px,#000088 149.5px,#000086 226.5px)"></i>
<i style="background:linear-gradient(90deg,#000086 0.5px,#000088 78.5px,#000092 89.5px,#0000a3 94.5px,#0000c4 99.5px,#0000fb 105.5px,#000cff 107.5px,#001dff 110.5px,#0021ff 114.5px,#0019ff 117.5px,#0005ff 120.5px,#0000f2 122.5px,#0000b5 129.5px,#00009e 133.5px,#00008f 139.5px,#000087 155.5px,#000086 226.5px)"></i>
<i style="background:linear-gradient(90deg,#000086 0.5px,#000088 77.5px,#000092 88.5px,#0000a0 93.5px,#0000be 98.5px,#0000fa 105.5px,#000aff 107.5px,#001bff 111.5px,#001bff 115.5px,#000aff 119.5px,#0000fa 121.5px,#0000b7 129.5px,#00009c 134.5px,#00008c 142.5px,#000086 166.5px,#000086 226.5px)"></i>
<i style="background:linear-gradient(90deg,#000085 0.5px,#000088 77.5px,#000093 88.5px,#0000a7 94.5px,#0000c8 99.5px,#0001ff 106.5px,#0015ff 110.5px,#0018ff 114.5px,#000dff 118.5px,#0001ff 120.5px,#0000b2 130.5px,#00009b 135.5px,#00008d 142.5px,#000086 161.5px,#000085 226.5px)"></i>
<i style="background:linear-gradient(90deg,#000085 0.5px,#000088 76.5px,#000092 87.5px,#0000a4 93.5px,#0000c9 99.5px,#0000fd 106.5px,#0013ff 111.5px,#0011ff 116.5px,#0000fd 120.5px,#0000ae 131.5px,#000096 137.5px,#00008a 146.5px,#000085 182.5px,#000085 226.5px)"></i>
<i style="background:linear-gradient(90deg,#000085 0.5px,#000088 75.5px,#000093 87.5px,#0000a6 93.5px,#0000ca 99.5px,#0000fb 106.5px,#0006ff 108.5px,#0010ff 113.5px,#0006ff 118.5px,#0000fb 120.5px,#0000b0 131.5px,#000098 137.5px,#00008b 145.5px,#000085 176.5px,#000085 226.5px)"></i>
<i style="background:linear-gradient(90deg,#000085 0.5px,#000088 75.5px,#000094 87.5px,#0000a7 93.5px,#0000d8 101.5px,#0000fd 107.5px,#000bff 112.5px,#0006ff 117.5px,#0000fd 119.5px,#0000d8 125.5px,#0000a7 133.5px,#000092 140.5px,#000088 152.5px,#000085 226.5px)"></i>
<i style="background:linear-gradient(90deg,#000085 0.5px,#000088 74.5px,#000093 86.5px,#0000a5 92.5px,#0000c4 98.5px,#0000f5 106.5px,#0002ff 109.5px,#0007ff 114.5px,#0000fe 118.5px,#0000de 124.5px,#0000ae 132.5px,#000097 138.5px,#00008a 148.5px,#000085 184.5px,#000085 226.5px)"></i>
<i style="background:linear-gradient(90deg,#000085 0.5px,#000088 74.5px,#000094 86.5px,#0000aa 93.5px,#0000f2 106.5px,#0000ff 110.5px,#0000fd 117.5px,#0000e3 123.5px,#0000aa 133.5px,#000094 140.5px,#000088 152.5px,#000085 226.5px)"></i>
<i style="background:linear-gradient(90deg,#000085 0.5px,#000088 73.5px,#000095 86.5px,#0000ab 93.5px,#0000ef 106.5px,#0000fc 111.5px,#0000f9 117.5px,#0000e1 123.5px,#0000a7 134.5px,#000091 142.5px,#000087 157.5px,#000085 226.5px)"></i>
<i style="background:linear-gradient(90deg,#000085 0.5px,#000088 72.5px,#000092 84.5px,#0000a8 92.5px,#0000ec 106.5px,#0000f8 111.5px,#0000f5 117.5px,#0000df 123.5px,#0000a8 134.5px,#000092 142.5px,#000088 155.5px,#000085 226.5px)"></i>
<i style="background:linear-gradient(90deg,#000085 0.5px,#000088 72.5px,#000095 85.5px,#0000ad 93.5px,#0000e9 106.5px,#0000f4 112.5px,#0000ee 118.5px,#0000d8 124.5px,#0000a5 135.5px,#000091 143.5px,#000087 158.5px,#000085 226.5px)"></i>
<i style="background:linear-gradient(90deg,#000085 0.5px,#000088 71.5px,#000094 84.5px,#0000a6 91.5px,#0000e5 106.5px,#0000f0 112.5px,#0000eb 118.5px,#0000cd 126.5px,#0000a6 135.5px,#000092 143.5px,#000087 158.5px,#000085 226.5px)"></i>
<i style="background:linear-gradient(90deg,#000085 0.5px,#000087 67.5px,#000091 82.5px,#0000a3 90.5px,#0000e2 106.5px,#0000eb 112.5px,#0000e7 118.5px,#0000cc 126.5px,#0000a0 137.5px,#00008f 146.5px,#000086 164.5px,#000085 226.5px)"></i>
<i style="background:linear-gradient(90deg,#000084 0.5px,#000088 70.5px,#000095 84.5px,#0000ae 93.5px,#0000dc 105.5px,#0000e7 112.5px,#0000e1 119.5px,#0000be 129.5px,#00009e 138.5px,#00008d 148.5px,#000085 173.5px,#000084 226.5px)"></i>
<i style="background:linear-gradient(90deg,#000084 0.5px,#000088 69.5px,#000094 83.5px,#0000aa 92.5px,#0000db 106.5px,#0000e3 113.5px,#0000db 120.5px,#00009f 138.5px,#00008e 148.5px,#000086 168.5px,#000084 226.5px)"></i>
<i style="background:linear-gradient(90deg,#000084 0.5px,#000088 68.5px,#000093 82.5px,#0000ab 92.5px,#0000d7 105.5px,#0000e0 112.5px,#0000db 119.5px,#0000bd 129.5px,#00009d 139.5px,#00008d 149.5px,#000085 176.5px,#000084 226.5px)"></i>
<i style="background:linear-gradient(90deg,#000084 0.5px,#000088 68.5px,#000094 82.5px,#0000ac 92.5px,#0000d6 105.5px,#0000df 113.5px,#0000d6 121.5px,#000099 141.5px,#00008a 154.5px,#000084 197.5px,#000084 226.5px)"></i>
<i style="background:linear-gradient(90deg,#000084 0.5px,#000088 67.5px,#000093 81.5px,#0000aa 91.5px,#0000d7 106.5px,#0000dd 114.5px,#0000d2 122.5px,#00009a 141.5px,#00008b 153.5px,#000085 184.5px,#000084 226.5px)"></i>
<i style="background:linear-gradient(90deg,#000084 0.5px,#000088 66.5px,#000094 81.5px,#0000ad 92.5px,#0000d1 104.5px,#0000db 111.5px,#0000d7 119.5px,#0000bd 129.5px,#00009b 141.5px,#00008c 153.5px,#000085 181.5px,#000084 226.5px)"></i>
<i style="background:linear-gradient(90deg,#000084 0.5px,#000088 66.5px,#000096 82.5px,#0000b4 94.5px,#0000d2 105.5px,#0000da 113.5px,#0000d2 121.5px,#00009a 142.5px,#00008a 156.5px,#000084 199.5px,#000084 226.5px)"></i>
<i style="background:linear-gradient(90deg,#000084 0.5px,#000088 65.5px,#000095 81.5px,#0000b1 93.5px,#0000d1 105.5px,#0000d8 113.5px,#0000d1 121.5px,#0000ae 134.5px,#000092 147.5px,#000087 165.5px,#000084 226.5px)"></i>
<i style="background:linear-gradient(90deg,#000084 0.5px,#000088 64.5px,#000094 80.5px,#0000b1 93.5px,#0000d2 106.5px,#0000d6 115.5px,#0000cc 123.5px,#000099 143.5px,#000089 159.5px,#000084 212.5px,#000084 226.5px)"></i>
<i style="background:linear-gradient(90deg,#000084 0.5px,#000088 64.5px,#000095 80.5px,#0000af 92.5px,#0000cf 105.5px,#0000d5 114.5px,#0000cd 122.5px,#000098 144.5px,#00008a 158.5px,#000084 201.5px,#000084 226.5px)"></i>
<i style="background:linear-gradient(90deg,#000084 0.5px,#000088 63.5px,#000094 79.5px,#0000af 92.5px,#0000cc 104.5px,#0000d3 113.5px,#0000cc 122.5px,#000097 145.5px,#000089 161.5px,#000084 214.5px,#000084 226.5px)"></i>
<i style="background:linear-gradient(90deg,#000084 0.5px,#000088 62.5px,#000093 78.5px,#0000af 92.5px,#0000ce 106.5px,#0000d1 116.5px,#0000c5 125.5px,#000098 145.5px,#00008a 159.5px,#000084 204.5px,#000084 226.5px)"></i>
<i style="background:linear-gradient(90deg,#000084 0.5px,#000088 62.5px,#000095 79.5px,#0000bb 97.5px,#0000cd 107.5px,#0000cf 117.5px,#0000be 128.5px,#000098 145.5px,#000089 162.5px,#000084 215.5px,#000084 226.5px)"></i>
<i style="background:linear-gradient(90deg,#000084 0.5px,#000088 61.5px,#000093 77.5px,#0000af 92.5px,#0000cb 106.5px,#0000ce 116.5px,#0000c1 126.5px,#000096 147.5px,#000089 163.5px,#000084 216.5px,#000084 226.5px)"></i>
<i style="background:linear-gradient(90deg,#000084 0.5px,#000088 60.5px,#000095 78.5px,#0000af 92.5px,#0000c7 104.5px,#0000cd 115.5px,#0000bf 127.5px,#000096 147.5px,#000089 164.5px,#000084 217.5px,#000084 226.5px)"></i>
<i style="background:linear-gradient(90deg,#000084 0.5px,#000088 60.5px,#000095 78.5px,#0000c7 105.5px,#0000cb 116.5px,#0000bc 128.5px,#000095 148.5px,#000088 166.5px,#000084 226.5px)"></i>
<i style="background:linear-gradient(90deg,#000084 0.5px,#000088 59.5px,#000095 77.5px,#0000b1 93.5px,#0000c8 107.5px,#0000c8 119.5px,#0000b1 133.5px,#000093 150.5px,#000087 171.5px,#000084 226.5px)"></i>
<i style="background:linear-gradient(90deg,#000084 0.5px,#000088 59.5px,#000096 78.5px,#0000c3 104.5px,#0000c8 116.5px,#0000ba 128.5px,#000095 149.5px,#000088 167.5px,#000084 226.5px)"></i>
<i style="background:linear-gradient(90deg,#000084 0.5px,#000088 58.5px,#000095 77.5px,#0000c3 105.5px,#0000c6 117.5px,#0000b8 129.5px,#000094 150.5px,#000088 169.5px,#000084 226.5px)"></i>
<i style="background:linear-gradient(90deg,#000084 0.5px,#000088 57.5px,#000093 75.5px,#0000c2 105.5px,#0000c4 118.5px,#0000b2 132.5px,#000092 152.5px,#000087 175.5px,#000084 226.5px)"></i>
<i style="background:linear-gradient(90deg,#000084 0.5px,#000088 57.5px,#000096 77.5px,#0000c0 105.5px,#0000c2 119.5px,#0000ae 134.5px,#000093 152.5px,#000088 171.5px,#000084 226.5px)"></i>
<i style="background:linear-gradient(90deg,#000084 0.5px,#000088 56.5px,#000096 77.5px,#0000bf 105.5px,#0000c1 118.5px,#0000b1 132.5px,#000092 153.5px,#000087 176.5px,#000084 226.5px)"></i>
<i style="background:linear-gradient(90deg,#000084 0.5px,#000088 55.5px,#000095 76.5px,#0000bd 104.5px,#0000bf 119.5px,#0000aa 136.5px,#000091 154.5px,#000086 180.5px,#000084 226.5px)"></i>
<i style="background:linear-gradient(90deg,#000084 0.5px,#000089 58.5px,#000099 79.5px,#0000ba 103.5px,#0000bf 115.5px,#0000b1 131.5px,#000092 154.5px,#000087 177.5px,#000084 226.5px)"></i>
<i style="background:linear-gradient(90deg,#000084 0.5px,#000089 57.5px,#000097 77.5px,#0000bb 105.5px,#0000bb 121.5px,#00008f 157.5px,#000085 190.5px,#000084 226.5px)"></i>
<i style="background:linear-gradient(90deg,#000084 0.5px,#000089 57.5px,#000099 79.5px,#0000b9 104.5px,#0000ba 120.5px,#0000a3 140.5px,#00008e 159.5px,#000085 192.5px,#000084 226.5px)"></i>
<i style="background:linear-gradient(90deg,#000084 0.5px,#000089 56.5px,#000098 78.5px,#0000b6 103.5px,#0000ba 117.5px,#0000ac 133.5px,#000090 157.5px,#000086 185.5px,#000084 226.5px)"></i>
<i style="background:linear-gradient(90deg,#000084 0.5px,#000089 56.5px,#000098 78.5px,#0000b6 104.5px,#0000b7 120.5px,#0000a5 138.5px,#00008f 158.5px,#000086 188.5px,#000084 226.5px)"></i>
<i style="background:linear-gradient(90deg,#000084 0.5px,#000089 55.5px,#000099 79.5px,#0000b4 103.5px,#0000b6 119.5px,#0000a7 136.5px,#000090 158.5px,#000086 186.5px,#000084 226.5px)"></i>
<i style="background:linear-gradient(90deg,#000084 0.5px,#000089 55.5px,#000099 79.5px,#0000b4 105.5px,#0000b2 124.5px,#00008e 160.5px,#000085 196.5px,#000084 226.5px)"></i>
<i style="background:linear-gradient(90deg,#000084 0.5px,#000089 54.5px,#000099 79.5px,#0000b2 104.5px,#0000b2 122.5px,#00008d 162.5px,#000085 200.5px,#000084 226.5px)"></i>
<i style="background:linear-gradient(90deg,#000084 0.5px,#000089 54.5px,#00009a 80.5px,#0000b1 105.5px,#0000af 124.5px,#00008e 161.5px,#000085 199.5px,#000084 226.5px)"></i>
<i style="background:linear-gradient(90deg,#000084 0.5px,#000089 53.5px,#000099 79.5px,#0000b0 105.5px,#0000af 123.5px,#00008c 165.5px,#000084 213.5px,#000084 226.5px)"></i>
<i style="background:linear-gradient(90deg,#000084 0.5px,#00008a 56.5px,#00009d 83.5px,#0000b0 106.5px,#0000ae 124.5px,#00008c 165.5px,#000084 215.5px,#000084 226.5px)"></i>
<i style="background:linear-gradient(90deg,#000084 0.5px,#000089 52.5px,#000098 77.5px,#0000af 105.5px,#0000ad 125.5px,#00008d 164.5px,#000085 204.5px,#000084 226.5px)"></i>
<i style="background:linear-gradient(90deg,#000084 0.5px,#00008a 55.5px,#00009c 81.5px,#0000af 106.5px,#0000ad 125.5px,#00008c 166.5px,#000084 216.5px,#000084 226.5px)"></i>
<i style="background:linear-gradient(90deg,#000084 0.5px,#00008a 54.5px,#00009b 80.5px,#0000ae 105.5px,#0000ac 126.5px,#00008d 165.5px,#000085 206.5px,#000084 226.5px)"></i>
<i style="background:linear-gradient(90deg,#000084 0.5px,#00008a 54.5px,#00009c 81.5px,#0000ae 106.5px,#0000ac 125.5px,#00008c 167.5px,#000084 217.5px,#000084 226.5px)"></i>
<i style="background:linear-gradient(90deg,#000084 0.5px,#00008a 53.5px,#00009c 81.5px,#0000ae 107.5px,#0000aa 128.5px,#00008d 166.5px,#000085 207.5px,#000084 226.5px)"></i>
<i style="background:linear-gradient(90deg,#000084 0.5px,#00008a 53.5px,#00009c 81.5px,#0000ad 106.5px,#0000ab 125.5px,#00008b 170.5px,#000084 226.5px)"></i>
<i style="background:linear-gradient(90deg,#000084 0.5px,#00008a 52.5px,#00009c 81.5px,#0000ad 107.5px,#0000a9 128.5px,#00008c 169.5px,#000084 219.5px,#000084 226.5px)"></i>
<i style="background:linear-gradient(90deg,#000084 0.5px,#00008b 55.5px,#0000a4 91.5px,#0000ad 113.5px,#0000a4 135.5px,#00008c 169.5px,#000084 221.5px,#000084 226.5px)"></i>
<i style="background:linear-gradient(90deg,#000084 0.5px,#00008b 54.5px,#0000a3 90.5px,#0000ac 112.5px,#0000a5 133.5px,#00008c 170.5px,#000085 214.5px,#000084 226.5px)"></i>
<i style="background:linear-gradient(90deg,#000084 0.5px,#00008b 54.5px,#0000a3 90.5px,#0000ac 114.5px,#0000a2 137.5px,#00008b 172.5px,#000084 226.5px)"></i>
<i style="background:linear-gradient(90deg,#000084 0.5px,#00008b 53.5px,#0000a2 89.5px,#0000ab 111.5px,#0000a5 133.5px,#00008c 170.5px,#000084 224.5px,#000084 226.5px)"></i>
<i style="background:linear-gradient(90deg,#000084 0.5px,#00008b 53.5px,#0000aa 106.5px,#0000a7 129.5px,#00008c 171.5px,#000084 225.5px,#000084 226.5px)"></i>
<i style="background:linear-gradient(90deg,#000084 0.5px,#00008b 53.5px,#0000a9 105.5px,#0000a7 128.5px,#00008b 174.5px,#000084 226.5px)"></i>
<i style="background:linear-gradient(90deg,#000084 0.5px,#00008b 52.5px,#0000a9 106.5px,#0000a5 131.5px,#00008c 172.5px,#000085 219.5px,#000084 226.5px)"></i>
<i style="background:linear-gradient(90deg,#000084 0.5px,#00008b 52.5px,#0000a8 105.5px,#0000a6 128.5px,#00008b 175.5px,#000084 226.5px)"></i>
<i style="background:linear-gradient(90deg,#000084 0.5px,#00008b 51.5px,#0000a8 106.5px,#0000a5 130.5px,#00008c 173.5px,#000085 220.5px,#000084 226.5px)"></i>
<i style="background:linear-gradient(90deg,#000084 0.5px,#00008c 54.5px,#0000a7 105.5px,#0000a5 129.5px,#00008b 176.5px,#000084 226.5px)"></i>
<i style="background:linear-gradient(90deg,#000084 0.5px,#00008c 54.5px,#0000a7 106.5px,#0000a4 130.5px,#00008a 179.5px,#000084 226.5px)"></i>
<i style="background:linear-gradient(90deg,#000084 0.5px,#00008c 53.5px,#0000a6 105.5px,#0000a4 129.5px,#000089 183.5px,#000084 226.5px)"></i>
<i style="background:linear-gradient(90deg,#000084 0.5px,#00008c 53.5px,#0000a6 106.5px,#0000a2 133.5px,#00008a 181.5px,#000084 226.5px)"></i>
<i style="background:linear-gradient(90deg,#000085 0.5px,#00008b 50.5px,#0000a6 107.5px,#0000a1 134.5px,#00008a 181.5px,#000085 226.5px)"></i>
<i style="background:linear-gradient(90deg,#000085 0.5px,#00008b 49.5px,#0000a5 106.5px,#0000a1 134.5px,#00008a 181.5px,#000085 226.5px)"></i>
<i style="background:linear-gradient(90deg,#000085 0.5px,#00008c 52.5px,#0000a4 104.5px,#0000a2 131.5px,#00008a 181.5px,#000085 226.5px)"></i>
<i style="background:linear-gradient(90deg,#000085 0.5px,#00008c 52.5px,#0000a4 105.5px,#0000a1 132.5px,#00008a 182.5px,#000085 226.5px)"></i>
<i style="background:linear-gradient(90deg,#000085 0.5px,#00008c 52.5px,#0000a3 104.5px,#0000a1 131.5px,#00008a 183.5px,#000085 226.5px)"></i>
<i style="background:linear-gradient(90deg,#000085 0.5px,#00008c 51.5px,#0000a3 105.5px,#00009f 135.5px,#000089 186.5px,#000085 226.5px)"></i>
<i style="background:linear-gradient(90deg,#000085 0.5px,#00008c 51.5px,#0000a2 104.5px,#0000a0 132.5px,#000089 186.5px,#000085 226.5px)"></i>
<i style="background:linear-gradient(90deg,#000085 0.5px,#00008c 51.5px,#0000a2 105.5px,#00009f 134.5px,#000089 187.5px,#000085 226.5px)"></i>
<i style="background:linear-gradient(90deg,#000085 0.5px,#00008d 54.5px,#0000a2 106.5px,#00009d 138.5px,#000089 188.5px,#000085 226.5px)"></i>
<i style="background:linear-gradient(90deg,#000085 0.5px,#00008c 50.5px,#0000a1 105.5px,#00009d 137.5px,#000089 189.5px,#000085 226.5px)"></i>
<i style="background:linear-gradient(90deg,#000085 0.5px,#00008d 53.5px,#0000a1 106.5px,#00009c 139.5px,#000089 189.5px,#000085 226.5px)"></i>
<i style="background:linear-gradient(90deg,#000085 0.5px,#00008d 53.5px,#0000a0 105.5px,#00009d 135.5px,#000089 190.5px,#000085 226.5px)"></i>
<i style="background:linear-gradient(90deg,#000085 0.5px,#00008d 53.5px,#0000a0 107.5px,#00009b 140.5px,#000088 194.5px,#000085 226.5px)"></i>
<i style="background:linear-gradient(90deg,#000085 0.5px,#00008e 56.5px,#00009f 106.5px,#00009b 139.5px,#000088 195.5px,#000085 226.5px)"></i>
<i style="background:linear-gradient(90deg,#000085 0.5px,#00008e 56.5px,#00009f 107.5px,#00009a 141.5px,#000088 195.5px,#000085 226.5px)"></i>
<i style="background:linear-gradient(90deg,#000085 0.5px,#00008e 56.5px,#00009e 106.5px,#00009a 140.5px,#000088 196.5px,#000085 226.5px)"></i>
<i style="background:linear-gradient(90deg,#000085 0.5px,#00008e 56.5px,#00009e 107.5px,#000099 142.5px,#000088 197.5px,#000085 226.5px)"></i>
<i style="background:linear-gradient(90deg,#000085 0.5px,#00008e 56.5px,#00009d 104.5px,#00009a 139.5px,#000088 197.5px,#000085 226.5px)"></i>
<i style="background:linear-gradient(90deg,#000085 0.5px,#00008e 56.5px,#00009d 107.5px,#000098 144.5px,#000088 198.5px,#000085 226.5px)"></i>
<i style="background:linear-gradient(90deg,#000085 0.5px,#00008f 59.5px,#00009c 105.5px,#000099 140.5px,#000088 199.5px,#000085 226.5px)"></i>
<i style="background:linear-gradient(90deg,#000085 0.5px,#00008f 59.5px,#00009c 107.5px,#000097 145.5px,#000088 200.5px,#000085 226.5px)"></i>
<i style="background:linear-gradient(90deg,#000085 0.5px,#00008f 60.5px,#00009c 110.5px,#000095 150.5px,#000087 207.5px,#000085 226.5px)"></i>
</div>
<div class="a" style="left:282px;top:12px;width:12px;height:210px;background:linear-gradient(180deg,#800000 0%,#ff0000 12.5%,#ffff00 37.5%,#00ffff 62.5%,#0000ff 87.5%,#000080 100%)"></div>
<div class="a" style="left:645px;top:14px;width:12px;height:209px;background:linear-gradient(180deg,#800000 0%,#ff0000 12.5%,#ffff00 37.5%,#00ffff 62.5%,#0000ff 87.5%,#000080 100%)"></div>
<svg class="a" style="left:0;top:0" width="685" height="282"><line x1="42.75" y1="0.5" x2="42.75" y2="235" stroke="#000" stroke-width="1.5"/><line x1="42" y1="234.5" x2="270" y2="234.5" stroke="#000" stroke-width="2"/><line x1="43" y1="29.4" x2="53" y2="29.4" stroke="#000" stroke-width="1.5"/><line x1="43" y1="76" x2="48.5" y2="76" stroke="#000" stroke-width="1.3"/><line x1="43" y1="122.7" x2="53" y2="122.7" stroke="#000" stroke-width="1.5"/><line x1="43" y1="169.3" x2="48.5" y2="169.3" stroke="#000" stroke-width="1.3"/><line x1="43" y1="215.9" x2="53" y2="215.9" stroke="#000" stroke-width="1.5"/><line x1="43.5" y1="234" x2="43.5" y2="225" stroke="#000" stroke-width="1.3"/><line x1="48.0" y1="234" x2="48.0" y2="230.5" stroke="#000" stroke-width="1.3"/><line x1="53.0" y1="234" x2="53.0" y2="230.5" stroke="#000" stroke-width="1.3"/><line x1="57.5" y1="234" x2="57.5" y2="230.5" stroke="#000" stroke-width="1.3"/><line x1="62.0" y1="234" x2="62.0" y2="230.5" stroke="#000" stroke-width="1.3"/><line x1="66.5" y1="234" x2="66.5" y2="230.5" stroke="#000" stroke-width="1.3"/><line x1="71.0" y1="234" x2="71.0" y2="230.5" stroke="#000" stroke-width="1.3"/><line x1="75.5" y1="234" x2="75.5" y2="230.5" stroke="#000" stroke-width="1.3"/><line x1="80.0" y1="234" x2="80.0" y2="230.5" stroke="#000" stroke-width="1.3"/><line x1="84.5" y1="234" x2="84.5" y2="230.5" stroke="#000" stroke-width="1.3"/><line x1="89.0" y1="234" x2="89.0" y2="230.5" stroke="#000" stroke-width="1.3"/><line x1="93.5" y1="234" x2="93.5" y2="230.5" stroke="#000" stroke-width="1.3"/><line x1="98.0" y1="234" x2="98.0" y2="230.5" stroke="#000" stroke-width="1.3"/><line x1="102.5" y1="234" x2="102.5" y2="230.5" stroke="#000" stroke-width="1.3"/><line x1="107.0" y1="234" x2="107.0" y2="225" stroke="#000" stroke-width="1.3"/><line x1="111.5" y1="234" x2="111.5" y2="230.5" stroke="#000" stroke-width="1.3"/><line x1="116.0" y1="234" x2="116.0" y2="230.5" stroke="#000" stroke-width="1.3"/><line x1="120.5" y1="234" x2="120.5" y2="230.5" stroke="#000" stroke-width="1.3"/><line x1="125.0" y1="234" x2="125.0" y2="230.5" stroke="#000" stroke-width="1.3"/><line x1="129.5" y1="234" x2="129.5" y2="230.5" stroke="#000" stroke-width="1.3"/><line x1="134.0" y1="234" x2="134.0" y2="230.5" stroke="#000" stroke-width="1.3"/><line x1="138.5" y1="234" x2="138.5" y2="230.5" stroke="#000" stroke-width="1.3"/><line x1="143.0" y1="234" x2="143.0" y2="230.5" stroke="#000" stroke-width="1.3"/><line x1="147.5" y1="234" x2="147.5" y2="230.5" stroke="#000" stroke-width="1.3"/><line x1="152.0" y1="234" x2="152.0" y2="230.5" stroke="#000" stroke-width="1.3"/><line x1="156.5" y1="234" x2="156.5" y2="230.5" stroke="#000" stroke-width="1.3"/><line x1="161.0" y1="234" x2="161.0" y2="230.5" stroke="#000" stroke-width="1.3"/><line x1="166.0" y1="234" x2="166.0" y2="230.5" stroke="#000" stroke-width="1.3"/><line x1="170.5" y1="234" x2="170.5" y2="225" stroke="#000" stroke-width="1.3"/><line x1="175.0" y1="234" x2="175.0" y2="230.5" stroke="#000" stroke-width="1.3"/><line x1="179.5" y1="234" x2="179.5" y2="230.5" stroke="#000" stroke-width="1.3"/><line x1="184.0" y1="234" x2="184.0" y2="230.5" stroke="#000" stroke-width="1.3"/><line x1="188.5" y1="234" x2="188.5" y2="230.5" stroke="#000" stroke-width="1.3"/><line x1="193.0" y1="234" x2="193.0" y2="230.5" stroke="#000" stroke-width="1.3"/><line x1="197.5" y1="234" x2="197.5" y2="230.5" stroke="#000" stroke-width="1.3"/><line x1="202.0" y1="234" x2="202.0" y2="230.5" stroke="#000" stroke-width="1.3"/><line x1="206.5" y1="234" x2="206.5" y2="230.5" stroke="#000" stroke-width="1.3"/><line x1="211.0" y1="234" x2="211.0" y2="230.5" stroke="#000" stroke-width="1.3"/><line x1="215.5" y1="234" x2="215.5" y2="230.5" stroke="#000" stroke-width="1.3"/><line x1="220.0" y1="234" x2="220.0" y2="230.5" stroke="#000" stroke-width="1.3"/><line x1="224.5" y1="234" x2="224.5" y2="230.5" stroke="#000" stroke-width="1.3"/><line x1="229.0" y1="234" x2="229.0" y2="230.5" stroke="#000" stroke-width="1.3"/><line x1="233.5" y1="234" x2="233.5" y2="225" stroke="#000" stroke-width="1.3"/><line x1="238.0" y1="234" x2="238.0" y2="230.5" stroke="#000" stroke-width="1.3"/><line x1="242.5" y1="234" x2="242.5" y2="230.5" stroke="#000" stroke-width="1.3"/><line x1="247.0" y1="234" x2="247.0" y2="230.5" stroke="#000" stroke-width="1.3"/><line x1="251.5" y1="234" x2="251.5" y2="230.5" stroke="#000" stroke-width="1.3"/><line x1="256.0" y1="234" x2="256.0" y2="230.5" stroke="#000" stroke-width="1.3"/><line x1="260.5" y1="234" x2="260.5" y2="230.5" stroke="#000" stroke-width="1.3"/><line x1="265.0" y1="234" x2="265.0" y2="230.5" stroke="#000" stroke-width="1.3"/><line x1="269.5" y1="234" x2="269.5" y2="230.5" stroke="#000" stroke-width="1.3"/><line x1="43" y1="112.5" x2="270" y2="112.5" stroke="#000" stroke-width="1.1"/><line x1="43" y1="122.7" x2="270" y2="122.7" stroke="#000" stroke-width="2"/><line x1="154.8" y1="112.5" x2="154.8" y2="122.7" stroke="#000" stroke-width="2.4"/><line x1="158.5" y1="112.5" x2="158.5" y2="122.7" stroke="#000" stroke-width="2.4"/><line x1="405.7" y1="2.5" x2="405.7" y2="236.4" stroke="#000" stroke-width="1.5"/><line x1="405" y1="235.4" x2="633" y2="235.4" stroke="#000" stroke-width="2"/><line x1="406" y1="16.5" x2="416.5" y2="16.5" stroke="#000" stroke-width="1.3"/><line x1="406" y1="30.5" x2="411" y2="30.5" stroke="#000" stroke-width="1.3"/><line x1="406" y1="45.0" x2="411" y2="45.0" stroke="#000" stroke-width="1.3"/><line x1="406" y1="59.0" x2="411" y2="59.0" stroke="#000" stroke-width="1.3"/><line x1="406" y1="73.5" x2="411" y2="73.5" stroke="#000" stroke-width="1.3"/><line x1="406" y1="87.5" x2="416.5" y2="87.5" stroke="#000" stroke-width="1.3"/><line x1="406" y1="101.5" x2="411" y2="101.5" stroke="#000" stroke-width="1.3"/><line x1="406" y1="116.0" x2="411" y2="116.0" stroke="#000" stroke-width="1.3"/><line x1="406" y1="130.0" x2="411" y2="130.0" stroke="#000" stroke-width="1.3"/><line x1="406" y1="144.0" x2="411" y2="144.0" stroke="#000" stroke-width="1.3"/><line x1="406" y1="158.5" x2="416.5" y2="158.5" stroke="#000" stroke-width="1.3"/><line x1="406" y1="172.5" x2="411" y2="172.5" stroke="#000" stroke-width="1.3"/><line x1="406" y1="187.0" x2="411" y2="187.0" stroke="#000" stroke-width="1.3"/><line x1="406" y1="201.0" x2="411" y2="201.0" stroke="#000" stroke-width="1.3"/><line x1="406" y1="215.0" x2="411" y2="215.0" stroke="#000" stroke-width="1.3"/><line x1="406" y1="229.5" x2="416.5" y2="229.5" stroke="#000" stroke-width="1.3"/><line x1="406.0" y1="235" x2="406.0" y2="225" stroke="#000" stroke-width="1.3"/><line x1="417.0" y1="235" x2="417.0" y2="230" stroke="#000" stroke-width="1.3"/><line x1="428.5" y1="235" x2="428.5" y2="230" stroke="#000" stroke-width="1.3"/><line x1="440.0" y1="235" x2="440.0" y2="230" stroke="#000" stroke-width="1.3"/><line x1="451.0" y1="235" x2="451.0" y2="230" stroke="#000" stroke-width="1.3"/><line x1="462.5" y1="235" x2="462.5" y2="230" stroke="#000" stroke-width="1.3"/><line x1="473.5" y1="235" x2="473.5" y2="225" stroke="#000" stroke-width="1.3"/><line x1="485.0" y1="235" x2="485.0" y2="230" stroke="#000" stroke-width="1.3"/><line x1="496.5" y1="235" x2="496.5" y2="230" stroke="#000" stroke-width="1.3"/><line x1="507.5" y1="235" x2="507.5" y2="230" stroke="#000" stroke-width="1.3"/><line x1="519.0" y1="235" x2="519.0" y2="230" stroke="#000" stroke-width="1.3"/><line x1="530.5" y1="235" x2="530.5" y2="230" stroke="#000" stroke-width="1.3"/><line x1="541.5" y1="235" x2="541.5" y2="225" stroke="#000" stroke-width="1.3"/><line x1="553.0" y1="235" x2="553.0" y2="230" stroke="#000" stroke-width="1.3"/><line x1="564.5" y1="235" x2="564.5" y2="230" stroke="#000" stroke-width="1.3"/><line x1="575.5" y1="235" x2="575.5" y2="230" stroke="#000" stroke-width="1.3"/><line x1="587.0" y1="235" x2="587.0" y2="230" stroke="#000" stroke-width="1.3"/><line x1="598.0" y1="235" x2="598.0" y2="230" stroke="#000" stroke-width="1.3"/><line x1="609.5" y1="235" x2="609.5" y2="225" stroke="#000" stroke-width="1.3"/><line x1="621.0" y1="235" x2="621.0" y2="230" stroke="#000" stroke-width="1.3"/><line x1="632.0" y1="235" x2="632.0" y2="230" stroke="#000" stroke-width="1.3"/><line x1="406" y1="98.5" x2="513.8" y2="98.5" stroke="#000" stroke-width="2"/><line x1="525.2" y1="98.5" x2="633" y2="98.5" stroke="#000" stroke-width="2"/><line x1="406" y1="130.7" x2="633" y2="130.7" stroke="#000" stroke-width="2"/><line x1="513.8" y1="98.5" x2="513.8" y2="130.7" stroke="#000" stroke-width="2"/><line x1="525.2" y1="98.5" x2="525.2" y2="130.7" stroke="#000" stroke-width="2"/><line x1="282" y1="12.3" x2="299" y2="12.3" stroke="#000" stroke-width="1.3"/><line x1="282" y1="55.1" x2="299" y2="55.1" stroke="#000" stroke-width="1.3"/><line x1="282" y1="96.6" x2="299" y2="96.6" stroke="#000" stroke-width="1.3"/><line x1="282" y1="139.1" x2="299" y2="139.1" stroke="#000" stroke-width="1.3"/><line x1="282" y1="180.6" x2="299" y2="180.6" stroke="#000" stroke-width="1.3"/><line x1="282" y1="221.7" x2="299" y2="221.7" stroke="#000" stroke-width="1.3"/><line x1="645" y1="13.9" x2="661.8" y2="13.9" stroke="#000" stroke-width="1.3"/><line x1="645" y1="56.4" x2="661.8" y2="56.4" stroke="#000" stroke-width="1.3"/><line x1="645" y1="97.9" x2="661.8" y2="97.9" stroke="#000" stroke-width="1.3"/><line x1="645" y1="140.5" x2="661.8" y2="140.5" stroke="#000" stroke-width="1.3"/><line x1="645" y1="181.9" x2="661.8" y2="181.9" stroke="#000" stroke-width="1.3"/><line x1="645" y1="223.1" x2="661.8" y2="223.1" stroke="#000" stroke-width="1.3"/></svg>
<span class="n" style="right:645px;top:22.299999999999997px">2</span><span class="n" style="right:645px;top:115.60000000000001px">0</span><span class="n" style="right:645px;top:208.8px">-2</span><span class="n" style="left:-7px;width:100px;text-align:center;top:238.3px">-1.5</span><span class="n" style="left:55.7px;width:100px;text-align:center;top:238.3px">-0.1</span><span class="n" style="left:120.5px;width:100px;text-align:center;top:238.3px">1.3</span><span class="n" style="left:183.5px;width:100px;text-align:center;top:238.3px">2.7</span><span class="n" style="left:299.5px;top:5.200000000000001px">0</span><span class="n" style="left:299.5px;top:48.0px">-2</span><span class="n" style="left:299.5px;top:89.5px">-4</span><span class="n" style="left:299.5px;top:132.0px">-6</span><span class="n" style="left:299.5px;top:173.5px">-8</span><span class="n" style="left:299.5px;top:214.6px">-10</span><span class="n" style="right:282.5px;top:9.4px">0.8</span><span class="n" style="right:282.5px;top:80.30000000000001px">0.3</span><span class="n" style="right:282.5px;top:151.3px">-0.2</span><span class="n" style="right:282.5px;top:222.20000000000002px">-0.7</span><span class="n" style="left:356px;width:100px;text-align:center;top:239.4px">0.0</span><span class="n" style="left:424px;width:100px;text-align:center;top:239.4px">0.6</span><span class="n" style="left:492px;width:100px;text-align:center;top:239.4px">1.2</span><span class="n" style="left:560px;width:100px;text-align:center;top:239.4px">1.8</span><span class="n" style="left:662.5px;top:6.800000000000001px">1.0</span><span class="n" style="left:662.5px;top:49.3px">0.8</span><span class="n" style="left:662.5px;top:90.80000000000001px">0.6</span><span class="n" style="left:662.5px;top:133.4px">0.4</span><span class="n" style="left:662.5px;top:174.8px">0.2</span><span class="n" style="left:662.5px;top:216.0px">0.0</span>
<span class="s" style="left:107.2px;top:264.5px">x-position (µm)</span>
<span class="s" style="left:471.5px;top:263.2px">x-position (µm)</span>
<span class="s" style="left:-52.6px;top:110.9px;width:120px;text-align:center;transform:rotate(-90deg);transform-origin:50% 50%">y-position (µm)</span>
<span class="s" style="left:295.25px;top:118.75px;width:120px;text-align:center;transform:rotate(-90deg);transform-origin:50% 50%">y-position (µm)</span>
<span class="y" style="left:423.5px;top:107.6px">Doped Si</span>
<span class="y" style="left:546px;top:107.6px">Doped Si</span>
<span class="y" style="left:484.5px;top:170px">Sapphire</span>
</body></html>
